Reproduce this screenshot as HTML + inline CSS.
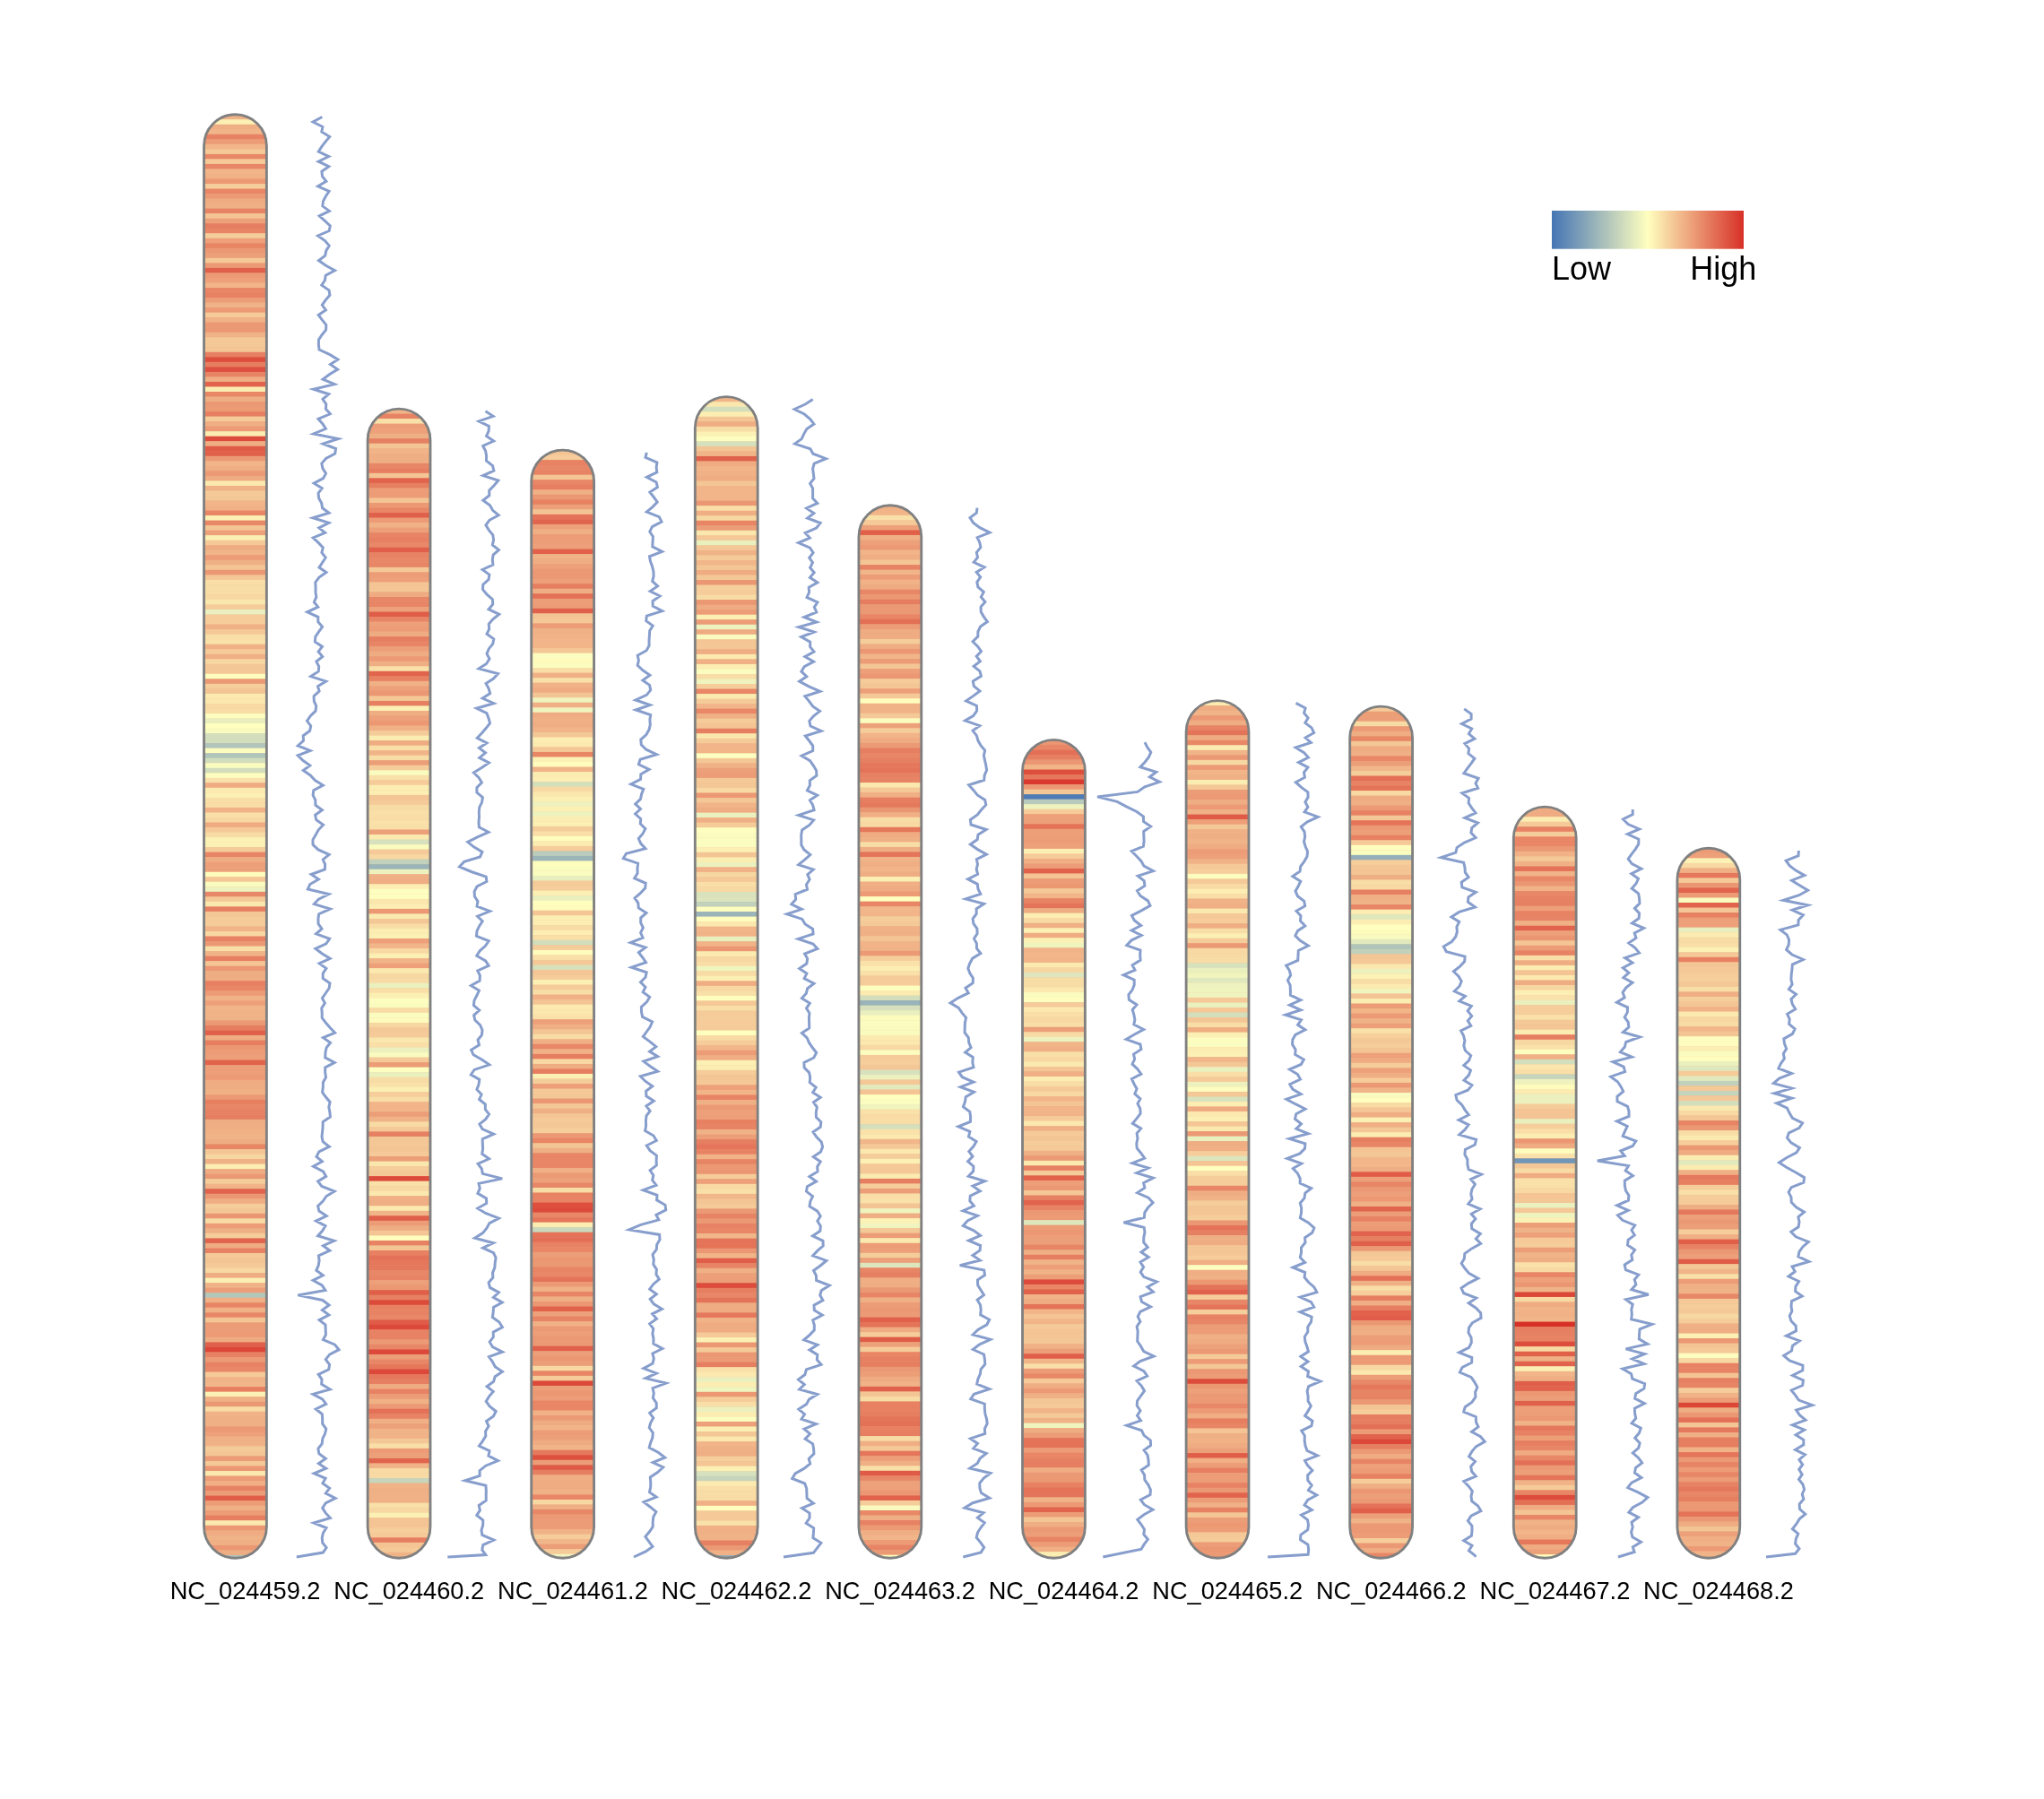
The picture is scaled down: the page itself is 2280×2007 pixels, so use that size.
<!DOCTYPE html><html><head><meta charset="utf-8"><style>html,body{margin:0;padding:0;background:#fff}svg{display:block;will-change:transform}text{font-family:"Liberation Sans",sans-serif;fill:#000}</style></head><body>
<svg width="2280" height="2007" viewBox="0 0 2280 2007">
<rect width="2280" height="2007" fill="#fff"/>
<defs><linearGradient id="lg" x1="0" x2="1" y1="0" y2="0"><stop offset="0" stop-color="#4575b4"/><stop offset="0.5" stop-color="#ffffbf"/><stop offset="1" stop-color="#d73027"/></linearGradient>
<clipPath id="c0"><rect x="227.53" y="127.70" width="69.85" height="1610.50" rx="34.93" ry="34.93"/></clipPath>
<clipPath id="c1"><rect x="410.12" y="456.05" width="69.85" height="1282.15" rx="34.93" ry="34.93"/></clipPath>
<clipPath id="c2"><rect x="592.72" y="502.05" width="69.85" height="1236.15" rx="34.93" ry="34.93"/></clipPath>
<clipPath id="c3"><rect x="775.32" y="442.68" width="69.85" height="1295.52" rx="34.93" ry="34.93"/></clipPath>
<clipPath id="c4"><rect x="957.92" y="563.79" width="69.85" height="1174.41" rx="34.93" ry="34.93"/></clipPath>
<clipPath id="c5"><rect x="1140.52" y="825.37" width="69.85" height="912.83" rx="34.93" ry="34.93"/></clipPath>
<clipPath id="c6"><rect x="1323.12" y="781.57" width="69.85" height="956.63" rx="34.93" ry="34.93"/></clipPath>
<clipPath id="c7"><rect x="1505.72" y="788.18" width="69.85" height="950.02" rx="34.93" ry="34.93"/></clipPath>
<clipPath id="c8"><rect x="1688.32" y="900.17" width="69.85" height="838.03" rx="34.93" ry="34.93"/></clipPath>
<clipPath id="c9"><rect x="1870.92" y="946.27" width="69.85" height="791.93" rx="34.93" ry="34.93"/></clipPath>
</defs>
<g clip-path="url(#c0)"><rect x="227.53" y="127.70" width="69.85" height="1610.50" fill="#f0b085"/><rect x="226.5" y="127.70" width="71.9" height="5.87" fill="#f0b287"/><rect x="226.5" y="133.22" width="71.9" height="5.87" fill="#fcf0b4"/><rect x="226.5" y="138.75" width="71.9" height="5.87" fill="#efaf84"/><rect x="226.5" y="144.27" width="71.9" height="5.87" fill="#f1b589"/><rect x="226.5" y="149.79" width="71.9" height="5.87" fill="#e78264"/><rect x="226.5" y="155.32" width="71.9" height="5.87" fill="#ec9d77"/><rect x="226.5" y="160.84" width="71.9" height="5.87" fill="#f1b589"/><rect x="226.5" y="166.36" width="71.9" height="5.87" fill="#f5c997"/><rect x="226.5" y="171.88" width="71.9" height="5.87" fill="#e88867"/><rect x="226.5" y="177.41" width="71.9" height="5.87" fill="#f5ca98"/><rect x="226.5" y="182.93" width="71.9" height="5.87" fill="#e88767"/><rect x="226.5" y="188.45" width="71.9" height="5.87" fill="#f1b588"/><rect x="226.5" y="193.98" width="71.9" height="5.87" fill="#f0b186"/><rect x="226.5" y="199.50" width="71.9" height="5.87" fill="#eb9873"/><rect x="226.5" y="205.02" width="71.9" height="5.87" fill="#f5cd9a"/><rect x="226.5" y="210.55" width="71.9" height="5.87" fill="#e88666"/><rect x="226.5" y="216.07" width="71.9" height="5.87" fill="#ec9a75"/><rect x="226.5" y="221.59" width="71.9" height="5.87" fill="#efac82"/><rect x="226.5" y="227.11" width="71.9" height="5.87" fill="#f0b085"/><rect x="226.5" y="232.64" width="71.9" height="5.87" fill="#e78465"/><rect x="226.5" y="238.16" width="71.9" height="5.87" fill="#f4c494"/><rect x="226.5" y="243.68" width="71.9" height="5.87" fill="#eda17a"/><rect x="226.5" y="249.21" width="71.9" height="5.87" fill="#e67f61"/><rect x="226.5" y="254.73" width="71.9" height="5.87" fill="#e78565"/><rect x="226.5" y="260.25" width="71.9" height="5.87" fill="#f5cd9a"/><rect x="226.5" y="265.78" width="71.9" height="5.87" fill="#eda079"/><rect x="226.5" y="271.30" width="71.9" height="5.87" fill="#e78565"/><rect x="226.5" y="276.82" width="71.9" height="5.87" fill="#eb9874"/><rect x="226.5" y="282.34" width="71.9" height="5.87" fill="#ec9f79"/><rect x="226.5" y="287.87" width="71.9" height="5.87" fill="#f4c897"/><rect x="226.5" y="293.39" width="71.9" height="5.87" fill="#ec9a75"/><rect x="226.5" y="298.91" width="71.9" height="5.87" fill="#e0614b"/><rect x="226.5" y="304.44" width="71.9" height="5.87" fill="#ec9b76"/><rect x="226.5" y="309.96" width="71.9" height="5.87" fill="#eda079"/><rect x="226.5" y="315.48" width="71.9" height="5.87" fill="#f1b589"/><rect x="226.5" y="321.00" width="71.9" height="5.87" fill="#e88666"/><rect x="226.5" y="326.53" width="71.9" height="5.87" fill="#e78162"/><rect x="226.5" y="332.05" width="71.9" height="5.87" fill="#ec9c77"/><rect x="226.5" y="337.57" width="71.9" height="5.87" fill="#f0b287"/><rect x="226.5" y="343.10" width="71.9" height="5.87" fill="#ec9b75"/><rect x="226.5" y="348.62" width="71.9" height="5.87" fill="#f5ca98"/><rect x="226.5" y="354.14" width="71.9" height="5.87" fill="#f0b287"/><rect x="226.5" y="359.67" width="71.9" height="5.87" fill="#eb9874"/><rect x="226.5" y="365.19" width="71.9" height="5.87" fill="#eb9974"/><rect x="226.5" y="370.71" width="71.9" height="5.87" fill="#f0b387"/><rect x="226.5" y="376.24" width="71.9" height="5.87" fill="#f4c897"/><rect x="226.5" y="381.76" width="71.9" height="5.87" fill="#f5c997"/><rect x="226.5" y="387.28" width="71.9" height="5.87" fill="#f4c595"/><rect x="226.5" y="392.80" width="71.9" height="5.87" fill="#e78062"/><rect x="226.5" y="398.33" width="71.9" height="5.87" fill="#dd4d3c"/><rect x="226.5" y="403.85" width="71.9" height="5.87" fill="#e67e60"/><rect x="226.5" y="409.37" width="71.9" height="5.87" fill="#dd4f3e"/><rect x="226.5" y="414.90" width="71.9" height="5.87" fill="#e78464"/><rect x="226.5" y="420.42" width="71.9" height="5.87" fill="#efae83"/><rect x="226.5" y="425.94" width="71.9" height="5.87" fill="#e1634d"/><rect x="226.5" y="431.47" width="71.9" height="5.87" fill="#fbecb1"/><rect x="226.5" y="436.99" width="71.9" height="5.87" fill="#e88867"/><rect x="226.5" y="442.51" width="71.9" height="5.87" fill="#efaf84"/><rect x="226.5" y="448.03" width="71.9" height="5.87" fill="#eb9974"/><rect x="226.5" y="453.56" width="71.9" height="5.87" fill="#ec9b75"/><rect x="226.5" y="459.08" width="71.9" height="5.87" fill="#e67f61"/><rect x="226.5" y="464.60" width="71.9" height="5.87" fill="#f5cb99"/><rect x="226.5" y="470.13" width="71.9" height="5.87" fill="#efae84"/><rect x="226.5" y="475.65" width="71.9" height="5.87" fill="#ec9b75"/><rect x="226.5" y="481.17" width="71.9" height="5.87" fill="#fbecb1"/><rect x="226.5" y="486.70" width="71.9" height="5.87" fill="#dc4b3b"/><rect x="226.5" y="492.22" width="71.9" height="5.87" fill="#efad83"/><rect x="226.5" y="497.74" width="71.9" height="5.87" fill="#df5b46"/><rect x="226.5" y="503.26" width="71.9" height="5.87" fill="#e0604a"/><rect x="226.5" y="508.79" width="71.9" height="5.87" fill="#eb9a75"/><rect x="226.5" y="514.31" width="71.9" height="5.87" fill="#f1b589"/><rect x="226.5" y="519.83" width="71.9" height="5.87" fill="#efae84"/><rect x="226.5" y="525.36" width="71.9" height="5.87" fill="#eb9a75"/><rect x="226.5" y="530.88" width="71.9" height="5.87" fill="#efab81"/><rect x="226.5" y="536.40" width="71.9" height="5.87" fill="#fbe9af"/><rect x="226.5" y="541.92" width="71.9" height="5.87" fill="#f0b387"/><rect x="226.5" y="547.45" width="71.9" height="5.87" fill="#f5ca98"/><rect x="226.5" y="552.97" width="71.9" height="5.87" fill="#f4c796"/><rect x="226.5" y="558.49" width="71.9" height="5.87" fill="#f1b589"/><rect x="226.5" y="564.02" width="71.9" height="5.87" fill="#f0b186"/><rect x="226.5" y="569.54" width="71.9" height="5.87" fill="#e88666"/><rect x="226.5" y="575.06" width="71.9" height="5.87" fill="#fcf0b4"/><rect x="226.5" y="580.59" width="71.9" height="5.87" fill="#e88867"/><rect x="226.5" y="586.11" width="71.9" height="5.87" fill="#f4c695"/><rect x="226.5" y="591.63" width="71.9" height="5.87" fill="#eda079"/><rect x="226.5" y="597.15" width="71.9" height="5.87" fill="#fcefb3"/><rect x="226.5" y="602.68" width="71.9" height="5.87" fill="#f5ca98"/><rect x="226.5" y="608.20" width="71.9" height="5.87" fill="#efac82"/><rect x="226.5" y="613.72" width="71.9" height="5.87" fill="#f1b589"/><rect x="226.5" y="619.25" width="71.9" height="5.87" fill="#ec9c76"/><rect x="226.5" y="624.77" width="71.9" height="5.87" fill="#f0b085"/><rect x="226.5" y="630.29" width="71.9" height="5.87" fill="#f4c594"/><rect x="226.5" y="635.82" width="71.9" height="5.87" fill="#eb9874"/><rect x="226.5" y="641.34" width="71.9" height="5.87" fill="#f4c595"/><rect x="226.5" y="646.86" width="71.9" height="5.87" fill="#f9dea7"/><rect x="226.5" y="652.38" width="71.9" height="5.87" fill="#f8dda6"/><rect x="226.5" y="657.91" width="71.9" height="5.87" fill="#f8dda6"/><rect x="226.5" y="663.43" width="71.9" height="5.87" fill="#f7d8a2"/><rect x="226.5" y="668.95" width="71.9" height="5.87" fill="#fae7ae"/><rect x="226.5" y="674.48" width="71.9" height="5.87" fill="#f5cd9a"/><rect x="226.5" y="680.00" width="71.9" height="5.87" fill="#e9efbe"/><rect x="226.5" y="685.52" width="71.9" height="5.87" fill="#f5cc9a"/><rect x="226.5" y="691.05" width="71.9" height="5.87" fill="#f5cc9a"/><rect x="226.5" y="696.57" width="71.9" height="5.87" fill="#f0b185"/><rect x="226.5" y="702.09" width="71.9" height="5.87" fill="#f4c897"/><rect x="226.5" y="707.62" width="71.9" height="5.87" fill="#f9dea7"/><rect x="226.5" y="713.14" width="71.9" height="5.87" fill="#f9e1a9"/><rect x="226.5" y="718.66" width="71.9" height="5.87" fill="#f0b186"/><rect x="226.5" y="724.18" width="71.9" height="5.87" fill="#f5cb99"/><rect x="226.5" y="729.71" width="71.9" height="5.87" fill="#f0b085"/><rect x="226.5" y="735.23" width="71.9" height="5.87" fill="#f7d7a2"/><rect x="226.5" y="740.75" width="71.9" height="5.87" fill="#f4c796"/><rect x="226.5" y="746.28" width="71.9" height="5.87" fill="#f5c997"/><rect x="226.5" y="751.80" width="71.9" height="5.87" fill="#fefebf"/><rect x="226.5" y="757.32" width="71.9" height="5.87" fill="#eb9a75"/><rect x="226.5" y="762.85" width="71.9" height="5.87" fill="#f6ce9b"/><rect x="226.5" y="768.37" width="71.9" height="5.87" fill="#f4c594"/><rect x="226.5" y="773.89" width="71.9" height="5.87" fill="#fbe9af"/><rect x="226.5" y="779.41" width="71.9" height="5.87" fill="#fbe8ae"/><rect x="226.5" y="784.94" width="71.9" height="5.87" fill="#f8d9a3"/><rect x="226.5" y="790.46" width="71.9" height="5.87" fill="#f8dda6"/><rect x="226.5" y="795.98" width="71.9" height="5.87" fill="#fcfdbf"/><rect x="226.5" y="801.51" width="71.9" height="5.87" fill="#e9eebe"/><rect x="226.5" y="807.03" width="71.9" height="5.87" fill="#feffbf"/><rect x="226.5" y="812.55" width="71.9" height="5.87" fill="#f9fabf"/><rect x="226.5" y="818.08" width="71.9" height="5.87" fill="#d2debc"/><rect x="226.5" y="823.60" width="71.9" height="5.87" fill="#d3dfbc"/><rect x="226.5" y="829.12" width="71.9" height="5.87" fill="#b1c5ba"/><rect x="226.5" y="834.64" width="71.9" height="5.87" fill="#fcfcbf"/><rect x="226.5" y="840.17" width="71.9" height="5.87" fill="#b0c5ba"/><rect x="226.5" y="845.69" width="71.9" height="5.87" fill="#d1ddbc"/><rect x="226.5" y="851.21" width="71.9" height="5.87" fill="#fafbbf"/><rect x="226.5" y="856.74" width="71.9" height="5.87" fill="#d2debc"/><rect x="226.5" y="862.26" width="71.9" height="5.87" fill="#fcfdbf"/><rect x="226.5" y="867.78" width="71.9" height="5.87" fill="#f9e1a9"/><rect x="226.5" y="873.30" width="71.9" height="5.87" fill="#efac82"/><rect x="226.5" y="878.83" width="71.9" height="5.87" fill="#fbebb0"/><rect x="226.5" y="884.35" width="71.9" height="5.87" fill="#fcf0b4"/><rect x="226.5" y="889.87" width="71.9" height="5.87" fill="#f9dea7"/><rect x="226.5" y="895.40" width="71.9" height="5.87" fill="#f9dda6"/><rect x="226.5" y="900.92" width="71.9" height="5.87" fill="#f0b286"/><rect x="226.5" y="906.44" width="71.9" height="5.87" fill="#f9e0a8"/><rect x="226.5" y="911.97" width="71.9" height="5.87" fill="#f7d8a2"/><rect x="226.5" y="917.49" width="71.9" height="5.87" fill="#efab81"/><rect x="226.5" y="923.01" width="71.9" height="5.87" fill="#f5ca98"/><rect x="226.5" y="928.53" width="71.9" height="5.87" fill="#f8dca5"/><rect x="226.5" y="934.06" width="71.9" height="5.87" fill="#fcf1b5"/><rect x="226.5" y="939.58" width="71.9" height="5.87" fill="#fcf1b4"/><rect x="226.5" y="945.10" width="71.9" height="5.87" fill="#f5cb99"/><rect x="226.5" y="950.63" width="71.9" height="5.87" fill="#e78566"/><rect x="226.5" y="956.15" width="71.9" height="5.87" fill="#efad83"/><rect x="226.5" y="961.67" width="71.9" height="5.87" fill="#ed9f79"/><rect x="226.5" y="967.20" width="71.9" height="5.87" fill="#eda17a"/><rect x="226.5" y="972.72" width="71.9" height="5.87" fill="#fefcbd"/><rect x="226.5" y="978.24" width="71.9" height="5.87" fill="#f5c997"/><rect x="226.5" y="983.76" width="71.9" height="5.87" fill="#fafbbf"/><rect x="226.5" y="989.29" width="71.9" height="5.87" fill="#edf2be"/><rect x="226.5" y="994.81" width="71.9" height="5.87" fill="#e88868"/><rect x="226.5" y="1000.33" width="71.9" height="5.87" fill="#f5c997"/><rect x="226.5" y="1005.86" width="71.9" height="5.87" fill="#fae7ae"/><rect x="226.5" y="1011.38" width="71.9" height="5.87" fill="#e67f61"/><rect x="226.5" y="1016.90" width="71.9" height="5.87" fill="#f4c796"/><rect x="226.5" y="1022.43" width="71.9" height="5.87" fill="#f5cc99"/><rect x="226.5" y="1027.95" width="71.9" height="5.87" fill="#f5cb99"/><rect x="226.5" y="1033.47" width="71.9" height="5.87" fill="#f0b488"/><rect x="226.5" y="1038.99" width="71.9" height="5.87" fill="#f8d9a3"/><rect x="226.5" y="1044.52" width="71.9" height="5.87" fill="#e78264"/><rect x="226.5" y="1050.04" width="71.9" height="5.87" fill="#eb9974"/><rect x="226.5" y="1055.56" width="71.9" height="5.87" fill="#f9dea7"/><rect x="226.5" y="1061.09" width="71.9" height="5.87" fill="#f0b387"/><rect x="226.5" y="1066.61" width="71.9" height="5.87" fill="#e67f61"/><rect x="226.5" y="1072.13" width="71.9" height="5.87" fill="#f4c494"/><rect x="226.5" y="1077.66" width="71.9" height="5.87" fill="#eb9873"/><rect x="226.5" y="1083.18" width="71.9" height="5.87" fill="#efad83"/><rect x="226.5" y="1088.70" width="71.9" height="5.87" fill="#efad83"/><rect x="226.5" y="1094.22" width="71.9" height="5.87" fill="#e78062"/><rect x="226.5" y="1099.75" width="71.9" height="5.87" fill="#e88666"/><rect x="226.5" y="1105.27" width="71.9" height="5.87" fill="#ec9b76"/><rect x="226.5" y="1110.79" width="71.9" height="5.87" fill="#f0b286"/><rect x="226.5" y="1116.32" width="71.9" height="5.87" fill="#eda17a"/><rect x="226.5" y="1121.84" width="71.9" height="5.87" fill="#f1b589"/><rect x="226.5" y="1127.36" width="71.9" height="5.87" fill="#f0b387"/><rect x="226.5" y="1132.89" width="71.9" height="5.87" fill="#f0b387"/><rect x="226.5" y="1138.41" width="71.9" height="5.87" fill="#eb9a75"/><rect x="226.5" y="1143.93" width="71.9" height="5.87" fill="#e67e60"/><rect x="226.5" y="1149.45" width="71.9" height="5.87" fill="#e0604a"/><rect x="226.5" y="1154.98" width="71.9" height="5.87" fill="#efac82"/><rect x="226.5" y="1160.50" width="71.9" height="5.87" fill="#e67e60"/><rect x="226.5" y="1166.02" width="71.9" height="5.87" fill="#eb9772"/><rect x="226.5" y="1171.55" width="71.9" height="5.87" fill="#ec9d77"/><rect x="226.5" y="1177.07" width="71.9" height="5.87" fill="#ec9f78"/><rect x="226.5" y="1182.59" width="71.9" height="5.87" fill="#e1634c"/><rect x="226.5" y="1188.12" width="71.9" height="5.87" fill="#ec9f78"/><rect x="226.5" y="1193.64" width="71.9" height="5.87" fill="#ec9f78"/><rect x="226.5" y="1199.16" width="71.9" height="5.87" fill="#ec9a75"/><rect x="226.5" y="1204.68" width="71.9" height="5.87" fill="#efac82"/><rect x="226.5" y="1210.21" width="71.9" height="5.87" fill="#efad83"/><rect x="226.5" y="1215.73" width="71.9" height="5.87" fill="#f0b185"/><rect x="226.5" y="1221.25" width="71.9" height="5.87" fill="#eb9a75"/><rect x="226.5" y="1226.78" width="71.9" height="5.87" fill="#e68061"/><rect x="226.5" y="1232.30" width="71.9" height="5.87" fill="#e88767"/><rect x="226.5" y="1237.82" width="71.9" height="5.87" fill="#e78163"/><rect x="226.5" y="1243.35" width="71.9" height="5.87" fill="#e67e61"/><rect x="226.5" y="1248.87" width="71.9" height="5.87" fill="#efad83"/><rect x="226.5" y="1254.39" width="71.9" height="5.87" fill="#efae83"/><rect x="226.5" y="1259.91" width="71.9" height="5.87" fill="#f0b185"/><rect x="226.5" y="1265.44" width="71.9" height="5.87" fill="#f0b488"/><rect x="226.5" y="1270.96" width="71.9" height="5.87" fill="#efad83"/><rect x="226.5" y="1276.48" width="71.9" height="5.87" fill="#e78565"/><rect x="226.5" y="1282.01" width="71.9" height="5.87" fill="#f4c695"/><rect x="226.5" y="1287.53" width="71.9" height="5.87" fill="#f7d7a1"/><rect x="226.5" y="1293.05" width="71.9" height="5.87" fill="#f0b186"/><rect x="226.5" y="1298.58" width="71.9" height="5.87" fill="#fcedb2"/><rect x="226.5" y="1304.10" width="71.9" height="5.87" fill="#efac82"/><rect x="226.5" y="1309.62" width="71.9" height="5.87" fill="#eb9974"/><rect x="226.5" y="1315.14" width="71.9" height="5.87" fill="#f5cd9a"/><rect x="226.5" y="1320.67" width="71.9" height="5.87" fill="#f1b488"/><rect x="226.5" y="1326.19" width="71.9" height="5.87" fill="#e1634d"/><rect x="226.5" y="1331.71" width="71.9" height="5.87" fill="#eb9773"/><rect x="226.5" y="1337.24" width="71.9" height="5.87" fill="#efad83"/><rect x="226.5" y="1342.76" width="71.9" height="5.87" fill="#f5cd9a"/><rect x="226.5" y="1348.28" width="71.9" height="5.87" fill="#f4c695"/><rect x="226.5" y="1353.81" width="71.9" height="5.87" fill="#eb9672"/><rect x="226.5" y="1359.33" width="71.9" height="5.87" fill="#f8daa4"/><rect x="226.5" y="1364.85" width="71.9" height="5.87" fill="#ec9d77"/><rect x="226.5" y="1370.38" width="71.9" height="5.87" fill="#f0b085"/><rect x="226.5" y="1375.90" width="71.9" height="5.87" fill="#f5cd9a"/><rect x="226.5" y="1381.42" width="71.9" height="5.87" fill="#e1654e"/><rect x="226.5" y="1386.94" width="71.9" height="5.87" fill="#efab82"/><rect x="226.5" y="1392.47" width="71.9" height="5.87" fill="#e78163"/><rect x="226.5" y="1397.99" width="71.9" height="5.87" fill="#f5c997"/><rect x="226.5" y="1403.51" width="71.9" height="5.87" fill="#f4c594"/><rect x="226.5" y="1409.04" width="71.9" height="5.87" fill="#f5ca98"/><rect x="226.5" y="1414.56" width="71.9" height="5.87" fill="#f7d8a2"/><rect x="226.5" y="1420.08" width="71.9" height="5.87" fill="#efad83"/><rect x="226.5" y="1425.61" width="71.9" height="5.87" fill="#fcefb4"/><rect x="226.5" y="1431.13" width="71.9" height="5.87" fill="#f0b387"/><rect x="226.5" y="1436.65" width="71.9" height="5.87" fill="#ec9e78"/><rect x="226.5" y="1442.17" width="71.9" height="5.87" fill="#b2c6ba"/><rect x="226.5" y="1447.70" width="71.9" height="5.87" fill="#f0af85"/><rect x="226.5" y="1453.22" width="71.9" height="5.87" fill="#e88566"/><rect x="226.5" y="1458.74" width="71.9" height="5.87" fill="#f0b186"/><rect x="226.5" y="1464.27" width="71.9" height="5.87" fill="#e88767"/><rect x="226.5" y="1469.79" width="71.9" height="5.87" fill="#f4c594"/><rect x="226.5" y="1475.31" width="71.9" height="5.87" fill="#ec9d77"/><rect x="226.5" y="1480.84" width="71.9" height="5.87" fill="#ec9c76"/><rect x="226.5" y="1486.36" width="71.9" height="5.87" fill="#ec9b75"/><rect x="226.5" y="1491.88" width="71.9" height="5.87" fill="#efac82"/><rect x="226.5" y="1497.40" width="71.9" height="5.87" fill="#e0604b"/><rect x="226.5" y="1502.93" width="71.9" height="5.87" fill="#db4637"/><rect x="226.5" y="1508.45" width="71.9" height="5.87" fill="#e78364"/><rect x="226.5" y="1513.97" width="71.9" height="5.87" fill="#ec9b76"/><rect x="226.5" y="1519.50" width="71.9" height="5.87" fill="#e78364"/><rect x="226.5" y="1525.02" width="71.9" height="5.87" fill="#e88868"/><rect x="226.5" y="1530.54" width="71.9" height="5.87" fill="#f5ca98"/><rect x="226.5" y="1536.07" width="71.9" height="5.87" fill="#f0b488"/><rect x="226.5" y="1541.59" width="71.9" height="5.87" fill="#f1b689"/><rect x="226.5" y="1547.11" width="71.9" height="5.87" fill="#e68061"/><rect x="226.5" y="1552.63" width="71.9" height="5.87" fill="#fcf0b4"/><rect x="226.5" y="1558.16" width="71.9" height="5.87" fill="#f0b185"/><rect x="226.5" y="1563.68" width="71.9" height="5.87" fill="#eb9974"/><rect x="226.5" y="1569.20" width="71.9" height="5.87" fill="#f8dba5"/><rect x="226.5" y="1574.73" width="71.9" height="5.87" fill="#f0b287"/><rect x="226.5" y="1580.25" width="71.9" height="5.87" fill="#f0b085"/><rect x="226.5" y="1585.77" width="71.9" height="5.87" fill="#f0b085"/><rect x="226.5" y="1591.30" width="71.9" height="5.87" fill="#eb9974"/><rect x="226.5" y="1596.82" width="71.9" height="5.87" fill="#eda079"/><rect x="226.5" y="1602.34" width="71.9" height="5.87" fill="#f0b085"/><rect x="226.5" y="1607.86" width="71.9" height="5.87" fill="#f0b387"/><rect x="226.5" y="1613.39" width="71.9" height="5.87" fill="#f5cc99"/><rect x="226.5" y="1618.91" width="71.9" height="5.87" fill="#f4c695"/><rect x="226.5" y="1624.43" width="71.9" height="5.87" fill="#ec9c76"/><rect x="226.5" y="1629.96" width="71.9" height="5.87" fill="#f4c997"/><rect x="226.5" y="1635.48" width="71.9" height="5.87" fill="#eb9974"/><rect x="226.5" y="1641.00" width="71.9" height="5.87" fill="#fbe8ae"/><rect x="226.5" y="1646.52" width="71.9" height="5.87" fill="#ec9c76"/><rect x="226.5" y="1652.05" width="71.9" height="5.87" fill="#f0af84"/><rect x="226.5" y="1657.57" width="71.9" height="5.87" fill="#e78364"/><rect x="226.5" y="1663.09" width="71.9" height="5.87" fill="#ec9c76"/><rect x="226.5" y="1668.62" width="71.9" height="5.87" fill="#e05e48"/><rect x="226.5" y="1674.14" width="71.9" height="5.87" fill="#ec9c76"/><rect x="226.5" y="1679.66" width="71.9" height="5.87" fill="#f0b085"/><rect x="226.5" y="1685.19" width="71.9" height="5.87" fill="#ec9c76"/><rect x="226.5" y="1690.71" width="71.9" height="5.87" fill="#e67e60"/><rect x="226.5" y="1696.23" width="71.9" height="5.87" fill="#fbeab0"/><rect x="226.5" y="1701.75" width="71.9" height="5.87" fill="#eb9873"/><rect x="226.5" y="1707.28" width="71.9" height="5.87" fill="#efac82"/><rect x="226.5" y="1712.80" width="71.9" height="5.87" fill="#f0b387"/><rect x="226.5" y="1718.32" width="71.9" height="5.87" fill="#f0b085"/><rect x="226.5" y="1723.85" width="71.9" height="5.87" fill="#eb9773"/><rect x="226.5" y="1729.37" width="71.9" height="5.87" fill="#efad83"/><rect x="226.5" y="1734.89" width="71.9" height="5.66" fill="#b1c5ba"/></g>
<rect x="227.53" y="127.70" width="69.85" height="1610.50" rx="34.93" ry="34.93" fill="none" stroke="#808080" stroke-width="2.85"/>
<polyline fill="none" stroke="#879ecd" stroke-width="3.0" stroke-linejoin="miter" points="359.3,130.5 349.1,136.0 359.9,141.5 358.8,147.0 367.7,152.6 363.0,158.1 358.8,163.6 355.3,169.1 366.7,174.6 355.2,180.2 366.8,185.7 358.9,191.2 359.5,196.7 363.9,202.3 354.6,207.8 367.1,213.3 363.5,218.8 360.5,224.4 359.8,229.9 367.4,235.4 356.2,240.9 362.4,246.4 368.3,252.0 367.2,257.5 354.6,263.0 362.5,268.5 367.2,274.1 363.8,279.6 362.7,285.1 355.5,290.6 363.5,296.2 373.5,301.7 363.3,307.2 362.4,312.7 358.8,318.2 367.0,323.8 367.9,329.3 363.1,334.8 359.3,340.3 363.4,345.9 355.2,351.4 359.3,356.9 363.8,362.4 363.6,368.0 359.2,373.5 355.5,379.0 355.4,384.5 356.0,390.0 368.0,395.6 376.9,401.1 368.5,406.6 376.6,412.1 367.4,417.7 360.1,423.2 373.1,428.7 349.6,434.2 366.7,439.7 360.0,445.3 363.8,450.8 363.4,456.3 368.3,461.8 355.0,467.4 360.0,472.9 363.4,478.4 349.8,483.9 377.3,489.5 360.3,495.0 374.6,500.5 373.7,506.0 363.6,511.5 358.8,517.1 360.0,522.6 363.5,528.1 360.6,533.6 350.2,539.2 359.2,544.7 355.1,550.2 355.6,555.7 358.7,561.3 359.6,566.8 367.0,572.3 349.0,577.8 366.8,583.3 355.8,588.9 362.6,594.4 349.2,599.9 355.1,605.4 360.3,611.0 358.9,616.5 363.2,622.0 359.7,627.5 356.0,633.1 363.9,638.6 356.0,644.1 351.8,649.6 352.1,655.1 352.0,660.7 352.8,666.2 350.4,671.7 354.7,677.2 342.7,682.8 354.8,688.3 354.8,693.8 359.6,699.3 355.5,704.9 351.8,710.4 351.4,715.9 359.5,721.4 355.1,726.9 359.8,732.5 352.9,738.0 355.7,743.5 355.3,749.0 346.7,754.6 363.6,760.1 354.5,765.6 356.1,771.1 350.1,776.7 350.3,782.2 352.7,787.7 352.0,793.2 346.3,798.7 342.5,804.3 346.7,809.8 345.6,815.3 338.2,820.8 338.5,826.4 332.3,831.9 346.1,837.4 332.2,842.9 338.1,848.5 345.8,854.0 338.3,859.5 346.2,865.0 351.4,870.5 360.3,876.1 349.8,881.6 349.1,887.1 351.8,892.6 351.9,898.2 359.4,903.7 351.6,909.2 352.8,914.7 360.6,920.3 355.2,925.8 352.2,931.3 349.0,936.8 349.0,942.3 355.0,947.9 367.1,953.4 360.3,958.9 362.6,964.4 362.4,970.0 347.2,975.5 355.4,981.0 345.8,986.5 343.3,992.0 366.7,997.6 355.4,1003.1 350.4,1008.6 368.3,1014.1 355.7,1019.7 354.9,1025.2 355.1,1030.7 359.0,1036.2 352.6,1041.8 367.6,1047.3 363.8,1052.8 351.9,1058.3 359.1,1063.8 368.2,1069.4 356.2,1074.9 363.9,1080.4 360.2,1085.9 360.2,1091.5 368.0,1097.0 367.1,1102.5 363.3,1108.0 359.4,1113.6 362.4,1119.1 358.8,1124.6 359.2,1130.1 359.2,1135.6 363.6,1141.2 368.4,1146.7 373.6,1152.2 360.5,1157.7 368.5,1163.3 364.1,1168.8 363.0,1174.3 362.7,1179.8 373.2,1185.4 362.7,1190.9 362.7,1196.4 363.5,1201.9 360.4,1207.4 360.3,1213.0 359.6,1218.5 363.5,1224.0 368.1,1229.5 366.8,1235.1 367.9,1240.6 368.4,1246.1 360.2,1251.6 360.1,1257.2 359.6,1262.7 359.0,1268.2 360.2,1273.7 367.3,1279.2 355.9,1284.8 353.0,1290.3 359.4,1295.8 349.5,1301.3 360.5,1306.9 363.7,1312.4 354.7,1317.9 358.9,1323.4 373.1,1329.0 364.0,1334.5 360.2,1340.0 354.6,1345.5 355.9,1351.0 364.2,1356.6 352.5,1362.1 363.0,1367.6 359.7,1373.1 354.6,1378.7 372.8,1384.2 360.5,1389.7 367.9,1395.2 355.4,1400.8 356.1,1406.3 355.2,1411.8 352.8,1417.3 360.3,1422.8 349.2,1428.4 359.2,1433.9 362.9,1439.4 332.3,1444.9 359.8,1450.5 367.1,1456.0 359.5,1461.5 366.9,1467.0 356.1,1472.6 363.0,1478.1 363.2,1483.6 363.4,1489.1 360.4,1494.6 373.6,1500.2 378.1,1505.7 367.6,1511.2 363.3,1516.7 367.6,1522.3 366.7,1527.8 355.2,1533.3 359.0,1538.8 358.7,1544.3 368.1,1549.9 349.1,1555.4 359.6,1560.9 363.7,1566.4 352.3,1572.0 359.3,1577.5 359.7,1583.0 359.7,1588.5 363.8,1594.1 362.5,1599.6 359.8,1605.1 359.2,1610.6 354.9,1616.1 355.8,1621.7 363.3,1627.2 355.4,1632.7 363.7,1638.2 350.3,1643.8 363.1,1649.3 359.9,1654.8 367.6,1660.3 363.3,1665.9 374.1,1671.4 363.2,1676.9 359.7,1682.4 363.2,1687.9 368.4,1693.5 350.0,1699.0 364.0,1704.5 360.5,1710.0 359.2,1715.6 359.8,1721.1 364.1,1726.6 360.3,1732.1 330.8,1737.0"/>
<text x="273.6" y="1783.6" font-size="26.9" text-anchor="middle" textLength="167.8" lengthAdjust="spacingAndGlyphs">NC_024459.2</text>
<g clip-path="url(#c1)"><rect x="410.12" y="456.05" width="69.85" height="1282.15" fill="#f0b085"/><rect x="409.1" y="456.05" width="71.9" height="5.87" fill="#f1b488"/><rect x="409.1" y="461.58" width="71.9" height="5.87" fill="#e78364"/><rect x="409.1" y="467.10" width="71.9" height="5.87" fill="#f9e0a9"/><rect x="409.1" y="472.62" width="71.9" height="5.87" fill="#ec9e78"/><rect x="409.1" y="478.14" width="71.9" height="5.87" fill="#eda079"/><rect x="409.1" y="483.67" width="71.9" height="5.87" fill="#efaf84"/><rect x="409.1" y="489.19" width="71.9" height="5.87" fill="#e68062"/><rect x="409.1" y="494.71" width="71.9" height="5.87" fill="#f4c594"/><rect x="409.1" y="500.24" width="71.9" height="5.87" fill="#f1b488"/><rect x="409.1" y="505.76" width="71.9" height="5.87" fill="#efae84"/><rect x="409.1" y="511.28" width="71.9" height="5.87" fill="#efaf84"/><rect x="409.1" y="516.81" width="71.9" height="5.87" fill="#e88767"/><rect x="409.1" y="522.33" width="71.9" height="5.87" fill="#e67f61"/><rect x="409.1" y="527.85" width="71.9" height="5.87" fill="#f4c494"/><rect x="409.1" y="533.37" width="71.9" height="5.87" fill="#e1634c"/><rect x="409.1" y="538.90" width="71.9" height="5.87" fill="#e67e60"/><rect x="409.1" y="544.42" width="71.9" height="5.87" fill="#ec9d77"/><rect x="409.1" y="549.94" width="71.9" height="5.87" fill="#ec9c76"/><rect x="409.1" y="555.47" width="71.9" height="5.87" fill="#f4c494"/><rect x="409.1" y="560.99" width="71.9" height="5.87" fill="#eb9873"/><rect x="409.1" y="566.51" width="71.9" height="5.87" fill="#e88666"/><rect x="409.1" y="572.04" width="71.9" height="5.87" fill="#e0604b"/><rect x="409.1" y="577.56" width="71.9" height="5.87" fill="#ec9b76"/><rect x="409.1" y="583.08" width="71.9" height="5.87" fill="#f0b287"/><rect x="409.1" y="588.60" width="71.9" height="5.87" fill="#ec9f78"/><rect x="409.1" y="594.13" width="71.9" height="5.87" fill="#e78565"/><rect x="409.1" y="599.65" width="71.9" height="5.87" fill="#e78062"/><rect x="409.1" y="605.17" width="71.9" height="5.87" fill="#e88868"/><rect x="409.1" y="610.70" width="71.9" height="5.87" fill="#e05f4a"/><rect x="409.1" y="616.22" width="71.9" height="5.87" fill="#e78364"/><rect x="409.1" y="621.74" width="71.9" height="5.87" fill="#e88868"/><rect x="409.1" y="627.27" width="71.9" height="5.87" fill="#e78565"/><rect x="409.1" y="632.79" width="71.9" height="5.87" fill="#f4c897"/><rect x="409.1" y="638.31" width="71.9" height="5.87" fill="#ec9c76"/><rect x="409.1" y="643.83" width="71.9" height="5.87" fill="#eda079"/><rect x="409.1" y="649.36" width="71.9" height="5.87" fill="#f4c494"/><rect x="409.1" y="654.88" width="71.9" height="5.87" fill="#f4c695"/><rect x="409.1" y="660.40" width="71.9" height="5.87" fill="#efab82"/><rect x="409.1" y="665.93" width="71.9" height="5.87" fill="#e88767"/><rect x="409.1" y="671.45" width="71.9" height="5.87" fill="#e78566"/><rect x="409.1" y="676.97" width="71.9" height="5.87" fill="#eda17a"/><rect x="409.1" y="682.50" width="71.9" height="5.87" fill="#e05d48"/><rect x="409.1" y="688.02" width="71.9" height="5.87" fill="#e78566"/><rect x="409.1" y="693.54" width="71.9" height="5.87" fill="#eda079"/><rect x="409.1" y="699.06" width="71.9" height="5.87" fill="#ec9c77"/><rect x="409.1" y="704.59" width="71.9" height="5.87" fill="#efac82"/><rect x="409.1" y="710.11" width="71.9" height="5.87" fill="#e67f61"/><rect x="409.1" y="715.63" width="71.9" height="5.87" fill="#e88566"/><rect x="409.1" y="721.16" width="71.9" height="5.87" fill="#ed9f79"/><rect x="409.1" y="726.68" width="71.9" height="5.87" fill="#efac82"/><rect x="409.1" y="732.20" width="71.9" height="5.87" fill="#ec9b75"/><rect x="409.1" y="737.73" width="71.9" height="5.87" fill="#efae84"/><rect x="409.1" y="743.25" width="71.9" height="5.87" fill="#f9e0a8"/><rect x="409.1" y="748.77" width="71.9" height="5.87" fill="#e1644d"/><rect x="409.1" y="754.29" width="71.9" height="5.87" fill="#e78162"/><rect x="409.1" y="759.82" width="71.9" height="5.87" fill="#f0b186"/><rect x="409.1" y="765.34" width="71.9" height="5.87" fill="#eda079"/><rect x="409.1" y="770.86" width="71.9" height="5.87" fill="#eb9773"/><rect x="409.1" y="776.39" width="71.9" height="5.87" fill="#f4c896"/><rect x="409.1" y="781.91" width="71.9" height="5.87" fill="#e68061"/><rect x="409.1" y="787.43" width="71.9" height="5.87" fill="#fcf1b5"/><rect x="409.1" y="792.96" width="71.9" height="5.87" fill="#efad82"/><rect x="409.1" y="798.48" width="71.9" height="5.87" fill="#eda079"/><rect x="409.1" y="804.00" width="71.9" height="5.87" fill="#eb9873"/><rect x="409.1" y="809.52" width="71.9" height="5.87" fill="#f0b186"/><rect x="409.1" y="815.05" width="71.9" height="5.87" fill="#f5cb99"/><rect x="409.1" y="820.57" width="71.9" height="5.87" fill="#fbecb1"/><rect x="409.1" y="826.09" width="71.9" height="5.87" fill="#efac82"/><rect x="409.1" y="831.62" width="71.9" height="5.87" fill="#f9dea7"/><rect x="409.1" y="837.14" width="71.9" height="5.87" fill="#f1b488"/><rect x="409.1" y="842.66" width="71.9" height="5.87" fill="#f8dca5"/><rect x="409.1" y="848.19" width="71.9" height="5.87" fill="#ec9e78"/><rect x="409.1" y="853.71" width="71.9" height="5.87" fill="#f5cd9b"/><rect x="409.1" y="859.23" width="71.9" height="5.87" fill="#fafbbf"/><rect x="409.1" y="864.75" width="71.9" height="5.87" fill="#f9e1a9"/><rect x="409.1" y="870.28" width="71.9" height="5.87" fill="#f5cc9a"/><rect x="409.1" y="875.80" width="71.9" height="5.87" fill="#fceeb3"/><rect x="409.1" y="881.32" width="71.9" height="5.87" fill="#fceeb3"/><rect x="409.1" y="886.85" width="71.9" height="5.87" fill="#f4c695"/><rect x="409.1" y="892.37" width="71.9" height="5.87" fill="#f5cb99"/><rect x="409.1" y="897.89" width="71.9" height="5.87" fill="#f8dca5"/><rect x="409.1" y="903.42" width="71.9" height="5.87" fill="#f9dfa8"/><rect x="409.1" y="908.94" width="71.9" height="5.87" fill="#f9dda6"/><rect x="409.1" y="914.46" width="71.9" height="5.87" fill="#f9e1a9"/><rect x="409.1" y="919.98" width="71.9" height="5.87" fill="#f9dea7"/><rect x="409.1" y="925.51" width="71.9" height="5.87" fill="#eda17a"/><rect x="409.1" y="931.03" width="71.9" height="5.87" fill="#fbeaaf"/><rect x="409.1" y="936.55" width="71.9" height="5.87" fill="#d7e1bd"/><rect x="409.1" y="942.08" width="71.9" height="5.87" fill="#fafbbf"/><rect x="409.1" y="947.60" width="71.9" height="5.87" fill="#f5c998"/><rect x="409.1" y="953.12" width="71.9" height="5.87" fill="#f7d7a2"/><rect x="409.1" y="958.65" width="71.9" height="5.87" fill="#c2d1bb"/><rect x="409.1" y="964.17" width="71.9" height="5.87" fill="#9ab4b9"/><rect x="409.1" y="969.69" width="71.9" height="5.87" fill="#ecf1be"/><rect x="409.1" y="975.21" width="71.9" height="5.87" fill="#f0b085"/><rect x="409.1" y="980.74" width="71.9" height="5.87" fill="#efad83"/><rect x="409.1" y="986.26" width="71.9" height="5.87" fill="#fceeb2"/><rect x="409.1" y="991.78" width="71.9" height="5.87" fill="#fdfebf"/><rect x="409.1" y="997.31" width="71.9" height="5.87" fill="#ffffbf"/><rect x="409.1" y="1002.83" width="71.9" height="5.87" fill="#fae7ae"/><rect x="409.1" y="1008.35" width="71.9" height="5.87" fill="#fceeb3"/><rect x="409.1" y="1013.88" width="71.9" height="5.87" fill="#eb9873"/><rect x="409.1" y="1019.40" width="71.9" height="5.87" fill="#fbeab0"/><rect x="409.1" y="1024.92" width="71.9" height="5.87" fill="#f4c896"/><rect x="409.1" y="1030.44" width="71.9" height="5.87" fill="#f8dda6"/><rect x="409.1" y="1035.97" width="71.9" height="5.87" fill="#fceeb3"/><rect x="409.1" y="1041.49" width="71.9" height="5.87" fill="#fcf1b5"/><rect x="409.1" y="1047.01" width="71.9" height="5.87" fill="#eda079"/><rect x="409.1" y="1052.54" width="71.9" height="5.87" fill="#f1b589"/><rect x="409.1" y="1058.06" width="71.9" height="5.87" fill="#f8d9a3"/><rect x="409.1" y="1063.58" width="71.9" height="5.87" fill="#fcefb3"/><rect x="409.1" y="1069.11" width="71.9" height="5.87" fill="#f1b488"/><rect x="409.1" y="1074.63" width="71.9" height="5.87" fill="#eda079"/><rect x="409.1" y="1080.15" width="71.9" height="5.87" fill="#fbe9af"/><rect x="409.1" y="1085.67" width="71.9" height="5.87" fill="#f7d8a2"/><rect x="409.1" y="1091.20" width="71.9" height="5.87" fill="#f8daa4"/><rect x="409.1" y="1096.72" width="71.9" height="5.87" fill="#eaf0be"/><rect x="409.1" y="1102.24" width="71.9" height="5.87" fill="#f9dfa7"/><rect x="409.1" y="1107.77" width="71.9" height="5.87" fill="#fcefb3"/><rect x="409.1" y="1113.29" width="71.9" height="5.87" fill="#fdfdbf"/><rect x="409.1" y="1118.81" width="71.9" height="5.87" fill="#fafbbf"/><rect x="409.1" y="1124.34" width="71.9" height="5.87" fill="#f8dca6"/><rect x="409.1" y="1129.86" width="71.9" height="5.87" fill="#fbfcbf"/><rect x="409.1" y="1135.38" width="71.9" height="5.87" fill="#fefcbd"/><rect x="409.1" y="1140.90" width="71.9" height="5.87" fill="#f7d7a1"/><rect x="409.1" y="1146.43" width="71.9" height="5.87" fill="#f5c997"/><rect x="409.1" y="1151.95" width="71.9" height="5.87" fill="#f5cc99"/><rect x="409.1" y="1157.47" width="71.9" height="5.87" fill="#fae7ae"/><rect x="409.1" y="1163.00" width="71.9" height="5.87" fill="#f9dea7"/><rect x="409.1" y="1168.52" width="71.9" height="5.87" fill="#ebf0be"/><rect x="409.1" y="1174.04" width="71.9" height="5.87" fill="#f8fabf"/><rect x="409.1" y="1179.57" width="71.9" height="5.87" fill="#f5ca98"/><rect x="409.1" y="1185.09" width="71.9" height="5.87" fill="#ec9c76"/><rect x="409.1" y="1190.61" width="71.9" height="5.87" fill="#fdfebf"/><rect x="409.1" y="1196.13" width="71.9" height="5.87" fill="#eaefbe"/><rect x="409.1" y="1201.66" width="71.9" height="5.87" fill="#f8dca5"/><rect x="409.1" y="1207.18" width="71.9" height="5.87" fill="#f9e1a9"/><rect x="409.1" y="1212.70" width="71.9" height="5.87" fill="#fcefb3"/><rect x="409.1" y="1218.23" width="71.9" height="5.87" fill="#f5ce9b"/><rect x="409.1" y="1223.75" width="71.9" height="5.87" fill="#f8dda6"/><rect x="409.1" y="1229.27" width="71.9" height="5.87" fill="#f1b589"/><rect x="409.1" y="1234.80" width="71.9" height="5.87" fill="#f1b589"/><rect x="409.1" y="1240.32" width="71.9" height="5.87" fill="#ec9e78"/><rect x="409.1" y="1245.84" width="71.9" height="5.87" fill="#f0b387"/><rect x="409.1" y="1251.36" width="71.9" height="5.87" fill="#f8dba4"/><rect x="409.1" y="1256.89" width="71.9" height="5.87" fill="#f5c997"/><rect x="409.1" y="1262.41" width="71.9" height="5.87" fill="#e68062"/><rect x="409.1" y="1267.93" width="71.9" height="5.87" fill="#f4c796"/><rect x="409.1" y="1273.46" width="71.9" height="5.87" fill="#f4c796"/><rect x="409.1" y="1278.98" width="71.9" height="5.87" fill="#f4c594"/><rect x="409.1" y="1284.50" width="71.9" height="5.87" fill="#f5ca98"/><rect x="409.1" y="1290.03" width="71.9" height="5.87" fill="#ec9e77"/><rect x="409.1" y="1295.55" width="71.9" height="5.87" fill="#fae7ad"/><rect x="409.1" y="1301.07" width="71.9" height="5.87" fill="#f5cd9a"/><rect x="409.1" y="1306.59" width="71.9" height="5.87" fill="#f4c796"/><rect x="409.1" y="1312.12" width="71.9" height="5.87" fill="#dc493a"/><rect x="409.1" y="1317.64" width="71.9" height="5.87" fill="#f9e1a9"/><rect x="409.1" y="1323.16" width="71.9" height="5.87" fill="#f8d8a3"/><rect x="409.1" y="1328.69" width="71.9" height="5.87" fill="#fbe8ae"/><rect x="409.1" y="1334.21" width="71.9" height="5.87" fill="#f0af84"/><rect x="409.1" y="1339.73" width="71.9" height="5.87" fill="#efae83"/><rect x="409.1" y="1345.26" width="71.9" height="5.87" fill="#fbe9af"/><rect x="409.1" y="1350.78" width="71.9" height="5.87" fill="#f1b488"/><rect x="409.1" y="1356.30" width="71.9" height="5.87" fill="#e05f4a"/><rect x="409.1" y="1361.82" width="71.9" height="5.87" fill="#ec9c76"/><rect x="409.1" y="1367.35" width="71.9" height="5.87" fill="#efad83"/><rect x="409.1" y="1372.87" width="71.9" height="5.87" fill="#f4c695"/><rect x="409.1" y="1378.39" width="71.9" height="5.87" fill="#fffebe"/><rect x="409.1" y="1383.92" width="71.9" height="5.87" fill="#e78263"/><rect x="409.1" y="1389.44" width="71.9" height="5.87" fill="#f4c594"/><rect x="409.1" y="1394.96" width="71.9" height="5.87" fill="#e78162"/><rect x="409.1" y="1400.49" width="71.9" height="5.87" fill="#e47258"/><rect x="409.1" y="1406.01" width="71.9" height="5.87" fill="#e5775b"/><rect x="409.1" y="1411.53" width="71.9" height="5.87" fill="#e5795d"/><rect x="409.1" y="1417.05" width="71.9" height="5.87" fill="#e88767"/><rect x="409.1" y="1422.58" width="71.9" height="5.87" fill="#e78465"/><rect x="409.1" y="1428.10" width="71.9" height="5.87" fill="#eda079"/><rect x="409.1" y="1433.62" width="71.9" height="5.87" fill="#eb9873"/><rect x="409.1" y="1439.15" width="71.9" height="5.87" fill="#e05f49"/><rect x="409.1" y="1444.67" width="71.9" height="5.87" fill="#e78163"/><rect x="409.1" y="1450.19" width="71.9" height="5.87" fill="#dc4a3a"/><rect x="409.1" y="1455.72" width="71.9" height="5.87" fill="#e78162"/><rect x="409.1" y="1461.24" width="71.9" height="5.87" fill="#e78364"/><rect x="409.1" y="1466.76" width="71.9" height="5.87" fill="#e88868"/><rect x="409.1" y="1472.28" width="71.9" height="5.87" fill="#e05c48"/><rect x="409.1" y="1477.81" width="71.9" height="5.87" fill="#dc4839"/><rect x="409.1" y="1483.33" width="71.9" height="5.87" fill="#e78364"/><rect x="409.1" y="1488.85" width="71.9" height="5.87" fill="#e78264"/><rect x="409.1" y="1494.38" width="71.9" height="5.87" fill="#eb9a75"/><rect x="409.1" y="1499.90" width="71.9" height="5.87" fill="#e88767"/><rect x="409.1" y="1505.42" width="71.9" height="5.87" fill="#dc4839"/><rect x="409.1" y="1510.95" width="71.9" height="5.87" fill="#ec9e78"/><rect x="409.1" y="1516.47" width="71.9" height="5.87" fill="#e88767"/><rect x="409.1" y="1521.99" width="71.9" height="5.87" fill="#e5775b"/><rect x="409.1" y="1527.51" width="71.9" height="5.87" fill="#dc4839"/><rect x="409.1" y="1533.04" width="71.9" height="5.87" fill="#e5775b"/><rect x="409.1" y="1538.56" width="71.9" height="5.87" fill="#e78062"/><rect x="409.1" y="1544.08" width="71.9" height="5.87" fill="#efab81"/><rect x="409.1" y="1549.61" width="71.9" height="5.87" fill="#e78364"/><rect x="409.1" y="1555.13" width="71.9" height="5.87" fill="#ec9d77"/><rect x="409.1" y="1560.65" width="71.9" height="5.87" fill="#f0b185"/><rect x="409.1" y="1566.18" width="71.9" height="5.87" fill="#eb9a75"/><rect x="409.1" y="1571.70" width="71.9" height="5.87" fill="#e47157"/><rect x="409.1" y="1577.22" width="71.9" height="5.87" fill="#e78263"/><rect x="409.1" y="1582.74" width="71.9" height="5.87" fill="#f0af84"/><rect x="409.1" y="1588.27" width="71.9" height="5.87" fill="#eda079"/><rect x="409.1" y="1593.79" width="71.9" height="5.87" fill="#f1b488"/><rect x="409.1" y="1599.31" width="71.9" height="5.87" fill="#f0b387"/><rect x="409.1" y="1604.84" width="71.9" height="5.87" fill="#f4c796"/><rect x="409.1" y="1610.36" width="71.9" height="5.87" fill="#f9dea7"/><rect x="409.1" y="1615.88" width="71.9" height="5.87" fill="#ec9b76"/><rect x="409.1" y="1621.41" width="71.9" height="5.87" fill="#eda17a"/><rect x="409.1" y="1626.93" width="71.9" height="5.87" fill="#e1644d"/><rect x="409.1" y="1632.45" width="71.9" height="5.87" fill="#f0b387"/><rect x="409.1" y="1637.97" width="71.9" height="5.87" fill="#f8daa4"/><rect x="409.1" y="1643.50" width="71.9" height="5.87" fill="#f8daa4"/><rect x="409.1" y="1649.02" width="71.9" height="5.87" fill="#c7d5bc"/><rect x="409.1" y="1654.54" width="71.9" height="5.87" fill="#f0b387"/><rect x="409.1" y="1660.07" width="71.9" height="5.87" fill="#f0b085"/><rect x="409.1" y="1665.59" width="71.9" height="5.87" fill="#f0b186"/><rect x="409.1" y="1671.11" width="71.9" height="5.87" fill="#f0b186"/><rect x="409.1" y="1676.64" width="71.9" height="5.87" fill="#f9e0a8"/><rect x="409.1" y="1682.16" width="71.9" height="5.87" fill="#f7d8a2"/><rect x="409.1" y="1687.68" width="71.9" height="5.87" fill="#fcf0b4"/><rect x="409.1" y="1693.20" width="71.9" height="5.87" fill="#f4c494"/><rect x="409.1" y="1698.73" width="71.9" height="5.87" fill="#f4c494"/><rect x="409.1" y="1704.25" width="71.9" height="5.87" fill="#f6ce9b"/><rect x="409.1" y="1709.77" width="71.9" height="5.87" fill="#f5ca98"/><rect x="409.1" y="1715.30" width="71.9" height="5.87" fill="#e67f61"/><rect x="409.1" y="1720.82" width="71.9" height="5.87" fill="#f4c494"/><rect x="409.1" y="1726.34" width="71.9" height="5.87" fill="#f5ca98"/><rect x="409.1" y="1731.87" width="71.9" height="5.87" fill="#f0b387"/><rect x="409.1" y="1737.39" width="71.9" height="3.16" fill="#f0b388"/></g>
<rect x="410.12" y="456.05" width="69.85" height="1282.15" rx="34.93" ry="34.93" fill="none" stroke="#808080" stroke-width="2.85"/>
<polyline fill="none" stroke="#879ecd" stroke-width="3.0" stroke-linejoin="miter" points="541.5,458.8 550.1,464.3 534.1,469.9 545.4,475.4 545.1,480.9 542.6,486.4 550.7,492.0 538.7,497.5 541.6,503.0 542.6,508.5 542.5,514.0 549.5,519.6 550.9,525.1 538.8,530.6 555.8,536.1 551.0,541.7 545.7,547.2 545.8,552.7 538.8,558.2 546.5,563.8 549.6,569.3 556.2,574.8 545.9,580.3 541.9,585.8 545.3,591.4 549.8,596.9 550.6,602.4 549.3,607.9 556.4,613.5 550.1,619.0 549.3,624.5 549.9,630.0 538.1,635.5 545.9,641.1 545.0,646.6 538.8,652.1 538.5,657.6 543.1,663.2 549.4,668.7 549.7,674.2 545.0,679.7 556.8,685.3 549.8,690.8 545.2,696.3 545.7,701.8 543.0,707.3 550.8,712.9 549.7,718.4 545.2,723.9 543.0,729.4 546.0,735.0 542.6,740.5 534.1,746.0 555.5,751.5 550.5,757.1 542.1,762.6 545.1,768.1 546.7,773.6 538.2,779.1 550.8,784.7 531.6,790.2 542.9,795.7 545.0,801.2 546.5,806.8 542.2,812.3 537.6,817.8 532.3,823.3 543.0,828.9 534.4,834.4 541.5,839.9 534.8,845.4 545.4,850.9 537.2,856.5 528.4,862.0 534.0,867.5 537.4,873.0 531.9,878.6 531.9,884.1 538.4,889.6 537.5,895.1 534.8,900.7 534.3,906.2 534.5,911.7 534.0,917.2 534.4,922.7 544.9,928.3 532.6,933.8 521.7,939.3 528.5,944.8 537.9,950.4 535.5,955.9 517.7,961.4 512.5,966.9 525.7,972.5 542.2,978.0 542.9,983.5 532.1,989.0 529.1,994.5 529.4,1000.1 533.0,1005.6 532.0,1011.1 546.5,1016.6 532.6,1022.2 538.2,1027.7 534.6,1033.2 532.0,1038.7 531.5,1044.3 545.2,1049.8 541.4,1055.3 535.2,1060.8 531.8,1066.3 541.6,1071.9 545.1,1077.4 532.8,1082.9 535.4,1088.4 535.1,1094.0 525.4,1099.5 534.4,1105.0 531.9,1110.5 529.0,1116.1 528.4,1121.6 534.7,1127.1 528.6,1132.6 529.8,1138.1 535.6,1143.7 538.0,1149.2 537.4,1154.7 533.0,1160.2 534.5,1165.8 525.6,1171.3 528.1,1176.8 537.7,1182.3 545.8,1187.8 529.1,1193.4 525.3,1198.9 534.8,1204.4 534.0,1209.9 531.9,1215.5 537.1,1221.0 534.6,1226.5 541.4,1232.0 541.3,1237.6 545.5,1243.1 541.7,1248.6 534.9,1254.1 538.0,1259.6 550.7,1265.2 538.2,1270.7 538.3,1276.2 538.6,1281.7 537.7,1287.3 545.5,1292.8 533.1,1298.3 537.3,1303.8 538.3,1309.4 560.2,1314.9 534.0,1320.4 535.3,1325.9 532.9,1331.4 542.5,1337.0 542.7,1342.5 532.8,1348.0 541.6,1353.5 556.4,1359.1 545.9,1364.6 542.9,1370.1 538.5,1375.6 529.6,1381.2 550.3,1386.7 538.6,1392.2 550.5,1397.7 553.1,1403.2 552.2,1408.8 551.8,1414.3 549.5,1419.8 549.9,1425.3 545.1,1430.9 546.5,1436.4 556.4,1441.9 550.4,1447.4 560.2,1453.0 550.5,1458.5 550.2,1464.0 549.3,1469.5 556.9,1475.0 560.4,1480.6 550.2,1486.1 550.3,1491.6 546.2,1497.1 549.4,1502.7 560.4,1508.2 545.4,1513.7 549.4,1519.2 552.3,1524.8 560.4,1530.3 552.2,1535.8 550.6,1541.3 543.1,1546.8 550.2,1552.4 545.6,1557.9 542.2,1563.4 546.2,1568.9 553.2,1574.5 550.4,1580.0 542.5,1585.5 545.1,1591.0 541.6,1596.6 541.8,1602.1 538.4,1607.6 534.5,1613.1 546.0,1618.6 544.9,1624.2 555.5,1629.7 541.8,1635.2 535.1,1640.7 535.1,1646.3 518.7,1651.8 541.9,1657.3 542.3,1662.8 542.2,1668.4 542.2,1673.9 534.2,1679.4 535.4,1684.9 531.8,1690.4 538.8,1696.0 538.7,1701.5 537.0,1707.0 537.8,1712.5 550.8,1718.1 538.8,1723.6 537.8,1729.1 541.8,1734.6 499.3,1737.0"/>
<text x="456.2" y="1783.6" font-size="26.9" text-anchor="middle" textLength="167.8" lengthAdjust="spacingAndGlyphs">NC_024460.2</text>
<g clip-path="url(#c2)"><rect x="592.72" y="502.05" width="69.85" height="1236.15" fill="#f0b085"/><rect x="591.7" y="502.05" width="71.9" height="5.87" fill="#f4c494"/><rect x="591.7" y="507.58" width="71.9" height="5.87" fill="#f5cc9a"/><rect x="591.7" y="513.10" width="71.9" height="5.87" fill="#e78263"/><rect x="591.7" y="518.62" width="71.9" height="5.87" fill="#e88767"/><rect x="591.7" y="524.15" width="71.9" height="5.87" fill="#e78364"/><rect x="591.7" y="529.67" width="71.9" height="5.87" fill="#f4c494"/><rect x="591.7" y="535.19" width="71.9" height="5.87" fill="#e88767"/><rect x="591.7" y="540.71" width="71.9" height="5.87" fill="#e67f61"/><rect x="591.7" y="546.24" width="71.9" height="5.87" fill="#f0b085"/><rect x="591.7" y="551.76" width="71.9" height="5.87" fill="#eb9773"/><rect x="591.7" y="557.28" width="71.9" height="5.87" fill="#e78162"/><rect x="591.7" y="562.81" width="71.9" height="5.87" fill="#ec9f78"/><rect x="591.7" y="568.33" width="71.9" height="5.87" fill="#f4c594"/><rect x="591.7" y="573.85" width="71.9" height="5.87" fill="#e47459"/><rect x="591.7" y="579.38" width="71.9" height="5.87" fill="#e1654e"/><rect x="591.7" y="584.90" width="71.9" height="5.87" fill="#eda17a"/><rect x="591.7" y="590.42" width="71.9" height="5.87" fill="#f0b085"/><rect x="591.7" y="595.94" width="71.9" height="5.87" fill="#ec9c76"/><rect x="591.7" y="601.47" width="71.9" height="5.87" fill="#ec9e78"/><rect x="591.7" y="606.99" width="71.9" height="5.87" fill="#eda079"/><rect x="591.7" y="612.51" width="71.9" height="5.87" fill="#e1614b"/><rect x="591.7" y="618.04" width="71.9" height="5.87" fill="#f0b287"/><rect x="591.7" y="623.56" width="71.9" height="5.87" fill="#efad83"/><rect x="591.7" y="629.08" width="71.9" height="5.87" fill="#eda17a"/><rect x="591.7" y="634.61" width="71.9" height="5.87" fill="#eb9974"/><rect x="591.7" y="640.13" width="71.9" height="5.87" fill="#eb9873"/><rect x="591.7" y="645.65" width="71.9" height="5.87" fill="#eda079"/><rect x="591.7" y="651.17" width="71.9" height="5.87" fill="#e67e60"/><rect x="591.7" y="656.70" width="71.9" height="5.87" fill="#efae84"/><rect x="591.7" y="662.22" width="71.9" height="5.87" fill="#e37056"/><rect x="591.7" y="667.74" width="71.9" height="5.87" fill="#ec9e78"/><rect x="591.7" y="673.27" width="71.9" height="5.87" fill="#ec9d77"/><rect x="591.7" y="678.79" width="71.9" height="5.87" fill="#e0614b"/><rect x="591.7" y="684.31" width="71.9" height="5.87" fill="#f4c494"/><rect x="591.7" y="689.84" width="71.9" height="5.87" fill="#f4c897"/><rect x="591.7" y="695.36" width="71.9" height="5.87" fill="#ec9d77"/><rect x="591.7" y="700.88" width="71.9" height="5.87" fill="#f0b186"/><rect x="591.7" y="706.40" width="71.9" height="5.87" fill="#f0b387"/><rect x="591.7" y="711.93" width="71.9" height="5.87" fill="#f1b589"/><rect x="591.7" y="717.45" width="71.9" height="5.87" fill="#f1b588"/><rect x="591.7" y="722.97" width="71.9" height="5.87" fill="#f4c695"/><rect x="591.7" y="728.50" width="71.9" height="5.87" fill="#fbfcbf"/><rect x="591.7" y="734.02" width="71.9" height="5.87" fill="#fefcbd"/><rect x="591.7" y="739.54" width="71.9" height="5.87" fill="#fbfcbf"/><rect x="591.7" y="745.07" width="71.9" height="5.87" fill="#f9dea7"/><rect x="591.7" y="750.59" width="71.9" height="5.87" fill="#f0b085"/><rect x="591.7" y="756.11" width="71.9" height="5.87" fill="#f9dfa8"/><rect x="591.7" y="761.63" width="71.9" height="5.87" fill="#f0b286"/><rect x="591.7" y="767.16" width="71.9" height="5.87" fill="#efab82"/><rect x="591.7" y="772.68" width="71.9" height="5.87" fill="#f4c594"/><rect x="591.7" y="778.20" width="71.9" height="5.87" fill="#eff3be"/><rect x="591.7" y="783.73" width="71.9" height="5.87" fill="#f0af84"/><rect x="591.7" y="789.25" width="71.9" height="5.87" fill="#f0f4be"/><rect x="591.7" y="794.77" width="71.9" height="5.87" fill="#efac82"/><rect x="591.7" y="800.30" width="71.9" height="5.87" fill="#f0b085"/><rect x="591.7" y="805.82" width="71.9" height="5.87" fill="#efae84"/><rect x="591.7" y="811.34" width="71.9" height="5.87" fill="#f1b589"/><rect x="591.7" y="816.86" width="71.9" height="5.87" fill="#f4c796"/><rect x="591.7" y="822.39" width="71.9" height="5.87" fill="#fcedb2"/><rect x="591.7" y="827.91" width="71.9" height="5.87" fill="#fbeaaf"/><rect x="591.7" y="833.43" width="71.9" height="5.87" fill="#f4c896"/><rect x="591.7" y="838.96" width="71.9" height="5.87" fill="#e78565"/><rect x="591.7" y="844.48" width="71.9" height="5.87" fill="#fcf1b5"/><rect x="591.7" y="850.00" width="71.9" height="5.87" fill="#fffcbd"/><rect x="591.7" y="855.53" width="71.9" height="5.87" fill="#f1b488"/><rect x="591.7" y="861.05" width="71.9" height="5.87" fill="#fbedb2"/><rect x="591.7" y="866.57" width="71.9" height="5.87" fill="#fceeb3"/><rect x="591.7" y="872.09" width="71.9" height="5.87" fill="#d4dfbc"/><rect x="591.7" y="877.62" width="71.9" height="5.87" fill="#f8d9a3"/><rect x="591.7" y="883.14" width="71.9" height="5.87" fill="#fae7ae"/><rect x="591.7" y="888.66" width="71.9" height="5.87" fill="#fcefb3"/><rect x="591.7" y="894.19" width="71.9" height="5.87" fill="#eef2be"/><rect x="591.7" y="899.71" width="71.9" height="5.87" fill="#fcefb3"/><rect x="591.7" y="905.23" width="71.9" height="5.87" fill="#edf2be"/><rect x="591.7" y="910.76" width="71.9" height="5.87" fill="#fceeb2"/><rect x="591.7" y="916.28" width="71.9" height="5.87" fill="#fcf0b4"/><rect x="591.7" y="921.80" width="71.9" height="5.87" fill="#f5cd9a"/><rect x="591.7" y="927.32" width="71.9" height="5.87" fill="#f9dfa7"/><rect x="591.7" y="932.85" width="71.9" height="5.87" fill="#fffdbd"/><rect x="591.7" y="938.37" width="71.9" height="5.87" fill="#fbecb1"/><rect x="591.7" y="943.89" width="71.9" height="5.87" fill="#f5cc9a"/><rect x="591.7" y="949.42" width="71.9" height="5.87" fill="#b9cbbb"/><rect x="591.7" y="954.94" width="71.9" height="5.87" fill="#9cb5b9"/><rect x="591.7" y="960.46" width="71.9" height="5.87" fill="#fdfdbf"/><rect x="591.7" y="965.99" width="71.9" height="5.87" fill="#fafbbf"/><rect x="591.7" y="971.51" width="71.9" height="5.87" fill="#fafbbf"/><rect x="591.7" y="977.03" width="71.9" height="5.87" fill="#e8eebe"/><rect x="591.7" y="982.55" width="71.9" height="5.87" fill="#f5cb99"/><rect x="591.7" y="988.08" width="71.9" height="5.87" fill="#f5ce9b"/><rect x="591.7" y="993.60" width="71.9" height="5.87" fill="#fcefb3"/><rect x="591.7" y="999.12" width="71.9" height="5.87" fill="#eaefbe"/><rect x="591.7" y="1004.65" width="71.9" height="5.87" fill="#fefebf"/><rect x="591.7" y="1010.17" width="71.9" height="5.87" fill="#fffdbd"/><rect x="591.7" y="1015.69" width="71.9" height="5.87" fill="#f4c696"/><rect x="591.7" y="1021.22" width="71.9" height="5.87" fill="#fcedb2"/><rect x="591.7" y="1026.74" width="71.9" height="5.87" fill="#fcedb2"/><rect x="591.7" y="1032.26" width="71.9" height="5.87" fill="#f8dca5"/><rect x="591.7" y="1037.78" width="71.9" height="5.87" fill="#fceeb2"/><rect x="591.7" y="1043.31" width="71.9" height="5.87" fill="#f9dea6"/><rect x="591.7" y="1048.83" width="71.9" height="5.87" fill="#d2ddbc"/><rect x="591.7" y="1054.35" width="71.9" height="5.87" fill="#f5cc99"/><rect x="591.7" y="1059.88" width="71.9" height="5.87" fill="#fefcbd"/><rect x="591.7" y="1065.40" width="71.9" height="5.87" fill="#f9e0a8"/><rect x="591.7" y="1070.92" width="71.9" height="5.87" fill="#f5c997"/><rect x="591.7" y="1076.45" width="71.9" height="5.87" fill="#d7e2bd"/><rect x="591.7" y="1081.97" width="71.9" height="5.87" fill="#f4c595"/><rect x="591.7" y="1087.49" width="71.9" height="5.87" fill="#f5cc9a"/><rect x="591.7" y="1093.01" width="71.9" height="5.87" fill="#fcefb3"/><rect x="591.7" y="1098.54" width="71.9" height="5.87" fill="#f5cc99"/><rect x="591.7" y="1104.06" width="71.9" height="5.87" fill="#f8dda6"/><rect x="591.7" y="1109.58" width="71.9" height="5.87" fill="#f0b186"/><rect x="591.7" y="1115.11" width="71.9" height="5.87" fill="#f4c494"/><rect x="591.7" y="1120.63" width="71.9" height="5.87" fill="#fbe9af"/><rect x="591.7" y="1126.15" width="71.9" height="5.87" fill="#fbe8ae"/><rect x="591.7" y="1131.68" width="71.9" height="5.87" fill="#f9e1a9"/><rect x="591.7" y="1137.20" width="71.9" height="5.87" fill="#eda17a"/><rect x="591.7" y="1142.72" width="71.9" height="5.87" fill="#efae84"/><rect x="591.7" y="1148.24" width="71.9" height="5.87" fill="#f4c594"/><rect x="591.7" y="1153.77" width="71.9" height="5.87" fill="#f8dca5"/><rect x="591.7" y="1159.29" width="71.9" height="5.87" fill="#f0af85"/><rect x="591.7" y="1164.81" width="71.9" height="5.87" fill="#e88868"/><rect x="591.7" y="1170.34" width="71.9" height="5.87" fill="#f0b286"/><rect x="591.7" y="1175.86" width="71.9" height="5.87" fill="#e67e60"/><rect x="591.7" y="1181.38" width="71.9" height="5.87" fill="#f8d8a3"/><rect x="591.7" y="1186.91" width="71.9" height="5.87" fill="#efad82"/><rect x="591.7" y="1192.43" width="71.9" height="5.87" fill="#e67e60"/><rect x="591.7" y="1197.95" width="71.9" height="5.87" fill="#fcefb3"/><rect x="591.7" y="1203.47" width="71.9" height="5.87" fill="#f5cd9b"/><rect x="591.7" y="1209.00" width="71.9" height="5.87" fill="#ed9f79"/><rect x="591.7" y="1214.52" width="71.9" height="5.87" fill="#f5c997"/><rect x="591.7" y="1220.04" width="71.9" height="5.87" fill="#f4c796"/><rect x="591.7" y="1225.57" width="71.9" height="5.87" fill="#eb9773"/><rect x="591.7" y="1231.09" width="71.9" height="5.87" fill="#f4c796"/><rect x="591.7" y="1236.61" width="71.9" height="5.87" fill="#efaf84"/><rect x="591.7" y="1242.14" width="71.9" height="5.87" fill="#f4c695"/><rect x="591.7" y="1247.66" width="71.9" height="5.87" fill="#f5ca98"/><rect x="591.7" y="1253.18" width="71.9" height="5.87" fill="#f4c997"/><rect x="591.7" y="1258.70" width="71.9" height="5.87" fill="#f6ce9b"/><rect x="591.7" y="1264.23" width="71.9" height="5.87" fill="#eb9974"/><rect x="591.7" y="1269.75" width="71.9" height="5.87" fill="#e88666"/><rect x="591.7" y="1275.27" width="71.9" height="5.87" fill="#f4c594"/><rect x="591.7" y="1280.80" width="71.9" height="5.87" fill="#efaf84"/><rect x="591.7" y="1286.32" width="71.9" height="5.87" fill="#e78565"/><rect x="591.7" y="1291.84" width="71.9" height="5.87" fill="#e88767"/><rect x="591.7" y="1297.37" width="71.9" height="5.87" fill="#e88566"/><rect x="591.7" y="1302.89" width="71.9" height="5.87" fill="#f0af84"/><rect x="591.7" y="1308.41" width="71.9" height="5.87" fill="#eb9a74"/><rect x="591.7" y="1313.93" width="71.9" height="5.87" fill="#eda079"/><rect x="591.7" y="1319.46" width="71.9" height="5.87" fill="#e88767"/><rect x="591.7" y="1324.98" width="71.9" height="5.87" fill="#f8dca5"/><rect x="591.7" y="1330.50" width="71.9" height="5.87" fill="#e78263"/><rect x="591.7" y="1336.03" width="71.9" height="5.87" fill="#e78465"/><rect x="591.7" y="1341.55" width="71.9" height="5.87" fill="#dd4e3d"/><rect x="591.7" y="1347.07" width="71.9" height="5.87" fill="#dc4a3a"/><rect x="591.7" y="1352.60" width="71.9" height="5.87" fill="#e88868"/><rect x="591.7" y="1358.12" width="71.9" height="5.87" fill="#e5765b"/><rect x="591.7" y="1363.64" width="71.9" height="5.87" fill="#fbedb2"/><rect x="591.7" y="1369.16" width="71.9" height="5.87" fill="#cad8bc"/><rect x="591.7" y="1374.69" width="71.9" height="5.87" fill="#e47358"/><rect x="591.7" y="1380.21" width="71.9" height="5.87" fill="#e37056"/><rect x="591.7" y="1385.73" width="71.9" height="5.87" fill="#e78364"/><rect x="591.7" y="1391.26" width="71.9" height="5.87" fill="#e88666"/><rect x="591.7" y="1396.78" width="71.9" height="5.87" fill="#ec9e78"/><rect x="591.7" y="1402.30" width="71.9" height="5.87" fill="#eb9772"/><rect x="591.7" y="1407.83" width="71.9" height="5.87" fill="#eb9974"/><rect x="591.7" y="1413.35" width="71.9" height="5.87" fill="#e78565"/><rect x="591.7" y="1418.87" width="71.9" height="5.87" fill="#e88868"/><rect x="591.7" y="1424.39" width="71.9" height="5.87" fill="#e47459"/><rect x="591.7" y="1429.92" width="71.9" height="5.87" fill="#eb9a75"/><rect x="591.7" y="1435.44" width="71.9" height="5.87" fill="#f0b186"/><rect x="591.7" y="1440.96" width="71.9" height="5.87" fill="#e88566"/><rect x="591.7" y="1446.49" width="71.9" height="5.87" fill="#efaf84"/><rect x="591.7" y="1452.01" width="71.9" height="5.87" fill="#eb9773"/><rect x="591.7" y="1457.53" width="71.9" height="5.87" fill="#e1634c"/><rect x="591.7" y="1463.06" width="71.9" height="5.87" fill="#eda17a"/><rect x="591.7" y="1468.58" width="71.9" height="5.87" fill="#e78565"/><rect x="591.7" y="1474.10" width="71.9" height="5.87" fill="#f0b186"/><rect x="591.7" y="1479.62" width="71.9" height="5.87" fill="#eb9a75"/><rect x="591.7" y="1485.15" width="71.9" height="5.87" fill="#ec9f78"/><rect x="591.7" y="1490.67" width="71.9" height="5.87" fill="#eb9874"/><rect x="591.7" y="1496.19" width="71.9" height="5.87" fill="#eb9974"/><rect x="591.7" y="1501.72" width="71.9" height="5.87" fill="#e0604a"/><rect x="591.7" y="1507.24" width="71.9" height="5.87" fill="#ec9f78"/><rect x="591.7" y="1512.76" width="71.9" height="5.87" fill="#eb9772"/><rect x="591.7" y="1518.29" width="71.9" height="5.87" fill="#ec9e78"/><rect x="591.7" y="1523.81" width="71.9" height="5.87" fill="#f8d8a3"/><rect x="591.7" y="1529.33" width="71.9" height="5.87" fill="#e88666"/><rect x="591.7" y="1534.85" width="71.9" height="5.87" fill="#f5cc9a"/><rect x="591.7" y="1540.38" width="71.9" height="5.87" fill="#dc4839"/><rect x="591.7" y="1545.90" width="71.9" height="5.87" fill="#ec9e78"/><rect x="591.7" y="1551.42" width="71.9" height="5.87" fill="#eb9772"/><rect x="591.7" y="1556.95" width="71.9" height="5.87" fill="#ec9c76"/><rect x="591.7" y="1562.47" width="71.9" height="5.87" fill="#e88666"/><rect x="591.7" y="1567.99" width="71.9" height="5.87" fill="#e88666"/><rect x="591.7" y="1573.52" width="71.9" height="5.87" fill="#f0b186"/><rect x="591.7" y="1579.04" width="71.9" height="5.87" fill="#eb9a75"/><rect x="591.7" y="1584.56" width="71.9" height="5.87" fill="#efac82"/><rect x="591.7" y="1590.08" width="71.9" height="5.87" fill="#f1b488"/><rect x="591.7" y="1595.61" width="71.9" height="5.87" fill="#ec9d77"/><rect x="591.7" y="1601.13" width="71.9" height="5.87" fill="#ec9f78"/><rect x="591.7" y="1606.65" width="71.9" height="5.87" fill="#efab81"/><rect x="591.7" y="1612.18" width="71.9" height="5.87" fill="#f1b488"/><rect x="591.7" y="1617.70" width="71.9" height="5.87" fill="#e5795d"/><rect x="591.7" y="1623.22" width="71.9" height="5.87" fill="#dd503e"/><rect x="591.7" y="1628.75" width="71.9" height="5.87" fill="#ec9d77"/><rect x="591.7" y="1634.27" width="71.9" height="5.87" fill="#df5b47"/><rect x="591.7" y="1639.79" width="71.9" height="5.87" fill="#e67f61"/><rect x="591.7" y="1645.31" width="71.9" height="5.87" fill="#efae83"/><rect x="591.7" y="1650.84" width="71.9" height="5.87" fill="#efab81"/><rect x="591.7" y="1656.36" width="71.9" height="5.87" fill="#efac82"/><rect x="591.7" y="1661.88" width="71.9" height="5.87" fill="#f0b287"/><rect x="591.7" y="1667.41" width="71.9" height="5.87" fill="#e88666"/><rect x="591.7" y="1672.93" width="71.9" height="5.87" fill="#f7d7a2"/><rect x="591.7" y="1678.45" width="71.9" height="5.87" fill="#efae83"/><rect x="591.7" y="1683.98" width="71.9" height="5.87" fill="#e88867"/><rect x="591.7" y="1689.50" width="71.9" height="5.87" fill="#eb9a75"/><rect x="591.7" y="1695.02" width="71.9" height="5.87" fill="#ec9d77"/><rect x="591.7" y="1700.54" width="71.9" height="5.87" fill="#ec9d77"/><rect x="591.7" y="1706.07" width="71.9" height="5.87" fill="#f0b287"/><rect x="591.7" y="1711.59" width="71.9" height="5.87" fill="#f5cd9a"/><rect x="591.7" y="1717.11" width="71.9" height="5.87" fill="#f1b689"/><rect x="591.7" y="1722.64" width="71.9" height="5.87" fill="#ec9e78"/><rect x="591.7" y="1728.16" width="71.9" height="5.87" fill="#f5cb99"/><rect x="591.7" y="1733.68" width="71.9" height="5.87" fill="#f1f4be"/></g>
<rect x="592.72" y="502.05" width="69.85" height="1236.15" rx="34.93" ry="34.93" fill="none" stroke="#808080" stroke-width="2.85"/>
<polyline fill="none" stroke="#879ecd" stroke-width="3.0" stroke-linejoin="miter" points="721.3,504.8 720.0,510.3 732.9,515.9 732.1,521.4 732.8,526.9 721.4,532.4 732.1,538.0 733.4,543.5 724.9,549.0 729.2,554.5 733.2,560.0 727.9,565.6 721.3,571.1 735.3,576.6 738.0,582.1 727.5,587.7 724.8,593.2 728.4,598.7 728.1,604.2 727.8,609.8 738.6,615.3 724.5,620.8 725.5,626.3 727.5,631.8 728.9,637.4 729.1,642.9 727.7,648.4 733.6,653.9 725.2,659.5 736.1,665.0 728.1,670.5 728.2,676.0 738.7,681.6 721.4,687.1 720.7,692.6 728.2,698.1 724.7,703.6 724.4,709.2 724.0,714.7 724.1,720.2 721.1,725.7 711.2,731.3 712.4,736.8 711.2,742.3 717.0,747.8 724.9,753.3 716.9,758.9 724.6,764.4 725.7,769.9 721.2,775.4 709.0,781.0 725.1,786.5 709.2,792.0 725.7,797.5 724.9,803.1 725.3,808.6 724.0,814.1 720.9,819.6 714.8,825.1 715.3,830.7 720.8,836.2 732.4,841.7 714.1,847.2 712.4,852.8 724.1,858.3 714.8,863.8 714.6,869.3 703.8,874.9 717.8,880.4 715.6,885.9 714.5,891.4 708.7,896.9 714.5,902.5 708.6,908.0 714.7,913.5 714.3,919.0 719.9,924.6 716.9,930.1 712.3,935.6 714.8,941.1 720.0,946.7 698.5,952.2 695.3,957.7 711.6,963.2 711.0,968.7 711.1,974.3 707.7,979.8 720.2,985.3 719.7,990.8 714.4,996.4 708.0,1001.9 711.8,1007.4 712.3,1012.9 721.0,1018.5 714.7,1024.0 714.7,1029.5 717.4,1035.0 714.6,1040.5 717.1,1046.1 703.4,1051.6 720.1,1057.1 712.4,1062.6 716.8,1068.2 720.5,1073.7 704.4,1079.2 721.2,1084.7 720.0,1090.3 714.5,1095.8 720.0,1101.3 717.2,1106.8 724.7,1112.3 721.4,1117.9 715.4,1123.4 715.5,1128.9 716.6,1134.4 727.6,1140.0 725.2,1145.5 721.3,1151.0 717.3,1156.5 725.0,1162.1 731.8,1167.6 724.6,1173.1 733.6,1178.6 717.9,1184.1 725.5,1189.7 733.7,1195.2 714.4,1200.7 719.8,1206.2 727.8,1211.8 720.6,1217.3 720.9,1222.8 729.3,1228.3 720.9,1233.9 725.1,1239.4 721.0,1244.9 720.4,1250.4 720.6,1255.9 719.6,1261.5 729.0,1267.0 732.3,1272.5 721.3,1278.0 725.1,1283.6 732.4,1289.1 732.1,1294.6 732.3,1300.1 725.1,1305.6 728.8,1311.2 727.7,1316.7 732.0,1322.2 717.4,1327.7 732.9,1333.3 732.6,1338.8 742.0,1344.3 742.7,1349.8 731.9,1355.4 734.9,1360.9 714.8,1366.4 701.8,1371.9 735.6,1377.4 736.0,1383.0 732.7,1388.5 732.3,1394.0 728.0,1399.5 729.3,1405.1 728.8,1410.6 732.4,1416.1 731.9,1421.6 735.3,1427.2 728.8,1432.7 724.7,1438.2 732.3,1443.7 725.2,1449.2 729.3,1454.8 738.4,1460.3 727.6,1465.8 732.5,1471.3 724.7,1476.9 728.8,1482.4 727.9,1487.9 729.0,1493.4 728.9,1499.0 738.9,1504.5 727.9,1510.0 729.3,1515.5 728.1,1521.0 717.9,1526.6 732.3,1532.1 720.0,1537.6 743.0,1543.1 728.1,1548.7 729.3,1554.2 728.4,1559.7 732.2,1565.2 732.3,1570.8 724.7,1576.3 728.8,1581.8 725.7,1587.3 724.2,1592.8 728.3,1598.4 727.9,1603.9 725.7,1609.4 724.2,1614.9 734.5,1620.5 741.7,1626.0 728.3,1631.5 739.7,1637.0 733.5,1642.6 725.3,1648.1 725.8,1653.6 725.7,1659.1 724.5,1664.6 732.2,1670.2 718.1,1675.7 725.3,1681.2 731.9,1686.7 728.8,1692.3 728.2,1697.8 728.2,1703.3 724.5,1708.8 719.9,1714.4 723.9,1719.9 728.0,1725.4 720.2,1730.9 707.0,1737.0"/>
<text x="638.9" y="1783.6" font-size="26.9" text-anchor="middle" textLength="167.8" lengthAdjust="spacingAndGlyphs">NC_024461.2</text>
<g clip-path="url(#c3)"><rect x="775.32" y="442.68" width="69.85" height="1295.52" fill="#f0b085"/><rect x="774.3" y="442.68" width="71.9" height="5.87" fill="#f1b488"/><rect x="774.3" y="448.20" width="71.9" height="5.87" fill="#fae7ae"/><rect x="774.3" y="453.72" width="71.9" height="5.87" fill="#d3dfbc"/><rect x="774.3" y="459.25" width="71.9" height="5.87" fill="#fceeb2"/><rect x="774.3" y="464.77" width="71.9" height="5.87" fill="#f4c695"/><rect x="774.3" y="470.29" width="71.9" height="5.87" fill="#efad83"/><rect x="774.3" y="475.81" width="71.9" height="5.87" fill="#f8dda6"/><rect x="774.3" y="481.34" width="71.9" height="5.87" fill="#fcf1b5"/><rect x="774.3" y="486.86" width="71.9" height="5.87" fill="#fdfdbf"/><rect x="774.3" y="492.38" width="71.9" height="5.87" fill="#d5e0bd"/><rect x="774.3" y="497.91" width="71.9" height="5.87" fill="#f4c594"/><rect x="774.3" y="503.43" width="71.9" height="5.87" fill="#f0b488"/><rect x="774.3" y="508.95" width="71.9" height="5.87" fill="#e0614b"/><rect x="774.3" y="514.48" width="71.9" height="5.87" fill="#efac82"/><rect x="774.3" y="520.00" width="71.9" height="5.87" fill="#f1b589"/><rect x="774.3" y="525.52" width="71.9" height="5.87" fill="#f0b186"/><rect x="774.3" y="531.04" width="71.9" height="5.87" fill="#efad83"/><rect x="774.3" y="536.57" width="71.9" height="5.87" fill="#f4c695"/><rect x="774.3" y="542.09" width="71.9" height="5.87" fill="#f1b589"/><rect x="774.3" y="547.61" width="71.9" height="5.87" fill="#f1b589"/><rect x="774.3" y="553.14" width="71.9" height="5.87" fill="#f1b589"/><rect x="774.3" y="558.66" width="71.9" height="5.87" fill="#eb9773"/><rect x="774.3" y="564.18" width="71.9" height="5.87" fill="#f9dea7"/><rect x="774.3" y="569.71" width="71.9" height="5.87" fill="#efae83"/><rect x="774.3" y="575.23" width="71.9" height="5.87" fill="#f7d8a2"/><rect x="774.3" y="580.75" width="71.9" height="5.87" fill="#e78565"/><rect x="774.3" y="586.27" width="71.9" height="5.87" fill="#ec9e78"/><rect x="774.3" y="591.80" width="71.9" height="5.87" fill="#fae7ae"/><rect x="774.3" y="597.32" width="71.9" height="5.87" fill="#f4c897"/><rect x="774.3" y="602.84" width="71.9" height="5.87" fill="#eaefbe"/><rect x="774.3" y="608.37" width="71.9" height="5.87" fill="#f4c796"/><rect x="774.3" y="613.89" width="71.9" height="5.87" fill="#f0b287"/><rect x="774.3" y="619.41" width="71.9" height="5.87" fill="#f5cc99"/><rect x="774.3" y="624.94" width="71.9" height="5.87" fill="#f1b689"/><rect x="774.3" y="630.46" width="71.9" height="5.87" fill="#f4c695"/><rect x="774.3" y="635.98" width="71.9" height="5.87" fill="#efac82"/><rect x="774.3" y="641.50" width="71.9" height="5.87" fill="#f4c896"/><rect x="774.3" y="647.03" width="71.9" height="5.87" fill="#eb9773"/><rect x="774.3" y="652.55" width="71.9" height="5.87" fill="#f6ce9b"/><rect x="774.3" y="658.07" width="71.9" height="5.87" fill="#f5cc9a"/><rect x="774.3" y="663.60" width="71.9" height="5.87" fill="#f8dca5"/><rect x="774.3" y="669.12" width="71.9" height="5.87" fill="#eb9772"/><rect x="774.3" y="674.64" width="71.9" height="5.87" fill="#efab82"/><rect x="774.3" y="680.17" width="71.9" height="5.87" fill="#ec9d77"/><rect x="774.3" y="685.69" width="71.9" height="5.87" fill="#fcefb3"/><rect x="774.3" y="691.21" width="71.9" height="5.87" fill="#ec9c77"/><rect x="774.3" y="696.73" width="71.9" height="5.87" fill="#ecf1be"/><rect x="774.3" y="702.26" width="71.9" height="5.87" fill="#efac82"/><rect x="774.3" y="707.78" width="71.9" height="5.87" fill="#fafbbf"/><rect x="774.3" y="713.30" width="71.9" height="5.87" fill="#f4c695"/><rect x="774.3" y="718.83" width="71.9" height="5.87" fill="#f4c796"/><rect x="774.3" y="724.35" width="71.9" height="5.87" fill="#efad83"/><rect x="774.3" y="729.87" width="71.9" height="5.87" fill="#fbe9af"/><rect x="774.3" y="735.40" width="71.9" height="5.87" fill="#f0af84"/><rect x="774.3" y="740.92" width="71.9" height="5.87" fill="#fceeb3"/><rect x="774.3" y="746.44" width="71.9" height="5.87" fill="#fbfcbf"/><rect x="774.3" y="751.96" width="71.9" height="5.87" fill="#f8dda6"/><rect x="774.3" y="757.49" width="71.9" height="5.87" fill="#eff3be"/><rect x="774.3" y="763.01" width="71.9" height="5.87" fill="#f5ce9b"/><rect x="774.3" y="768.53" width="71.9" height="5.87" fill="#e88666"/><rect x="774.3" y="774.06" width="71.9" height="5.87" fill="#fbeaaf"/><rect x="774.3" y="779.58" width="71.9" height="5.87" fill="#f5cc99"/><rect x="774.3" y="785.10" width="71.9" height="5.87" fill="#f1b589"/><rect x="774.3" y="790.63" width="71.9" height="5.87" fill="#e88867"/><rect x="774.3" y="796.15" width="71.9" height="5.87" fill="#f0b085"/><rect x="774.3" y="801.67" width="71.9" height="5.87" fill="#f5cb99"/><rect x="774.3" y="807.19" width="71.9" height="5.87" fill="#f4c494"/><rect x="774.3" y="812.72" width="71.9" height="5.87" fill="#e67f61"/><rect x="774.3" y="818.24" width="71.9" height="5.87" fill="#fae7ad"/><rect x="774.3" y="823.76" width="71.9" height="5.87" fill="#f5cc99"/><rect x="774.3" y="829.29" width="71.9" height="5.87" fill="#f1b589"/><rect x="774.3" y="834.81" width="71.9" height="5.87" fill="#f1b588"/><rect x="774.3" y="840.33" width="71.9" height="5.87" fill="#fdfebf"/><rect x="774.3" y="845.86" width="71.9" height="5.87" fill="#f4c796"/><rect x="774.3" y="851.38" width="71.9" height="5.87" fill="#f0b186"/><rect x="774.3" y="856.90" width="71.9" height="5.87" fill="#ec9f78"/><rect x="774.3" y="862.42" width="71.9" height="5.87" fill="#ec9d77"/><rect x="774.3" y="867.95" width="71.9" height="5.87" fill="#f4c897"/><rect x="774.3" y="873.47" width="71.9" height="5.87" fill="#f4c796"/><rect x="774.3" y="878.99" width="71.9" height="5.87" fill="#f8d9a3"/><rect x="774.3" y="884.52" width="71.9" height="5.87" fill="#eb9873"/><rect x="774.3" y="890.04" width="71.9" height="5.87" fill="#f4c796"/><rect x="774.3" y="895.56" width="71.9" height="5.87" fill="#f1b488"/><rect x="774.3" y="901.09" width="71.9" height="5.87" fill="#efad83"/><rect x="774.3" y="906.61" width="71.9" height="5.87" fill="#eaf0be"/><rect x="774.3" y="912.13" width="71.9" height="5.87" fill="#f0b085"/><rect x="774.3" y="917.65" width="71.9" height="5.87" fill="#f5cb98"/><rect x="774.3" y="923.18" width="71.9" height="5.87" fill="#ffffbf"/><rect x="774.3" y="928.70" width="71.9" height="5.87" fill="#fafbbf"/><rect x="774.3" y="934.22" width="71.9" height="5.87" fill="#fbfcbf"/><rect x="774.3" y="939.75" width="71.9" height="5.87" fill="#fbfcbf"/><rect x="774.3" y="945.27" width="71.9" height="5.87" fill="#fcf0b4"/><rect x="774.3" y="950.79" width="71.9" height="5.87" fill="#f4c594"/><rect x="774.3" y="956.32" width="71.9" height="5.87" fill="#fbecb1"/><rect x="774.3" y="961.84" width="71.9" height="5.87" fill="#ebf0be"/><rect x="774.3" y="967.36" width="71.9" height="5.87" fill="#f0b186"/><rect x="774.3" y="972.88" width="71.9" height="5.87" fill="#f7d7a1"/><rect x="774.3" y="978.41" width="71.9" height="5.87" fill="#f5c997"/><rect x="774.3" y="983.93" width="71.9" height="5.87" fill="#f9dfa7"/><rect x="774.3" y="989.45" width="71.9" height="5.87" fill="#f8d8a3"/><rect x="774.3" y="994.98" width="71.9" height="5.87" fill="#d8e2bd"/><rect x="774.3" y="1000.50" width="71.9" height="5.87" fill="#dbe4bd"/><rect x="774.3" y="1006.02" width="71.9" height="5.87" fill="#c1d1bb"/><rect x="774.3" y="1011.55" width="71.9" height="5.87" fill="#fdfdbf"/><rect x="774.3" y="1017.07" width="71.9" height="5.87" fill="#9ab4b9"/><rect x="774.3" y="1022.59" width="71.9" height="5.87" fill="#fffdbe"/><rect x="774.3" y="1028.11" width="71.9" height="5.87" fill="#fbe8ae"/><rect x="774.3" y="1033.64" width="71.9" height="5.87" fill="#f1b589"/><rect x="774.3" y="1039.16" width="71.9" height="5.87" fill="#f0b387"/><rect x="774.3" y="1044.68" width="71.9" height="5.87" fill="#e9eebe"/><rect x="774.3" y="1050.21" width="71.9" height="5.87" fill="#f0b488"/><rect x="774.3" y="1055.73" width="71.9" height="5.87" fill="#eb9772"/><rect x="774.3" y="1061.25" width="71.9" height="5.87" fill="#fbebb1"/><rect x="774.3" y="1066.78" width="71.9" height="5.87" fill="#f7d7a2"/><rect x="774.3" y="1072.30" width="71.9" height="5.87" fill="#f8dda6"/><rect x="774.3" y="1077.82" width="71.9" height="5.87" fill="#f0f4be"/><rect x="774.3" y="1083.34" width="71.9" height="5.87" fill="#f8dca6"/><rect x="774.3" y="1088.87" width="71.9" height="5.87" fill="#fcefb3"/><rect x="774.3" y="1094.39" width="71.9" height="5.87" fill="#efad83"/><rect x="774.3" y="1099.91" width="71.9" height="5.87" fill="#f7d7a2"/><rect x="774.3" y="1105.44" width="71.9" height="5.87" fill="#f9e0a8"/><rect x="774.3" y="1110.96" width="71.9" height="5.87" fill="#fefebf"/><rect x="774.3" y="1116.48" width="71.9" height="5.87" fill="#f4c897"/><rect x="774.3" y="1122.01" width="71.9" height="5.87" fill="#f9dfa7"/><rect x="774.3" y="1127.53" width="71.9" height="5.87" fill="#f5cb99"/><rect x="774.3" y="1133.05" width="71.9" height="5.87" fill="#f5cd9a"/><rect x="774.3" y="1138.57" width="71.9" height="5.87" fill="#f5cc9a"/><rect x="774.3" y="1144.10" width="71.9" height="5.87" fill="#f5cc99"/><rect x="774.3" y="1149.62" width="71.9" height="5.87" fill="#fefebf"/><rect x="774.3" y="1155.14" width="71.9" height="5.87" fill="#f8daa4"/><rect x="774.3" y="1160.67" width="71.9" height="5.87" fill="#f5cc9a"/><rect x="774.3" y="1166.19" width="71.9" height="5.87" fill="#f1b689"/><rect x="774.3" y="1171.71" width="71.9" height="5.87" fill="#ec9d77"/><rect x="774.3" y="1177.24" width="71.9" height="5.87" fill="#efae84"/><rect x="774.3" y="1182.76" width="71.9" height="5.87" fill="#fcf0b4"/><rect x="774.3" y="1188.28" width="71.9" height="5.87" fill="#fceeb3"/><rect x="774.3" y="1193.80" width="71.9" height="5.87" fill="#f5cc9a"/><rect x="774.3" y="1199.33" width="71.9" height="5.87" fill="#f4c695"/><rect x="774.3" y="1204.85" width="71.9" height="5.87" fill="#f5c997"/><rect x="774.3" y="1210.37" width="71.9" height="5.87" fill="#eda079"/><rect x="774.3" y="1215.90" width="71.9" height="5.87" fill="#f1b588"/><rect x="774.3" y="1221.42" width="71.9" height="5.87" fill="#e78465"/><rect x="774.3" y="1226.94" width="71.9" height="5.87" fill="#f0b085"/><rect x="774.3" y="1232.47" width="71.9" height="5.87" fill="#ec9a75"/><rect x="774.3" y="1237.99" width="71.9" height="5.87" fill="#eda079"/><rect x="774.3" y="1243.51" width="71.9" height="5.87" fill="#ec9f79"/><rect x="774.3" y="1249.03" width="71.9" height="5.87" fill="#e78162"/><rect x="774.3" y="1254.56" width="71.9" height="5.87" fill="#e78465"/><rect x="774.3" y="1260.08" width="71.9" height="5.87" fill="#f0b387"/><rect x="774.3" y="1265.60" width="71.9" height="5.87" fill="#ec9e78"/><rect x="774.3" y="1271.13" width="71.9" height="5.87" fill="#e67e60"/><rect x="774.3" y="1276.65" width="71.9" height="5.87" fill="#e5765b"/><rect x="774.3" y="1282.17" width="71.9" height="5.87" fill="#e78263"/><rect x="774.3" y="1287.70" width="71.9" height="5.87" fill="#f0b286"/><rect x="774.3" y="1293.22" width="71.9" height="5.87" fill="#e78464"/><rect x="774.3" y="1298.74" width="71.9" height="5.87" fill="#eb9873"/><rect x="774.3" y="1304.26" width="71.9" height="5.87" fill="#eb9672"/><rect x="774.3" y="1309.79" width="71.9" height="5.87" fill="#f5cb99"/><rect x="774.3" y="1315.31" width="71.9" height="5.87" fill="#ec9f78"/><rect x="774.3" y="1320.83" width="71.9" height="5.87" fill="#f8d9a3"/><rect x="774.3" y="1326.36" width="71.9" height="5.87" fill="#f9dfa8"/><rect x="774.3" y="1331.88" width="71.9" height="5.87" fill="#f1b689"/><rect x="774.3" y="1337.40" width="71.9" height="5.87" fill="#f4c594"/><rect x="774.3" y="1342.93" width="71.9" height="5.87" fill="#f5ca98"/><rect x="774.3" y="1348.45" width="71.9" height="5.87" fill="#eb9874"/><rect x="774.3" y="1353.97" width="71.9" height="5.87" fill="#e78465"/><rect x="774.3" y="1359.49" width="71.9" height="5.87" fill="#eb9873"/><rect x="774.3" y="1365.02" width="71.9" height="5.87" fill="#e78364"/><rect x="774.3" y="1370.54" width="71.9" height="5.87" fill="#e88666"/><rect x="774.3" y="1376.06" width="71.9" height="5.87" fill="#f1b689"/><rect x="774.3" y="1381.59" width="71.9" height="5.87" fill="#e47459"/><rect x="774.3" y="1387.11" width="71.9" height="5.87" fill="#e47358"/><rect x="774.3" y="1392.63" width="71.9" height="5.87" fill="#eb9773"/><rect x="774.3" y="1398.16" width="71.9" height="5.87" fill="#f1b588"/><rect x="774.3" y="1403.68" width="71.9" height="5.87" fill="#e05e49"/><rect x="774.3" y="1409.20" width="71.9" height="5.87" fill="#e78465"/><rect x="774.3" y="1414.72" width="71.9" height="5.87" fill="#f0b085"/><rect x="774.3" y="1420.25" width="71.9" height="5.87" fill="#ed9f79"/><rect x="774.3" y="1425.77" width="71.9" height="5.87" fill="#ec9e78"/><rect x="774.3" y="1431.29" width="71.9" height="5.87" fill="#dc4b3b"/><rect x="774.3" y="1436.82" width="71.9" height="5.87" fill="#e67e60"/><rect x="774.3" y="1442.34" width="71.9" height="5.87" fill="#e88767"/><rect x="774.3" y="1447.86" width="71.9" height="5.87" fill="#e47459"/><rect x="774.3" y="1453.39" width="71.9" height="5.87" fill="#efad83"/><rect x="774.3" y="1458.91" width="71.9" height="5.87" fill="#efab82"/><rect x="774.3" y="1464.43" width="71.9" height="5.87" fill="#e5785c"/><rect x="774.3" y="1469.95" width="71.9" height="5.87" fill="#f1b488"/><rect x="774.3" y="1475.48" width="71.9" height="5.87" fill="#efac82"/><rect x="774.3" y="1481.00" width="71.9" height="5.87" fill="#efab81"/><rect x="774.3" y="1486.52" width="71.9" height="5.87" fill="#f5c998"/><rect x="774.3" y="1492.05" width="71.9" height="5.87" fill="#fcf1b5"/><rect x="774.3" y="1497.57" width="71.9" height="5.87" fill="#eb9773"/><rect x="774.3" y="1503.09" width="71.9" height="5.87" fill="#f5ca98"/><rect x="774.3" y="1508.62" width="71.9" height="5.87" fill="#eb9773"/><rect x="774.3" y="1514.14" width="71.9" height="5.87" fill="#ec9a75"/><rect x="774.3" y="1519.66" width="71.9" height="5.87" fill="#e67f61"/><rect x="774.3" y="1525.18" width="71.9" height="5.87" fill="#f9dfa8"/><rect x="774.3" y="1530.71" width="71.9" height="5.87" fill="#fbe9af"/><rect x="774.3" y="1536.23" width="71.9" height="5.87" fill="#eaefbe"/><rect x="774.3" y="1541.75" width="71.9" height="5.87" fill="#fcedb2"/><rect x="774.3" y="1547.28" width="71.9" height="5.87" fill="#f0f4be"/><rect x="774.3" y="1552.80" width="71.9" height="5.87" fill="#eb9873"/><rect x="774.3" y="1558.32" width="71.9" height="5.87" fill="#f5cd9a"/><rect x="774.3" y="1563.85" width="71.9" height="5.87" fill="#f9dfa7"/><rect x="774.3" y="1569.37" width="71.9" height="5.87" fill="#ebf0be"/><rect x="774.3" y="1574.89" width="71.9" height="5.87" fill="#fbecb1"/><rect x="774.3" y="1580.41" width="71.9" height="5.87" fill="#fcfdbf"/><rect x="774.3" y="1585.94" width="71.9" height="5.87" fill="#eda079"/><rect x="774.3" y="1591.46" width="71.9" height="5.87" fill="#fcefb3"/><rect x="774.3" y="1596.98" width="71.9" height="5.87" fill="#f4c796"/><rect x="774.3" y="1602.51" width="71.9" height="5.87" fill="#fbe8ae"/><rect x="774.3" y="1608.03" width="71.9" height="5.87" fill="#f1b589"/><rect x="774.3" y="1613.55" width="71.9" height="5.87" fill="#f0b085"/><rect x="774.3" y="1619.08" width="71.9" height="5.87" fill="#efae83"/><rect x="774.3" y="1624.60" width="71.9" height="5.87" fill="#f6ce9b"/><rect x="774.3" y="1630.12" width="71.9" height="5.87" fill="#f4c695"/><rect x="774.3" y="1635.64" width="71.9" height="5.87" fill="#fcf0b4"/><rect x="774.3" y="1641.17" width="71.9" height="5.87" fill="#d7e1bd"/><rect x="774.3" y="1646.69" width="71.9" height="5.87" fill="#c6d5bc"/><rect x="774.3" y="1652.21" width="71.9" height="5.87" fill="#fbebb0"/><rect x="774.3" y="1657.74" width="71.9" height="5.87" fill="#f9dea7"/><rect x="774.3" y="1663.26" width="71.9" height="5.87" fill="#f8dda6"/><rect x="774.3" y="1668.78" width="71.9" height="5.87" fill="#f8dba5"/><rect x="774.3" y="1674.31" width="71.9" height="5.87" fill="#f0b186"/><rect x="774.3" y="1679.83" width="71.9" height="5.87" fill="#ffffbf"/><rect x="774.3" y="1685.35" width="71.9" height="5.87" fill="#f5ca98"/><rect x="774.3" y="1690.87" width="71.9" height="5.87" fill="#f5ca98"/><rect x="774.3" y="1696.40" width="71.9" height="5.87" fill="#f9e1a9"/><rect x="774.3" y="1701.92" width="71.9" height="5.87" fill="#f0af84"/><rect x="774.3" y="1707.44" width="71.9" height="5.87" fill="#f0b085"/><rect x="774.3" y="1712.97" width="71.9" height="5.87" fill="#f0b387"/><rect x="774.3" y="1718.49" width="71.9" height="5.87" fill="#e68062"/><rect x="774.3" y="1724.01" width="71.9" height="5.87" fill="#eb9974"/><rect x="774.3" y="1729.54" width="71.9" height="5.87" fill="#f0b186"/><rect x="774.3" y="1735.06" width="71.9" height="5.49" fill="#94afb9"/></g>
<rect x="775.32" y="442.68" width="69.85" height="1295.52" rx="34.93" ry="34.93" fill="none" stroke="#808080" stroke-width="2.85"/>
<polyline fill="none" stroke="#879ecd" stroke-width="3.0" stroke-linejoin="miter" points="906.7,445.4 898.2,451.0 886.2,456.5 897.2,462.0 903.7,467.5 908.0,473.1 899.9,478.6 896.7,484.1 894.2,489.6 886.6,495.1 903.9,500.7 906.9,506.2 921.3,511.7 908.2,517.2 906.6,522.8 907.3,528.3 908.0,533.8 903.6,539.3 906.6,544.9 906.6,550.4 906.6,555.9 911.8,561.4 899.6,566.9 907.9,572.5 900.6,578.0 915.1,583.5 910.6,589.0 898.2,594.6 903.3,600.1 890.6,605.6 903.5,611.1 907.1,616.7 902.7,622.2 906.5,627.7 903.6,633.2 908.2,638.7 903.4,644.3 911.9,649.8 902.2,655.3 902.6,660.8 900.0,666.4 911.9,671.9 908.3,677.4 910.8,682.9 897.0,688.5 910.9,694.0 891.0,699.5 908.2,705.0 893.7,710.5 903.7,716.1 903.6,721.6 908.0,727.1 897.9,732.6 907.6,738.2 897.2,743.7 893.9,749.2 899.8,754.7 891.6,760.2 902.3,765.8 914.8,771.3 897.9,776.8 902.6,782.3 906.6,787.9 914.5,793.4 907.5,798.9 902.8,804.4 904.0,810.0 916.1,815.5 898.3,821.0 902.7,826.5 906.7,832.0 906.7,837.6 894.2,843.1 903.5,848.6 907.3,854.1 910.6,859.7 910.9,865.2 903.3,870.7 903.4,876.2 900.4,881.8 911.7,887.3 903.4,892.8 906.7,898.3 908.1,903.8 890.7,909.4 907.6,914.9 902.9,920.4 894.7,925.9 893.7,931.5 893.8,937.0 893.8,942.5 896.9,948.0 903.8,953.6 897.6,959.1 890.7,964.6 907.2,970.1 900.8,975.6 903.1,981.2 899.5,986.7 900.5,992.2 887.1,997.7 887.7,1003.3 882.9,1008.8 894.2,1014.3 877.7,1019.8 894.8,1025.4 898.1,1030.9 906.6,1036.4 907.1,1041.9 890.3,1047.4 906.9,1053.0 911.9,1058.5 897.6,1064.0 900.7,1069.5 899.8,1075.1 891.7,1080.6 899.9,1086.1 897.1,1091.6 908.0,1097.2 900.7,1102.7 899.3,1108.2 894.4,1113.7 903.3,1119.2 899.5,1124.8 902.9,1130.3 902.4,1135.8 902.6,1141.3 902.7,1146.9 894.4,1152.4 900.2,1157.9 902.6,1163.4 906.5,1169.0 910.7,1174.5 907.8,1180.0 896.9,1185.5 897.1,1191.0 902.6,1196.6 903.7,1202.1 903.2,1207.6 910.2,1213.1 906.7,1218.7 915.2,1224.2 907.5,1229.7 911.3,1235.2 910.3,1240.8 910.4,1246.3 915.8,1251.8 915.2,1257.3 907.0,1262.8 910.7,1268.4 916.2,1273.9 917.6,1279.4 915.5,1284.9 907.2,1290.5 915.2,1296.0 911.7,1301.5 912.0,1307.0 902.9,1312.5 910.5,1318.1 900.4,1323.6 899.5,1329.1 906.5,1334.6 903.9,1340.2 903.0,1345.7 911.7,1351.2 915.2,1356.7 911.8,1362.3 915.3,1367.8 914.8,1373.3 906.5,1378.8 918.0,1384.3 918.2,1389.9 911.8,1395.4 906.7,1400.9 921.8,1406.4 915.1,1412.0 907.5,1417.5 910.4,1423.0 910.6,1428.5 925.2,1434.1 916.2,1439.6 914.7,1445.1 917.9,1450.6 908.0,1456.1 908.3,1461.7 917.3,1467.2 906.7,1472.7 908.3,1478.2 908.3,1483.8 903.1,1489.3 896.7,1494.8 911.9,1500.3 902.9,1505.9 911.8,1511.4 911.3,1516.9 916.0,1522.4 899.4,1527.9 897.9,1533.5 890.5,1539.0 897.3,1544.5 891.7,1550.0 911.7,1555.6 902.5,1561.1 899.5,1566.6 890.9,1572.1 897.5,1577.7 894.0,1583.2 910.3,1588.7 897.0,1594.2 903.5,1599.7 898.1,1605.3 906.6,1610.8 907.6,1616.3 907.9,1621.8 902.2,1627.4 903.7,1632.9 896.8,1638.4 887.0,1643.9 883.7,1649.5 897.7,1655.0 899.7,1660.5 899.9,1666.0 900.1,1671.5 907.3,1677.1 894.5,1682.6 903.0,1688.1 903.0,1693.6 899.2,1699.2 907.7,1704.7 907.4,1710.2 906.9,1715.7 915.9,1721.3 911.6,1726.8 907.4,1732.3 874.0,1737.0"/>
<text x="821.5" y="1783.6" font-size="26.9" text-anchor="middle" textLength="167.8" lengthAdjust="spacingAndGlyphs">NC_024462.2</text>
<g clip-path="url(#c4)"><rect x="957.92" y="563.79" width="69.85" height="1174.41" fill="#f0b085"/><rect x="956.9" y="563.79" width="71.9" height="5.87" fill="#f0b185"/><rect x="956.9" y="569.31" width="71.9" height="5.87" fill="#f1b588"/><rect x="956.9" y="574.84" width="71.9" height="5.87" fill="#f9e0a8"/><rect x="956.9" y="580.36" width="71.9" height="5.87" fill="#f5ca98"/><rect x="956.9" y="585.88" width="71.9" height="5.87" fill="#eda079"/><rect x="956.9" y="591.40" width="71.9" height="5.87" fill="#e0604a"/><rect x="956.9" y="596.93" width="71.9" height="5.87" fill="#f0b085"/><rect x="956.9" y="602.45" width="71.9" height="5.87" fill="#eda17a"/><rect x="956.9" y="607.97" width="71.9" height="5.87" fill="#ec9a75"/><rect x="956.9" y="613.50" width="71.9" height="5.87" fill="#f1b589"/><rect x="956.9" y="619.02" width="71.9" height="5.87" fill="#efae83"/><rect x="956.9" y="624.54" width="71.9" height="5.87" fill="#f4c695"/><rect x="956.9" y="630.07" width="71.9" height="5.87" fill="#e78364"/><rect x="956.9" y="635.59" width="71.9" height="5.87" fill="#f1b589"/><rect x="956.9" y="641.11" width="71.9" height="5.87" fill="#ec9c76"/><rect x="956.9" y="646.63" width="71.9" height="5.87" fill="#f0b286"/><rect x="956.9" y="652.16" width="71.9" height="5.87" fill="#efab82"/><rect x="956.9" y="657.68" width="71.9" height="5.87" fill="#e88767"/><rect x="956.9" y="663.20" width="71.9" height="5.87" fill="#eb9873"/><rect x="956.9" y="668.73" width="71.9" height="5.87" fill="#e67d60"/><rect x="956.9" y="674.25" width="71.9" height="5.87" fill="#eb9974"/><rect x="956.9" y="679.77" width="71.9" height="5.87" fill="#eb9874"/><rect x="956.9" y="685.30" width="71.9" height="5.87" fill="#e88666"/><rect x="956.9" y="690.82" width="71.9" height="5.87" fill="#e36f55"/><rect x="956.9" y="696.34" width="71.9" height="5.87" fill="#ec9c76"/><rect x="956.9" y="701.86" width="71.9" height="5.87" fill="#efab82"/><rect x="956.9" y="707.39" width="71.9" height="5.87" fill="#efac82"/><rect x="956.9" y="712.91" width="71.9" height="5.87" fill="#f5cd9a"/><rect x="956.9" y="718.43" width="71.9" height="5.87" fill="#efad83"/><rect x="956.9" y="723.96" width="71.9" height="5.87" fill="#eb9773"/><rect x="956.9" y="729.48" width="71.9" height="5.87" fill="#f1b589"/><rect x="956.9" y="735.00" width="71.9" height="5.87" fill="#ec9d77"/><rect x="956.9" y="740.53" width="71.9" height="5.87" fill="#f4c695"/><rect x="956.9" y="746.05" width="71.9" height="5.87" fill="#ed9f79"/><rect x="956.9" y="751.57" width="71.9" height="5.87" fill="#eb9773"/><rect x="956.9" y="757.09" width="71.9" height="5.87" fill="#f5cc99"/><rect x="956.9" y="762.62" width="71.9" height="5.87" fill="#f4c695"/><rect x="956.9" y="768.14" width="71.9" height="5.87" fill="#ed9f79"/><rect x="956.9" y="773.66" width="71.9" height="5.87" fill="#f5c997"/><rect x="956.9" y="779.19" width="71.9" height="5.87" fill="#fffdbd"/><rect x="956.9" y="784.71" width="71.9" height="5.87" fill="#f0b388"/><rect x="956.9" y="790.23" width="71.9" height="5.87" fill="#f0b387"/><rect x="956.9" y="795.76" width="71.9" height="5.87" fill="#f5c997"/><rect x="956.9" y="801.28" width="71.9" height="5.87" fill="#fbfcbf"/><rect x="956.9" y="806.80" width="71.9" height="5.87" fill="#eda17a"/><rect x="956.9" y="812.32" width="71.9" height="5.87" fill="#f5cd9a"/><rect x="956.9" y="817.85" width="71.9" height="5.87" fill="#f1b488"/><rect x="956.9" y="823.37" width="71.9" height="5.87" fill="#efac82"/><rect x="956.9" y="828.89" width="71.9" height="5.87" fill="#eb9a75"/><rect x="956.9" y="834.42" width="71.9" height="5.87" fill="#e67f61"/><rect x="956.9" y="839.94" width="71.9" height="5.87" fill="#e88666"/><rect x="956.9" y="845.46" width="71.9" height="5.87" fill="#e68062"/><rect x="956.9" y="850.99" width="71.9" height="5.87" fill="#e5785c"/><rect x="956.9" y="856.51" width="71.9" height="5.87" fill="#e47459"/><rect x="956.9" y="862.03" width="71.9" height="5.87" fill="#e78163"/><rect x="956.9" y="867.55" width="71.9" height="5.87" fill="#e78465"/><rect x="956.9" y="873.08" width="71.9" height="5.87" fill="#fbe8ae"/><rect x="956.9" y="878.60" width="71.9" height="5.87" fill="#f4c997"/><rect x="956.9" y="884.12" width="71.9" height="5.87" fill="#f0af85"/><rect x="956.9" y="889.65" width="71.9" height="5.87" fill="#e67f61"/><rect x="956.9" y="895.17" width="71.9" height="5.87" fill="#e5795c"/><rect x="956.9" y="900.69" width="71.9" height="5.87" fill="#eb9672"/><rect x="956.9" y="906.22" width="71.9" height="5.87" fill="#f0af84"/><rect x="956.9" y="911.74" width="71.9" height="5.87" fill="#f8dda6"/><rect x="956.9" y="917.26" width="71.9" height="5.87" fill="#f8d9a3"/><rect x="956.9" y="922.78" width="71.9" height="5.87" fill="#e5775b"/><rect x="956.9" y="928.31" width="71.9" height="5.87" fill="#efab81"/><rect x="956.9" y="933.83" width="71.9" height="5.87" fill="#f0b085"/><rect x="956.9" y="939.35" width="71.9" height="5.87" fill="#f8dda6"/><rect x="956.9" y="944.88" width="71.9" height="5.87" fill="#efad83"/><rect x="956.9" y="950.40" width="71.9" height="5.87" fill="#e4755a"/><rect x="956.9" y="955.92" width="71.9" height="5.87" fill="#f0b488"/><rect x="956.9" y="961.45" width="71.9" height="5.87" fill="#efae83"/><rect x="956.9" y="966.97" width="71.9" height="5.87" fill="#f1b589"/><rect x="956.9" y="972.49" width="71.9" height="5.87" fill="#efad83"/><rect x="956.9" y="978.01" width="71.9" height="5.87" fill="#fcefb3"/><rect x="956.9" y="983.54" width="71.9" height="5.87" fill="#f0af84"/><rect x="956.9" y="989.06" width="71.9" height="5.87" fill="#efab81"/><rect x="956.9" y="994.58" width="71.9" height="5.87" fill="#ec9b75"/><rect x="956.9" y="1000.11" width="71.9" height="5.87" fill="#ffffbf"/><rect x="956.9" y="1005.63" width="71.9" height="5.87" fill="#e78565"/><rect x="956.9" y="1011.15" width="71.9" height="5.87" fill="#f1b689"/><rect x="956.9" y="1016.68" width="71.9" height="5.87" fill="#f1b589"/><rect x="956.9" y="1022.20" width="71.9" height="5.87" fill="#f5cd9a"/><rect x="956.9" y="1027.72" width="71.9" height="5.87" fill="#f4c897"/><rect x="956.9" y="1033.24" width="71.9" height="5.87" fill="#f0b186"/><rect x="956.9" y="1038.77" width="71.9" height="5.87" fill="#f0b085"/><rect x="956.9" y="1044.29" width="71.9" height="5.87" fill="#f4c594"/><rect x="956.9" y="1049.81" width="71.9" height="5.87" fill="#f1b488"/><rect x="956.9" y="1055.34" width="71.9" height="5.87" fill="#f0b387"/><rect x="956.9" y="1060.86" width="71.9" height="5.87" fill="#eb9a75"/><rect x="956.9" y="1066.38" width="71.9" height="5.87" fill="#f6ce9b"/><rect x="956.9" y="1071.91" width="71.9" height="5.87" fill="#f9e1a9"/><rect x="956.9" y="1077.43" width="71.9" height="5.87" fill="#fceeb2"/><rect x="956.9" y="1082.95" width="71.9" height="5.87" fill="#f9e0a8"/><rect x="956.9" y="1088.47" width="71.9" height="5.87" fill="#f5cb99"/><rect x="956.9" y="1094.00" width="71.9" height="5.87" fill="#f5cc9a"/><rect x="956.9" y="1099.52" width="71.9" height="5.87" fill="#fefebf"/><rect x="956.9" y="1105.04" width="71.9" height="5.87" fill="#fbebb1"/><rect x="956.9" y="1110.57" width="71.9" height="5.87" fill="#d3dfbc"/><rect x="956.9" y="1116.09" width="71.9" height="5.87" fill="#98b3b9"/><rect x="956.9" y="1121.61" width="71.9" height="5.87" fill="#d6e0bd"/><rect x="956.9" y="1127.14" width="71.9" height="5.87" fill="#e9efbe"/><rect x="956.9" y="1132.66" width="71.9" height="5.87" fill="#fefcbd"/><rect x="956.9" y="1138.18" width="71.9" height="5.87" fill="#fbfcbf"/><rect x="956.9" y="1143.70" width="71.9" height="5.87" fill="#fafbbf"/><rect x="956.9" y="1149.23" width="71.9" height="5.87" fill="#f9fbbf"/><rect x="956.9" y="1154.75" width="71.9" height="5.87" fill="#fbebb0"/><rect x="956.9" y="1160.27" width="71.9" height="5.87" fill="#fbe8ae"/><rect x="956.9" y="1165.80" width="71.9" height="5.87" fill="#f8d9a3"/><rect x="956.9" y="1171.32" width="71.9" height="5.87" fill="#fcfdbf"/><rect x="956.9" y="1176.84" width="71.9" height="5.87" fill="#f5cc99"/><rect x="956.9" y="1182.37" width="71.9" height="5.87" fill="#f6ce9b"/><rect x="956.9" y="1187.89" width="71.9" height="5.87" fill="#f4c896"/><rect x="956.9" y="1193.41" width="71.9" height="5.87" fill="#d7e1bd"/><rect x="956.9" y="1198.93" width="71.9" height="5.87" fill="#ebf0be"/><rect x="956.9" y="1204.46" width="71.9" height="5.87" fill="#f4c896"/><rect x="956.9" y="1209.98" width="71.9" height="5.87" fill="#e1e9bd"/><rect x="956.9" y="1215.50" width="71.9" height="5.87" fill="#f4c494"/><rect x="956.9" y="1221.03" width="71.9" height="5.87" fill="#ffffbf"/><rect x="956.9" y="1226.55" width="71.9" height="5.87" fill="#fbfcbf"/><rect x="956.9" y="1232.07" width="71.9" height="5.87" fill="#f0f4be"/><rect x="956.9" y="1237.60" width="71.9" height="5.87" fill="#f9e1a9"/><rect x="956.9" y="1243.12" width="71.9" height="5.87" fill="#f8dba5"/><rect x="956.9" y="1248.64" width="71.9" height="5.87" fill="#f8dda6"/><rect x="956.9" y="1254.16" width="71.9" height="5.87" fill="#d4dfbc"/><rect x="956.9" y="1259.69" width="71.9" height="5.87" fill="#f9e1a9"/><rect x="956.9" y="1265.21" width="71.9" height="5.87" fill="#fbe9af"/><rect x="956.9" y="1270.73" width="71.9" height="5.87" fill="#f1b689"/><rect x="956.9" y="1276.26" width="71.9" height="5.87" fill="#f4c997"/><rect x="956.9" y="1281.78" width="71.9" height="5.87" fill="#fae8ae"/><rect x="956.9" y="1287.30" width="71.9" height="5.87" fill="#f5cd9a"/><rect x="956.9" y="1292.83" width="71.9" height="5.87" fill="#fcf0b4"/><rect x="956.9" y="1298.35" width="71.9" height="5.87" fill="#f4c897"/><rect x="956.9" y="1303.87" width="71.9" height="5.87" fill="#f5c997"/><rect x="956.9" y="1309.39" width="71.9" height="5.87" fill="#fbebb0"/><rect x="956.9" y="1314.92" width="71.9" height="5.87" fill="#e67f61"/><rect x="956.9" y="1320.44" width="71.9" height="5.87" fill="#f5cd9a"/><rect x="956.9" y="1325.96" width="71.9" height="5.87" fill="#ec9e78"/><rect x="956.9" y="1331.49" width="71.9" height="5.87" fill="#f9dea7"/><rect x="956.9" y="1337.01" width="71.9" height="5.87" fill="#f9e1a9"/><rect x="956.9" y="1342.53" width="71.9" height="5.87" fill="#f4c594"/><rect x="956.9" y="1348.06" width="71.9" height="5.87" fill="#eff3be"/><rect x="956.9" y="1353.58" width="71.9" height="5.87" fill="#efae84"/><rect x="956.9" y="1359.10" width="71.9" height="5.87" fill="#fcf2b5"/><rect x="956.9" y="1364.62" width="71.9" height="5.87" fill="#f0f4be"/><rect x="956.9" y="1370.15" width="71.9" height="5.87" fill="#f4c796"/><rect x="956.9" y="1375.67" width="71.9" height="5.87" fill="#ec9c76"/><rect x="956.9" y="1381.19" width="71.9" height="5.87" fill="#fbeaaf"/><rect x="956.9" y="1386.72" width="71.9" height="5.87" fill="#ec9c76"/><rect x="956.9" y="1392.24" width="71.9" height="5.87" fill="#ec9f78"/><rect x="956.9" y="1397.76" width="71.9" height="5.87" fill="#f5cd9b"/><rect x="956.9" y="1403.29" width="71.9" height="5.87" fill="#ec9f78"/><rect x="956.9" y="1408.81" width="71.9" height="5.87" fill="#dde6bd"/><rect x="956.9" y="1414.33" width="71.9" height="5.87" fill="#e78565"/><rect x="956.9" y="1419.85" width="71.9" height="5.87" fill="#e68062"/><rect x="956.9" y="1425.38" width="71.9" height="5.87" fill="#efae84"/><rect x="956.9" y="1430.90" width="71.9" height="5.87" fill="#efad83"/><rect x="956.9" y="1436.42" width="71.9" height="5.87" fill="#eb9974"/><rect x="956.9" y="1441.95" width="71.9" height="5.87" fill="#e78566"/><rect x="956.9" y="1447.47" width="71.9" height="5.87" fill="#f0b085"/><rect x="956.9" y="1452.99" width="71.9" height="5.87" fill="#ec9c77"/><rect x="956.9" y="1458.52" width="71.9" height="5.87" fill="#eb9974"/><rect x="956.9" y="1464.04" width="71.9" height="5.87" fill="#ec9b76"/><rect x="956.9" y="1469.56" width="71.9" height="5.87" fill="#e1624c"/><rect x="956.9" y="1475.08" width="71.9" height="5.87" fill="#e47358"/><rect x="956.9" y="1480.61" width="71.9" height="5.87" fill="#efab82"/><rect x="956.9" y="1486.13" width="71.9" height="5.87" fill="#f5cc9a"/><rect x="956.9" y="1491.65" width="71.9" height="5.87" fill="#df5c47"/><rect x="956.9" y="1497.18" width="71.9" height="5.87" fill="#eda17a"/><rect x="956.9" y="1502.70" width="71.9" height="5.87" fill="#f5cc99"/><rect x="956.9" y="1508.22" width="71.9" height="5.87" fill="#e88666"/><rect x="956.9" y="1513.75" width="71.9" height="5.87" fill="#e68062"/><rect x="956.9" y="1519.27" width="71.9" height="5.87" fill="#e67e60"/><rect x="956.9" y="1524.79" width="71.9" height="5.87" fill="#eb9974"/><rect x="956.9" y="1530.31" width="71.9" height="5.87" fill="#ec9e77"/><rect x="956.9" y="1535.84" width="71.9" height="5.87" fill="#efac82"/><rect x="956.9" y="1541.36" width="71.9" height="5.87" fill="#f0b287"/><rect x="956.9" y="1546.88" width="71.9" height="5.87" fill="#e1624c"/><rect x="956.9" y="1552.41" width="71.9" height="5.87" fill="#f4c594"/><rect x="956.9" y="1557.93" width="71.9" height="5.87" fill="#f8daa4"/><rect x="956.9" y="1563.45" width="71.9" height="5.87" fill="#e78162"/><rect x="956.9" y="1568.98" width="71.9" height="5.87" fill="#e78162"/><rect x="956.9" y="1574.50" width="71.9" height="5.87" fill="#e67e60"/><rect x="956.9" y="1580.02" width="71.9" height="5.87" fill="#e47559"/><rect x="956.9" y="1585.54" width="71.9" height="5.87" fill="#e37156"/><rect x="956.9" y="1591.07" width="71.9" height="5.87" fill="#e78162"/><rect x="956.9" y="1596.59" width="71.9" height="5.87" fill="#e67f61"/><rect x="956.9" y="1602.11" width="71.9" height="5.87" fill="#f8dca6"/><rect x="956.9" y="1607.64" width="71.9" height="5.87" fill="#efae83"/><rect x="956.9" y="1613.16" width="71.9" height="5.87" fill="#f4c897"/><rect x="956.9" y="1618.68" width="71.9" height="5.87" fill="#e5765b"/><rect x="956.9" y="1624.21" width="71.9" height="5.87" fill="#ec9f78"/><rect x="956.9" y="1629.73" width="71.9" height="5.87" fill="#f0af84"/><rect x="956.9" y="1635.25" width="71.9" height="5.87" fill="#f9e0a8"/><rect x="956.9" y="1640.77" width="71.9" height="5.87" fill="#df5b47"/><rect x="956.9" y="1646.30" width="71.9" height="5.87" fill="#e88767"/><rect x="956.9" y="1651.82" width="71.9" height="5.87" fill="#eda17a"/><rect x="956.9" y="1657.34" width="71.9" height="5.87" fill="#eda079"/><rect x="956.9" y="1662.87" width="71.9" height="5.87" fill="#eb9773"/><rect x="956.9" y="1668.39" width="71.9" height="5.87" fill="#e1614b"/><rect x="956.9" y="1673.91" width="71.9" height="5.87" fill="#f5cd9a"/><rect x="956.9" y="1679.44" width="71.9" height="5.87" fill="#f9fabf"/><rect x="956.9" y="1684.96" width="71.9" height="5.87" fill="#e88867"/><rect x="956.9" y="1690.48" width="71.9" height="5.87" fill="#efae84"/><rect x="956.9" y="1696.00" width="71.9" height="5.87" fill="#e78163"/><rect x="956.9" y="1701.53" width="71.9" height="5.87" fill="#eb9a74"/><rect x="956.9" y="1707.05" width="71.9" height="5.87" fill="#efae83"/><rect x="956.9" y="1712.57" width="71.9" height="5.87" fill="#f1b589"/><rect x="956.9" y="1718.10" width="71.9" height="5.87" fill="#ec9b75"/><rect x="956.9" y="1723.62" width="71.9" height="5.87" fill="#e78465"/><rect x="956.9" y="1729.14" width="71.9" height="5.87" fill="#eb9874"/><rect x="956.9" y="1734.67" width="71.9" height="5.87" fill="#fffebe"/></g>
<rect x="957.92" y="563.79" width="69.85" height="1174.41" rx="34.93" ry="34.93" fill="none" stroke="#808080" stroke-width="2.85"/>
<polyline fill="none" stroke="#879ecd" stroke-width="3.0" stroke-linejoin="miter" points="1090.0,566.6 1089.3,572.1 1082.0,577.6 1085.6,583.1 1092.9,588.6 1104.0,594.2 1090.1,599.7 1092.8,605.2 1093.9,610.7 1089.3,616.3 1090.5,621.8 1086.2,627.3 1098.0,632.8 1089.2,638.4 1093.7,643.9 1089.8,649.4 1090.9,654.9 1097.3,660.4 1094.3,666.0 1098.9,671.5 1094.1,677.0 1094.2,682.5 1097.4,688.1 1101.4,693.6 1093.6,699.1 1090.9,704.6 1090.8,710.1 1085.1,715.7 1090.6,721.2 1094.5,726.7 1089.2,732.2 1093.4,737.8 1086.2,743.3 1093.0,748.8 1094.4,754.3 1085.3,759.9 1086.3,765.4 1093.0,770.9 1085.7,776.4 1077.6,781.9 1089.5,787.5 1089.6,793.0 1085.7,798.5 1076.5,804.0 1092.8,809.6 1085.1,815.1 1089.4,820.6 1090.9,826.1 1094.0,831.7 1098.7,837.2 1097.4,842.7 1098.5,848.2 1099.8,853.7 1100.6,859.3 1098.2,864.8 1097.7,870.3 1080.7,875.8 1085.8,881.4 1090.2,886.9 1098.7,892.4 1099.8,897.9 1094.6,903.5 1090.3,909.0 1082.4,914.5 1083.1,920.0 1100.1,925.5 1091.0,931.1 1090.2,936.6 1082.4,942.1 1090.5,947.6 1100.4,953.2 1089.4,958.7 1090.5,964.2 1089.2,969.7 1090.6,975.3 1079.6,980.8 1090.3,986.3 1091.0,991.8 1093.8,997.3 1077.1,1002.9 1097.6,1008.4 1089.1,1013.9 1089.2,1019.4 1085.1,1025.0 1085.9,1030.5 1089.9,1036.0 1090.1,1041.5 1086.5,1047.1 1089.4,1052.6 1089.5,1058.1 1093.9,1063.6 1084.8,1069.1 1081.8,1074.7 1079.8,1080.2 1081.9,1085.7 1085.4,1091.2 1085.2,1096.8 1077.0,1102.3 1080.2,1107.8 1068.8,1113.3 1060.1,1118.9 1069.3,1124.4 1073.0,1129.9 1077.6,1135.4 1076.4,1140.9 1076.2,1146.5 1076.1,1152.0 1080.3,1157.5 1080.7,1163.0 1083.1,1168.6 1076.7,1174.1 1085.3,1179.6 1084.8,1185.1 1086.0,1190.7 1069.5,1196.2 1073.4,1201.7 1086.0,1207.2 1071.4,1212.7 1086.5,1218.3 1077.3,1223.8 1076.4,1229.3 1074.4,1234.8 1081.8,1240.4 1082.6,1245.9 1082.4,1251.4 1068.9,1256.9 1081.9,1262.4 1080.5,1268.0 1089.1,1273.5 1085.8,1279.0 1080.8,1284.5 1085.0,1290.1 1079.6,1295.6 1085.9,1301.1 1085.7,1306.6 1080.3,1312.2 1098.6,1317.7 1085.1,1323.2 1093.3,1328.7 1082.3,1334.2 1081.8,1339.8 1086.4,1345.3 1074.2,1350.8 1090.4,1356.3 1079.2,1361.9 1074.3,1367.4 1086.2,1372.9 1093.6,1378.4 1080.5,1384.0 1093.6,1389.5 1093.1,1395.0 1085.0,1400.5 1093.2,1406.0 1070.7,1411.6 1097.7,1417.1 1098.5,1422.6 1090.4,1428.1 1090.7,1433.7 1094.1,1439.2 1097.5,1444.7 1090.1,1450.2 1093.5,1455.8 1094.2,1461.3 1093.7,1466.8 1103.7,1472.3 1100.8,1477.8 1090.9,1483.4 1085.2,1488.9 1104.8,1494.4 1092.7,1499.9 1085.3,1505.5 1097.5,1511.0 1098.4,1516.5 1098.8,1522.0 1094.1,1527.6 1093.3,1533.1 1090.8,1538.6 1089.7,1544.1 1103.6,1549.6 1086.5,1555.2 1082.8,1560.7 1098.3,1566.2 1098.3,1571.7 1098.9,1577.3 1100.5,1582.8 1101.2,1588.3 1098.4,1593.8 1098.7,1599.4 1082.5,1604.9 1090.5,1610.4 1085.8,1615.9 1100.2,1621.4 1093.1,1627.0 1090.3,1632.5 1081.9,1638.0 1104.9,1643.5 1097.3,1649.1 1092.8,1654.6 1092.9,1660.1 1094.5,1665.6 1103.8,1671.2 1085.0,1676.7 1076.0,1682.2 1097.1,1687.7 1090.4,1693.2 1098.2,1698.8 1094.0,1704.3 1090.5,1709.8 1089.2,1715.3 1093.8,1720.9 1097.7,1726.4 1094.2,1731.9 1074.3,1737.0"/>
<text x="1004.1" y="1783.6" font-size="26.9" text-anchor="middle" textLength="167.8" lengthAdjust="spacingAndGlyphs">NC_024463.2</text>
<g clip-path="url(#c5)"><rect x="1140.52" y="825.37" width="69.85" height="912.83" fill="#f0b085"/><rect x="1139.5" y="825.37" width="71.9" height="5.87" fill="#eb9773"/><rect x="1139.5" y="830.89" width="71.9" height="5.87" fill="#e88767"/><rect x="1139.5" y="836.42" width="71.9" height="5.87" fill="#e37056"/><rect x="1139.5" y="841.94" width="71.9" height="5.87" fill="#e67e61"/><rect x="1139.5" y="847.46" width="71.9" height="5.87" fill="#eb9773"/><rect x="1139.5" y="852.99" width="71.9" height="5.87" fill="#f1b588"/><rect x="1139.5" y="858.51" width="71.9" height="5.87" fill="#dd4e3d"/><rect x="1139.5" y="864.03" width="71.9" height="5.87" fill="#e5785c"/><rect x="1139.5" y="869.55" width="71.9" height="5.87" fill="#d9392e"/><rect x="1139.5" y="875.08" width="71.9" height="5.87" fill="#eb9873"/><rect x="1139.5" y="880.60" width="71.9" height="5.87" fill="#f4c695"/><rect x="1139.5" y="886.12" width="71.9" height="5.87" fill="#4e7bb5"/><rect x="1139.5" y="891.65" width="71.9" height="5.87" fill="#b8cabb"/><rect x="1139.5" y="897.17" width="71.9" height="5.87" fill="#eef2be"/><rect x="1139.5" y="902.69" width="71.9" height="5.87" fill="#f5cb99"/><rect x="1139.5" y="908.22" width="71.9" height="5.87" fill="#eda079"/><rect x="1139.5" y="913.74" width="71.9" height="5.87" fill="#eda079"/><rect x="1139.5" y="919.26" width="71.9" height="5.87" fill="#e47257"/><rect x="1139.5" y="924.78" width="71.9" height="5.87" fill="#ec9f78"/><rect x="1139.5" y="930.31" width="71.9" height="5.87" fill="#ec9e77"/><rect x="1139.5" y="935.83" width="71.9" height="5.87" fill="#ec9c77"/><rect x="1139.5" y="941.35" width="71.9" height="5.87" fill="#eda17a"/><rect x="1139.5" y="946.88" width="71.9" height="5.87" fill="#fcefb3"/><rect x="1139.5" y="952.40" width="71.9" height="5.87" fill="#f5cc99"/><rect x="1139.5" y="957.92" width="71.9" height="5.87" fill="#efae84"/><rect x="1139.5" y="963.45" width="71.9" height="5.87" fill="#ec9d77"/><rect x="1139.5" y="968.97" width="71.9" height="5.87" fill="#e1624b"/><rect x="1139.5" y="974.49" width="71.9" height="5.87" fill="#f4c494"/><rect x="1139.5" y="980.01" width="71.9" height="5.87" fill="#ec9c76"/><rect x="1139.5" y="985.54" width="71.9" height="5.87" fill="#eb9873"/><rect x="1139.5" y="991.06" width="71.9" height="5.87" fill="#f4c897"/><rect x="1139.5" y="996.58" width="71.9" height="5.87" fill="#f1b589"/><rect x="1139.5" y="1002.11" width="71.9" height="5.87" fill="#e78464"/><rect x="1139.5" y="1007.63" width="71.9" height="5.87" fill="#e4755a"/><rect x="1139.5" y="1013.15" width="71.9" height="5.87" fill="#efad83"/><rect x="1139.5" y="1018.68" width="71.9" height="5.87" fill="#fceeb3"/><rect x="1139.5" y="1024.20" width="71.9" height="5.87" fill="#f8daa4"/><rect x="1139.5" y="1029.72" width="71.9" height="5.87" fill="#f0b085"/><rect x="1139.5" y="1035.24" width="71.9" height="5.87" fill="#fcefb4"/><rect x="1139.5" y="1040.77" width="71.9" height="5.87" fill="#efac82"/><rect x="1139.5" y="1046.29" width="71.9" height="5.87" fill="#fcf1b5"/><rect x="1139.5" y="1051.81" width="71.9" height="5.87" fill="#eff3be"/><rect x="1139.5" y="1057.34" width="71.9" height="5.87" fill="#f0b488"/><rect x="1139.5" y="1062.86" width="71.9" height="5.87" fill="#f1b689"/><rect x="1139.5" y="1068.38" width="71.9" height="5.87" fill="#f0b488"/><rect x="1139.5" y="1073.91" width="71.9" height="5.87" fill="#fbeaaf"/><rect x="1139.5" y="1079.43" width="71.9" height="5.87" fill="#f7d7a1"/><rect x="1139.5" y="1084.95" width="71.9" height="5.87" fill="#dce5bd"/><rect x="1139.5" y="1090.47" width="71.9" height="5.87" fill="#f8dca5"/><rect x="1139.5" y="1096.00" width="71.9" height="5.87" fill="#f8dca5"/><rect x="1139.5" y="1101.52" width="71.9" height="5.87" fill="#fbe9af"/><rect x="1139.5" y="1107.04" width="71.9" height="5.87" fill="#fafbbf"/><rect x="1139.5" y="1112.57" width="71.9" height="5.87" fill="#fdfebf"/><rect x="1139.5" y="1118.09" width="71.9" height="5.87" fill="#f5cb99"/><rect x="1139.5" y="1123.61" width="71.9" height="5.87" fill="#fbe9af"/><rect x="1139.5" y="1129.14" width="71.9" height="5.87" fill="#f9dea7"/><rect x="1139.5" y="1134.66" width="71.9" height="5.87" fill="#f7d7a2"/><rect x="1139.5" y="1140.18" width="71.9" height="5.87" fill="#f9dea7"/><rect x="1139.5" y="1145.70" width="71.9" height="5.87" fill="#ec9f78"/><rect x="1139.5" y="1151.23" width="71.9" height="5.87" fill="#f8daa4"/><rect x="1139.5" y="1156.75" width="71.9" height="5.87" fill="#ecf1be"/><rect x="1139.5" y="1162.27" width="71.9" height="5.87" fill="#f1b588"/><rect x="1139.5" y="1167.80" width="71.9" height="5.87" fill="#f0af84"/><rect x="1139.5" y="1173.32" width="71.9" height="5.87" fill="#f9e0a8"/><rect x="1139.5" y="1178.84" width="71.9" height="5.87" fill="#f8d9a3"/><rect x="1139.5" y="1184.37" width="71.9" height="5.87" fill="#fbeab0"/><rect x="1139.5" y="1189.89" width="71.9" height="5.87" fill="#f4c695"/><rect x="1139.5" y="1195.41" width="71.9" height="5.87" fill="#f0af84"/><rect x="1139.5" y="1200.93" width="71.9" height="5.87" fill="#fceeb2"/><rect x="1139.5" y="1206.46" width="71.9" height="5.87" fill="#f8dda6"/><rect x="1139.5" y="1211.98" width="71.9" height="5.87" fill="#f5ca98"/><rect x="1139.5" y="1217.50" width="71.9" height="5.87" fill="#f7d8a2"/><rect x="1139.5" y="1223.03" width="71.9" height="5.87" fill="#f1b589"/><rect x="1139.5" y="1228.55" width="71.9" height="5.87" fill="#f4c594"/><rect x="1139.5" y="1234.07" width="71.9" height="5.87" fill="#f1b589"/><rect x="1139.5" y="1239.60" width="71.9" height="5.87" fill="#f0b488"/><rect x="1139.5" y="1245.12" width="71.9" height="5.87" fill="#f5cc99"/><rect x="1139.5" y="1250.64" width="71.9" height="5.87" fill="#fbe8ae"/><rect x="1139.5" y="1256.16" width="71.9" height="5.87" fill="#f0b085"/><rect x="1139.5" y="1261.69" width="71.9" height="5.87" fill="#f5ca98"/><rect x="1139.5" y="1267.21" width="71.9" height="5.87" fill="#f4c594"/><rect x="1139.5" y="1272.73" width="71.9" height="5.87" fill="#f5cc9a"/><rect x="1139.5" y="1278.26" width="71.9" height="5.87" fill="#f5ca98"/><rect x="1139.5" y="1283.78" width="71.9" height="5.87" fill="#f0b085"/><rect x="1139.5" y="1289.30" width="71.9" height="5.87" fill="#eb9974"/><rect x="1139.5" y="1294.83" width="71.9" height="5.87" fill="#fbeaaf"/><rect x="1139.5" y="1300.35" width="71.9" height="5.87" fill="#e78163"/><rect x="1139.5" y="1305.87" width="71.9" height="5.87" fill="#f5cb99"/><rect x="1139.5" y="1311.39" width="71.9" height="5.87" fill="#e1614b"/><rect x="1139.5" y="1316.92" width="71.9" height="5.87" fill="#ed9f79"/><rect x="1139.5" y="1322.44" width="71.9" height="5.87" fill="#eb9873"/><rect x="1139.5" y="1327.96" width="71.9" height="5.87" fill="#f4c796"/><rect x="1139.5" y="1333.49" width="71.9" height="5.87" fill="#e68062"/><rect x="1139.5" y="1339.01" width="71.9" height="5.87" fill="#e1634d"/><rect x="1139.5" y="1344.53" width="71.9" height="5.87" fill="#e78364"/><rect x="1139.5" y="1350.06" width="71.9" height="5.87" fill="#eb9974"/><rect x="1139.5" y="1355.58" width="71.9" height="5.87" fill="#ec9b75"/><rect x="1139.5" y="1361.10" width="71.9" height="5.87" fill="#dee6bd"/><rect x="1139.5" y="1366.62" width="71.9" height="5.87" fill="#ec9c76"/><rect x="1139.5" y="1372.15" width="71.9" height="5.87" fill="#eb9773"/><rect x="1139.5" y="1377.67" width="71.9" height="5.87" fill="#ec9e78"/><rect x="1139.5" y="1383.19" width="71.9" height="5.87" fill="#ec9f78"/><rect x="1139.5" y="1388.72" width="71.9" height="5.87" fill="#e78565"/><rect x="1139.5" y="1394.24" width="71.9" height="5.87" fill="#efae84"/><rect x="1139.5" y="1399.76" width="71.9" height="5.87" fill="#e67f61"/><rect x="1139.5" y="1405.29" width="71.9" height="5.87" fill="#f1b488"/><rect x="1139.5" y="1410.81" width="71.9" height="5.87" fill="#ed9f79"/><rect x="1139.5" y="1416.33" width="71.9" height="5.87" fill="#f0b387"/><rect x="1139.5" y="1421.85" width="71.9" height="5.87" fill="#ec9e77"/><rect x="1139.5" y="1427.38" width="71.9" height="5.87" fill="#dc4b3b"/><rect x="1139.5" y="1432.90" width="71.9" height="5.87" fill="#e88666"/><rect x="1139.5" y="1438.42" width="71.9" height="5.87" fill="#e1614b"/><rect x="1139.5" y="1443.95" width="71.9" height="5.87" fill="#f0b488"/><rect x="1139.5" y="1449.47" width="71.9" height="5.87" fill="#efab81"/><rect x="1139.5" y="1454.99" width="71.9" height="5.87" fill="#e47257"/><rect x="1139.5" y="1460.52" width="71.9" height="5.87" fill="#f1b588"/><rect x="1139.5" y="1466.04" width="71.9" height="5.87" fill="#f4c494"/><rect x="1139.5" y="1471.56" width="71.9" height="5.87" fill="#f1b588"/><rect x="1139.5" y="1477.08" width="71.9" height="5.87" fill="#f5ca98"/><rect x="1139.5" y="1482.61" width="71.9" height="5.87" fill="#f4c494"/><rect x="1139.5" y="1488.13" width="71.9" height="5.87" fill="#f4c695"/><rect x="1139.5" y="1493.65" width="71.9" height="5.87" fill="#f4c796"/><rect x="1139.5" y="1499.18" width="71.9" height="5.87" fill="#f0b186"/><rect x="1139.5" y="1504.70" width="71.9" height="5.87" fill="#ec9f78"/><rect x="1139.5" y="1510.22" width="71.9" height="5.87" fill="#e05e49"/><rect x="1139.5" y="1515.75" width="71.9" height="5.87" fill="#f1b588"/><rect x="1139.5" y="1521.27" width="71.9" height="5.87" fill="#f9dfa7"/><rect x="1139.5" y="1526.79" width="71.9" height="5.87" fill="#ec9d77"/><rect x="1139.5" y="1532.31" width="71.9" height="5.87" fill="#e88867"/><rect x="1139.5" y="1537.84" width="71.9" height="5.87" fill="#f5ca98"/><rect x="1139.5" y="1543.36" width="71.9" height="5.87" fill="#efad83"/><rect x="1139.5" y="1548.88" width="71.9" height="5.87" fill="#eb9a75"/><rect x="1139.5" y="1554.41" width="71.9" height="5.87" fill="#f0b085"/><rect x="1139.5" y="1559.93" width="71.9" height="5.87" fill="#f4c896"/><rect x="1139.5" y="1565.45" width="71.9" height="5.87" fill="#f5ca98"/><rect x="1139.5" y="1570.98" width="71.9" height="5.87" fill="#f1b488"/><rect x="1139.5" y="1576.50" width="71.9" height="5.87" fill="#f4c897"/><rect x="1139.5" y="1582.02" width="71.9" height="5.87" fill="#f0b186"/><rect x="1139.5" y="1587.54" width="71.9" height="5.87" fill="#eff3be"/><rect x="1139.5" y="1593.07" width="71.9" height="5.87" fill="#efac82"/><rect x="1139.5" y="1598.59" width="71.9" height="5.87" fill="#ec9c77"/><rect x="1139.5" y="1604.11" width="71.9" height="5.87" fill="#e47459"/><rect x="1139.5" y="1609.64" width="71.9" height="5.87" fill="#e47257"/><rect x="1139.5" y="1615.16" width="71.9" height="5.87" fill="#ec9c77"/><rect x="1139.5" y="1620.68" width="71.9" height="5.87" fill="#e88666"/><rect x="1139.5" y="1626.21" width="71.9" height="5.87" fill="#e78062"/><rect x="1139.5" y="1631.73" width="71.9" height="5.87" fill="#e67f61"/><rect x="1139.5" y="1637.25" width="71.9" height="5.87" fill="#efad83"/><rect x="1139.5" y="1642.77" width="71.9" height="5.87" fill="#eb9974"/><rect x="1139.5" y="1648.30" width="71.9" height="5.87" fill="#eb9873"/><rect x="1139.5" y="1653.82" width="71.9" height="5.87" fill="#e78162"/><rect x="1139.5" y="1659.34" width="71.9" height="5.87" fill="#e47358"/><rect x="1139.5" y="1664.87" width="71.9" height="5.87" fill="#e4755a"/><rect x="1139.5" y="1670.39" width="71.9" height="5.87" fill="#f0b287"/><rect x="1139.5" y="1675.91" width="71.9" height="5.87" fill="#ec9a75"/><rect x="1139.5" y="1681.44" width="71.9" height="5.87" fill="#e1644d"/><rect x="1139.5" y="1686.96" width="71.9" height="5.87" fill="#ec9d77"/><rect x="1139.5" y="1692.48" width="71.9" height="5.87" fill="#f4c695"/><rect x="1139.5" y="1698.00" width="71.9" height="5.87" fill="#efae84"/><rect x="1139.5" y="1703.53" width="71.9" height="5.87" fill="#ec9a75"/><rect x="1139.5" y="1709.05" width="71.9" height="5.87" fill="#ec9e78"/><rect x="1139.5" y="1714.57" width="71.9" height="5.87" fill="#e78464"/><rect x="1139.5" y="1720.10" width="71.9" height="5.87" fill="#ec9c76"/><rect x="1139.5" y="1725.62" width="71.9" height="5.87" fill="#f0af84"/><rect x="1139.5" y="1731.14" width="71.9" height="5.87" fill="#fcedb2"/></g>
<rect x="1140.52" y="825.37" width="69.85" height="912.83" rx="34.93" ry="34.93" fill="none" stroke="#808080" stroke-width="2.85"/>
<polyline fill="none" stroke="#879ecd" stroke-width="3.0" stroke-linejoin="miter" points="1277.0,828.1 1279.8,833.7 1283.8,839.2 1281.4,844.7 1277.1,850.2 1271.9,855.7 1289.8,861.3 1282.4,866.8 1293.4,872.3 1276.9,877.8 1268.9,883.4 1224.1,888.9 1246.2,894.4 1256.5,899.9 1267.9,905.5 1275.5,911.0 1275.5,916.5 1283.6,922.0 1275.7,927.5 1275.9,933.1 1276.1,938.6 1275.4,944.1 1262.2,949.6 1267.9,955.2 1273.0,960.7 1276.0,966.2 1286.4,971.7 1269.2,977.3 1276.3,982.8 1276.9,988.3 1268.5,993.8 1271.8,999.3 1280.4,1004.9 1283.0,1010.4 1273.2,1015.9 1262.4,1021.4 1265.5,1027.0 1272.7,1032.5 1262.2,1038.0 1273.3,1043.5 1262.0,1049.1 1256.8,1054.6 1272.0,1060.1 1271.7,1065.6 1272.1,1071.1 1263.1,1076.7 1266.0,1082.2 1253.2,1087.7 1265.2,1093.2 1265.2,1098.8 1263.1,1104.3 1258.9,1109.8 1259.4,1115.3 1268.0,1120.9 1263.2,1126.4 1264.8,1131.9 1265.9,1137.4 1264.8,1142.9 1275.7,1148.5 1265.5,1154.0 1256.2,1159.5 1271.9,1165.0 1272.9,1170.6 1264.5,1176.1 1265.7,1181.6 1263.0,1187.1 1268.8,1192.6 1272.9,1198.2 1262.4,1203.7 1265.0,1209.2 1268.1,1214.7 1265.8,1220.3 1271.9,1225.8 1269.0,1231.3 1271.8,1236.8 1272.1,1242.4 1267.9,1247.9 1263.3,1253.4 1272.6,1258.9 1268.1,1264.4 1269.0,1270.0 1267.8,1275.5 1268.2,1281.0 1272.7,1286.5 1276.7,1292.1 1263.1,1297.6 1280.9,1303.1 1268.0,1308.6 1286.4,1314.2 1275.6,1319.7 1276.9,1325.2 1268.6,1330.7 1281.0,1336.2 1286.1,1341.8 1280.5,1347.3 1276.8,1352.8 1276.4,1358.3 1253.4,1363.9 1276.2,1369.4 1277.0,1374.9 1275.8,1380.4 1275.7,1386.0 1280.2,1391.5 1273.0,1397.0 1281.2,1402.5 1272.0,1408.0 1275.6,1413.6 1272.2,1419.1 1275.9,1424.6 1290.4,1430.1 1279.9,1435.7 1286.4,1441.2 1272.1,1446.7 1273.5,1452.2 1283.5,1457.8 1271.9,1463.3 1269.2,1468.8 1271.9,1474.3 1268.1,1479.8 1269.2,1485.4 1268.9,1490.9 1268.7,1496.4 1272.5,1501.9 1275.7,1507.5 1287.0,1513.0 1271.9,1518.5 1264.7,1524.0 1276.0,1529.6 1279.7,1535.1 1268.1,1540.6 1273.2,1546.1 1276.6,1551.6 1272.6,1557.2 1268.6,1562.7 1268.2,1568.2 1272.0,1573.7 1268.5,1579.3 1272.5,1584.8 1256.7,1590.3 1273.4,1595.8 1276.1,1601.4 1283.3,1606.9 1283.6,1612.4 1276.1,1617.9 1280.1,1623.4 1281.0,1629.0 1281.3,1634.5 1273.2,1640.0 1276.6,1645.5 1276.9,1651.1 1280.9,1656.6 1283.4,1662.1 1283.0,1667.6 1272.3,1673.2 1276.5,1678.7 1286.0,1684.2 1276.1,1689.7 1268.8,1695.2 1273.0,1700.8 1276.5,1706.3 1275.8,1711.8 1280.4,1717.3 1276.2,1722.9 1272.9,1728.4 1230.3,1737.0"/>
<text x="1186.6" y="1783.6" font-size="26.9" text-anchor="middle" textLength="167.8" lengthAdjust="spacingAndGlyphs">NC_024464.2</text>
<g clip-path="url(#c6)"><rect x="1323.12" y="781.57" width="69.85" height="956.63" fill="#f0b085"/><rect x="1322.1" y="781.57" width="71.9" height="5.87" fill="#fbeab0"/><rect x="1322.1" y="787.10" width="71.9" height="5.87" fill="#efac82"/><rect x="1322.1" y="792.62" width="71.9" height="5.87" fill="#f0b488"/><rect x="1322.1" y="798.14" width="71.9" height="5.87" fill="#eb9a75"/><rect x="1322.1" y="803.66" width="71.9" height="5.87" fill="#efad83"/><rect x="1322.1" y="809.19" width="71.9" height="5.87" fill="#e78465"/><rect x="1322.1" y="814.71" width="71.9" height="5.87" fill="#e47459"/><rect x="1322.1" y="820.23" width="71.9" height="5.87" fill="#efab81"/><rect x="1322.1" y="825.76" width="71.9" height="5.87" fill="#e88867"/><rect x="1322.1" y="831.28" width="71.9" height="5.87" fill="#fbecb1"/><rect x="1322.1" y="836.80" width="71.9" height="5.87" fill="#f1b488"/><rect x="1322.1" y="842.33" width="71.9" height="5.87" fill="#eb9974"/><rect x="1322.1" y="847.85" width="71.9" height="5.87" fill="#f7d7a2"/><rect x="1322.1" y="853.37" width="71.9" height="5.87" fill="#ec9b76"/><rect x="1322.1" y="858.89" width="71.9" height="5.87" fill="#f1b588"/><rect x="1322.1" y="864.42" width="71.9" height="5.87" fill="#f0b085"/><rect x="1322.1" y="869.94" width="71.9" height="5.87" fill="#fbecb1"/><rect x="1322.1" y="875.46" width="71.9" height="5.87" fill="#f4c796"/><rect x="1322.1" y="880.99" width="71.9" height="5.87" fill="#ec9c76"/><rect x="1322.1" y="886.51" width="71.9" height="5.87" fill="#ec9a75"/><rect x="1322.1" y="892.03" width="71.9" height="5.87" fill="#efad83"/><rect x="1322.1" y="897.56" width="71.9" height="5.87" fill="#ec9b76"/><rect x="1322.1" y="903.08" width="71.9" height="5.87" fill="#f0b186"/><rect x="1322.1" y="908.60" width="71.9" height="5.87" fill="#df5b46"/><rect x="1322.1" y="914.12" width="71.9" height="5.87" fill="#ec9f78"/><rect x="1322.1" y="919.65" width="71.9" height="5.87" fill="#f4c796"/><rect x="1322.1" y="925.17" width="71.9" height="5.87" fill="#f0b186"/><rect x="1322.1" y="930.69" width="71.9" height="5.87" fill="#efae83"/><rect x="1322.1" y="936.22" width="71.9" height="5.87" fill="#f1b488"/><rect x="1322.1" y="941.74" width="71.9" height="5.87" fill="#efab81"/><rect x="1322.1" y="947.26" width="71.9" height="5.87" fill="#ec9d77"/><rect x="1322.1" y="952.79" width="71.9" height="5.87" fill="#eda07a"/><rect x="1322.1" y="958.31" width="71.9" height="5.87" fill="#f0b387"/><rect x="1322.1" y="963.83" width="71.9" height="5.87" fill="#f5ca98"/><rect x="1322.1" y="969.35" width="71.9" height="5.87" fill="#f6ce9b"/><rect x="1322.1" y="974.88" width="71.9" height="5.87" fill="#fcfdbf"/><rect x="1322.1" y="980.40" width="71.9" height="5.87" fill="#f5ca98"/><rect x="1322.1" y="985.92" width="71.9" height="5.87" fill="#f8daa4"/><rect x="1322.1" y="991.45" width="71.9" height="5.87" fill="#fceeb2"/><rect x="1322.1" y="996.97" width="71.9" height="5.87" fill="#f9dea7"/><rect x="1322.1" y="1002.49" width="71.9" height="5.87" fill="#f0b387"/><rect x="1322.1" y="1008.02" width="71.9" height="5.87" fill="#efae83"/><rect x="1322.1" y="1013.54" width="71.9" height="5.87" fill="#fae8ae"/><rect x="1322.1" y="1019.06" width="71.9" height="5.87" fill="#f5c997"/><rect x="1322.1" y="1024.58" width="71.9" height="5.87" fill="#f5cc9a"/><rect x="1322.1" y="1030.11" width="71.9" height="5.87" fill="#efad83"/><rect x="1322.1" y="1035.63" width="71.9" height="5.87" fill="#f8dda6"/><rect x="1322.1" y="1041.15" width="71.9" height="5.87" fill="#fcefb4"/><rect x="1322.1" y="1046.68" width="71.9" height="5.87" fill="#f5cd9a"/><rect x="1322.1" y="1052.20" width="71.9" height="5.87" fill="#eb9974"/><rect x="1322.1" y="1057.72" width="71.9" height="5.87" fill="#f8d8a3"/><rect x="1322.1" y="1063.25" width="71.9" height="5.87" fill="#f8daa4"/><rect x="1322.1" y="1068.77" width="71.9" height="5.87" fill="#f8dca5"/><rect x="1322.1" y="1074.29" width="71.9" height="5.87" fill="#d7e1bd"/><rect x="1322.1" y="1079.81" width="71.9" height="5.87" fill="#eaefbe"/><rect x="1322.1" y="1085.34" width="71.9" height="5.87" fill="#f1f5be"/><rect x="1322.1" y="1090.86" width="71.9" height="5.87" fill="#e0e8bd"/><rect x="1322.1" y="1096.38" width="71.9" height="5.87" fill="#eef2be"/><rect x="1322.1" y="1101.91" width="71.9" height="5.87" fill="#eff3be"/><rect x="1322.1" y="1107.43" width="71.9" height="5.87" fill="#eff3be"/><rect x="1322.1" y="1112.95" width="71.9" height="5.87" fill="#f5ca98"/><rect x="1322.1" y="1118.48" width="71.9" height="5.87" fill="#eaf0be"/><rect x="1322.1" y="1124.00" width="71.9" height="5.87" fill="#f4c997"/><rect x="1322.1" y="1129.52" width="71.9" height="5.87" fill="#d2debc"/><rect x="1322.1" y="1135.04" width="71.9" height="5.87" fill="#f4c695"/><rect x="1322.1" y="1140.57" width="71.9" height="5.87" fill="#f9dda6"/><rect x="1322.1" y="1146.09" width="71.9" height="5.87" fill="#efad82"/><rect x="1322.1" y="1151.61" width="71.9" height="5.87" fill="#fcefb3"/><rect x="1322.1" y="1157.14" width="71.9" height="5.87" fill="#fcfdbf"/><rect x="1322.1" y="1162.66" width="71.9" height="5.87" fill="#fbfcbf"/><rect x="1322.1" y="1168.18" width="71.9" height="5.87" fill="#fcedb2"/><rect x="1322.1" y="1173.71" width="71.9" height="5.87" fill="#fcf0b4"/><rect x="1322.1" y="1179.23" width="71.9" height="5.87" fill="#f1b689"/><rect x="1322.1" y="1184.75" width="71.9" height="5.87" fill="#f4c796"/><rect x="1322.1" y="1190.27" width="71.9" height="5.87" fill="#eaf0be"/><rect x="1322.1" y="1195.80" width="71.9" height="5.87" fill="#f9dfa7"/><rect x="1322.1" y="1201.32" width="71.9" height="5.87" fill="#f5cb99"/><rect x="1322.1" y="1206.84" width="71.9" height="5.87" fill="#ecf1be"/><rect x="1322.1" y="1212.37" width="71.9" height="5.87" fill="#fcfdbf"/><rect x="1322.1" y="1217.89" width="71.9" height="5.87" fill="#f4c896"/><rect x="1322.1" y="1223.41" width="71.9" height="5.87" fill="#d8e2bd"/><rect x="1322.1" y="1228.94" width="71.9" height="5.87" fill="#fceeb2"/><rect x="1322.1" y="1234.46" width="71.9" height="5.87" fill="#efac82"/><rect x="1322.1" y="1239.98" width="71.9" height="5.87" fill="#fbe9af"/><rect x="1322.1" y="1245.50" width="71.9" height="5.87" fill="#fcf1b5"/><rect x="1322.1" y="1251.03" width="71.9" height="5.87" fill="#f4c695"/><rect x="1322.1" y="1256.55" width="71.9" height="5.87" fill="#fbe8ae"/><rect x="1322.1" y="1262.07" width="71.9" height="5.87" fill="#eb9974"/><rect x="1322.1" y="1267.60" width="71.9" height="5.87" fill="#e9efbe"/><rect x="1322.1" y="1273.12" width="71.9" height="5.87" fill="#efad83"/><rect x="1322.1" y="1278.64" width="71.9" height="5.87" fill="#f0af84"/><rect x="1322.1" y="1284.17" width="71.9" height="5.87" fill="#f6ce9b"/><rect x="1322.1" y="1289.69" width="71.9" height="5.87" fill="#dde5bd"/><rect x="1322.1" y="1295.21" width="71.9" height="5.87" fill="#f4c494"/><rect x="1322.1" y="1300.73" width="71.9" height="5.87" fill="#ffffbf"/><rect x="1322.1" y="1306.26" width="71.9" height="5.87" fill="#f9dfa7"/><rect x="1322.1" y="1311.78" width="71.9" height="5.87" fill="#f5cd9b"/><rect x="1322.1" y="1317.30" width="71.9" height="5.87" fill="#f5cd9a"/><rect x="1322.1" y="1322.83" width="71.9" height="5.87" fill="#e88666"/><rect x="1322.1" y="1328.35" width="71.9" height="5.87" fill="#efad83"/><rect x="1322.1" y="1333.87" width="71.9" height="5.87" fill="#f0b286"/><rect x="1322.1" y="1339.40" width="71.9" height="5.87" fill="#f5cd9a"/><rect x="1322.1" y="1344.92" width="71.9" height="5.87" fill="#f4c594"/><rect x="1322.1" y="1350.44" width="71.9" height="5.87" fill="#f4c695"/><rect x="1322.1" y="1355.96" width="71.9" height="5.87" fill="#f5cd9a"/><rect x="1322.1" y="1361.49" width="71.9" height="5.87" fill="#eb9773"/><rect x="1322.1" y="1367.01" width="71.9" height="5.87" fill="#e47358"/><rect x="1322.1" y="1372.53" width="71.9" height="5.87" fill="#e68062"/><rect x="1322.1" y="1378.06" width="71.9" height="5.87" fill="#efaf84"/><rect x="1322.1" y="1383.58" width="71.9" height="5.87" fill="#efac82"/><rect x="1322.1" y="1389.10" width="71.9" height="5.87" fill="#f4c695"/><rect x="1322.1" y="1394.63" width="71.9" height="5.87" fill="#f4c695"/><rect x="1322.1" y="1400.15" width="71.9" height="5.87" fill="#f5cc9a"/><rect x="1322.1" y="1405.67" width="71.9" height="5.87" fill="#efae84"/><rect x="1322.1" y="1411.19" width="71.9" height="5.87" fill="#fdfebf"/><rect x="1322.1" y="1416.72" width="71.9" height="5.87" fill="#efae83"/><rect x="1322.1" y="1422.24" width="71.9" height="5.87" fill="#f0b186"/><rect x="1322.1" y="1427.76" width="71.9" height="5.87" fill="#eb9873"/><rect x="1322.1" y="1433.29" width="71.9" height="5.87" fill="#e47459"/><rect x="1322.1" y="1438.81" width="71.9" height="5.87" fill="#e1624c"/><rect x="1322.1" y="1444.33" width="71.9" height="5.87" fill="#f5cc9a"/><rect x="1322.1" y="1449.86" width="71.9" height="5.87" fill="#e88767"/><rect x="1322.1" y="1455.38" width="71.9" height="5.87" fill="#e47459"/><rect x="1322.1" y="1460.90" width="71.9" height="5.87" fill="#f6ce9b"/><rect x="1322.1" y="1466.42" width="71.9" height="5.87" fill="#e78364"/><rect x="1322.1" y="1471.95" width="71.9" height="5.87" fill="#e88767"/><rect x="1322.1" y="1477.47" width="71.9" height="5.87" fill="#ec9c76"/><rect x="1322.1" y="1482.99" width="71.9" height="5.87" fill="#ec9c76"/><rect x="1322.1" y="1488.52" width="71.9" height="5.87" fill="#f0b085"/><rect x="1322.1" y="1494.04" width="71.9" height="5.87" fill="#efac82"/><rect x="1322.1" y="1499.56" width="71.9" height="5.87" fill="#eda17a"/><rect x="1322.1" y="1505.09" width="71.9" height="5.87" fill="#eb9873"/><rect x="1322.1" y="1510.61" width="71.9" height="5.87" fill="#f5ca98"/><rect x="1322.1" y="1516.13" width="71.9" height="5.87" fill="#ec9b76"/><rect x="1322.1" y="1521.65" width="71.9" height="5.87" fill="#f4c796"/><rect x="1322.1" y="1527.18" width="71.9" height="5.87" fill="#eb9873"/><rect x="1322.1" y="1532.70" width="71.9" height="5.87" fill="#ec9d77"/><rect x="1322.1" y="1538.22" width="71.9" height="5.87" fill="#dc4c3b"/><rect x="1322.1" y="1543.75" width="71.9" height="5.87" fill="#eb9772"/><rect x="1322.1" y="1549.27" width="71.9" height="5.87" fill="#eda079"/><rect x="1322.1" y="1554.79" width="71.9" height="5.87" fill="#ec9a75"/><rect x="1322.1" y="1560.32" width="71.9" height="5.87" fill="#ec9a75"/><rect x="1322.1" y="1565.84" width="71.9" height="5.87" fill="#e88868"/><rect x="1322.1" y="1571.36" width="71.9" height="5.87" fill="#ec9a75"/><rect x="1322.1" y="1576.88" width="71.9" height="5.87" fill="#efae84"/><rect x="1322.1" y="1582.41" width="71.9" height="5.87" fill="#e67e60"/><rect x="1322.1" y="1587.93" width="71.9" height="5.87" fill="#e78565"/><rect x="1322.1" y="1593.45" width="71.9" height="5.87" fill="#f4c494"/><rect x="1322.1" y="1598.98" width="71.9" height="5.87" fill="#f0b085"/><rect x="1322.1" y="1604.50" width="71.9" height="5.87" fill="#f0b185"/><rect x="1322.1" y="1610.02" width="71.9" height="5.87" fill="#efac82"/><rect x="1322.1" y="1615.55" width="71.9" height="5.87" fill="#eda17a"/><rect x="1322.1" y="1621.07" width="71.9" height="5.87" fill="#e05d48"/><rect x="1322.1" y="1626.59" width="71.9" height="5.87" fill="#f0af84"/><rect x="1322.1" y="1632.11" width="71.9" height="5.87" fill="#ec9d77"/><rect x="1322.1" y="1637.64" width="71.9" height="5.87" fill="#e67f61"/><rect x="1322.1" y="1643.16" width="71.9" height="5.87" fill="#ec9d77"/><rect x="1322.1" y="1648.68" width="71.9" height="5.87" fill="#ec9c76"/><rect x="1322.1" y="1654.21" width="71.9" height="5.87" fill="#e78364"/><rect x="1322.1" y="1659.73" width="71.9" height="5.87" fill="#eb9974"/><rect x="1322.1" y="1665.25" width="71.9" height="5.87" fill="#e1634c"/><rect x="1322.1" y="1670.78" width="71.9" height="5.87" fill="#ec9c77"/><rect x="1322.1" y="1676.30" width="71.9" height="5.87" fill="#f0b186"/><rect x="1322.1" y="1681.82" width="71.9" height="5.87" fill="#e78263"/><rect x="1322.1" y="1687.34" width="71.9" height="5.87" fill="#f4c695"/><rect x="1322.1" y="1692.87" width="71.9" height="5.87" fill="#ec9e78"/><rect x="1322.1" y="1698.39" width="71.9" height="5.87" fill="#eb9873"/><rect x="1322.1" y="1703.91" width="71.9" height="5.87" fill="#ec9d77"/><rect x="1322.1" y="1709.44" width="71.9" height="5.87" fill="#f5c997"/><rect x="1322.1" y="1714.96" width="71.9" height="5.87" fill="#f5cc99"/><rect x="1322.1" y="1720.48" width="71.9" height="5.87" fill="#ec9c76"/><rect x="1322.1" y="1726.01" width="71.9" height="5.87" fill="#eb9772"/><rect x="1322.1" y="1731.53" width="71.9" height="5.87" fill="#eb9a75"/><rect x="1322.1" y="1737.05" width="71.9" height="3.50" fill="#eb9874"/></g>
<rect x="1323.12" y="781.57" width="69.85" height="956.63" rx="34.93" ry="34.93" fill="none" stroke="#808080" stroke-width="2.85"/>
<polyline fill="none" stroke="#879ecd" stroke-width="3.0" stroke-linejoin="miter" points="1445.5,784.3 1456.1,789.9 1454.6,795.4 1459.1,800.9 1455.8,806.4 1463.0,811.9 1465.7,817.5 1456.1,823.0 1462.3,828.5 1445.3,834.0 1454.6,839.6 1459.4,845.1 1448.5,850.6 1458.9,856.1 1454.5,861.7 1455.4,867.2 1445.3,872.7 1451.3,878.2 1458.9,883.7 1459.1,889.3 1455.9,894.8 1458.9,900.3 1455.1,905.8 1470.2,911.4 1458.3,916.9 1451.3,922.4 1455.0,927.9 1455.7,933.5 1454.5,939.0 1456.2,944.5 1458.6,950.0 1458.0,955.5 1454.8,961.1 1450.7,966.6 1450.0,972.1 1441.9,977.6 1450.8,983.2 1448.1,988.7 1445.0,994.2 1447.4,999.7 1454.7,1005.3 1455.7,1010.8 1446.0,1016.3 1451.0,1021.8 1450.4,1027.3 1455.8,1032.9 1447.6,1038.4 1444.8,1043.9 1450.2,1049.4 1459.4,1055.0 1448.3,1060.5 1448.0,1066.0 1447.7,1071.5 1434.7,1077.1 1438.3,1082.6 1439.7,1088.1 1436.4,1093.6 1439.1,1099.1 1439.4,1104.7 1439.4,1110.2 1450.9,1115.7 1438.5,1121.2 1451.0,1126.8 1433.9,1132.3 1451.5,1137.8 1447.6,1143.3 1455.9,1148.9 1444.9,1154.4 1441.8,1159.9 1441.6,1165.4 1445.1,1170.9 1444.7,1176.5 1454.3,1182.0 1451.3,1187.5 1438.4,1193.0 1447.4,1198.6 1450.5,1204.1 1438.8,1209.6 1441.9,1215.1 1451.2,1220.7 1434.9,1226.2 1445.0,1231.7 1456.0,1237.2 1445.8,1242.7 1444.5,1248.3 1451.5,1253.8 1445.9,1259.3 1459.4,1264.8 1438.2,1270.4 1455.9,1275.9 1455.5,1281.4 1450.0,1286.9 1435.8,1292.4 1451.8,1298.0 1442.3,1303.5 1447.4,1309.0 1450.2,1314.5 1450.2,1320.1 1462.7,1325.6 1455.8,1331.1 1455.0,1336.6 1450.3,1342.2 1451.7,1347.7 1451.5,1353.2 1450.3,1358.7 1459.6,1364.2 1465.9,1369.8 1463.7,1375.3 1455.6,1380.8 1456.0,1386.3 1451.5,1391.9 1451.5,1397.4 1450.3,1402.9 1455.6,1408.4 1442.1,1414.0 1455.7,1419.5 1455.1,1425.0 1459.6,1430.5 1465.8,1436.0 1468.9,1441.6 1450.4,1447.1 1462.5,1452.6 1465.7,1458.1 1450.1,1463.7 1463.1,1469.2 1462.5,1474.7 1458.8,1480.2 1458.8,1485.8 1455.3,1491.3 1455.9,1496.8 1457.9,1502.3 1459.5,1507.8 1450.9,1513.4 1459.0,1518.9 1451.2,1524.4 1459.5,1529.9 1458.6,1535.5 1472.8,1541.0 1459.7,1546.5 1458.1,1552.0 1459.1,1557.6 1459.1,1563.1 1462.3,1568.6 1459.1,1574.1 1455.6,1579.6 1464.0,1585.2 1462.9,1590.7 1451.8,1596.2 1455.3,1601.7 1455.2,1607.3 1456.0,1612.8 1458.0,1618.3 1469.7,1623.8 1455.5,1629.4 1458.6,1634.9 1463.9,1640.4 1458.6,1645.9 1458.8,1651.4 1463.2,1657.0 1459.4,1662.5 1468.8,1668.0 1458.7,1673.5 1455.1,1679.1 1463.3,1684.6 1451.5,1690.1 1458.5,1695.6 1459.5,1701.2 1458.7,1706.7 1450.9,1712.2 1450.5,1717.7 1458.9,1723.2 1459.7,1728.8 1459.1,1734.3 1414.1,1737.0"/>
<text x="1369.2" y="1783.6" font-size="26.9" text-anchor="middle" textLength="167.8" lengthAdjust="spacingAndGlyphs">NC_024465.2</text>
<g clip-path="url(#c7)"><rect x="1505.72" y="788.18" width="69.85" height="950.02" fill="#f0b085"/><rect x="1504.7" y="788.18" width="71.9" height="5.87" fill="#f5cb99"/><rect x="1504.7" y="793.70" width="71.9" height="5.87" fill="#ec9e77"/><rect x="1504.7" y="799.23" width="71.9" height="5.87" fill="#ec9e78"/><rect x="1504.7" y="804.75" width="71.9" height="5.87" fill="#f8dba4"/><rect x="1504.7" y="810.27" width="71.9" height="5.87" fill="#ec9a75"/><rect x="1504.7" y="815.80" width="71.9" height="5.87" fill="#efad83"/><rect x="1504.7" y="821.32" width="71.9" height="5.87" fill="#e88867"/><rect x="1504.7" y="826.84" width="71.9" height="5.87" fill="#f4c796"/><rect x="1504.7" y="832.37" width="71.9" height="5.87" fill="#efac82"/><rect x="1504.7" y="837.89" width="71.9" height="5.87" fill="#f0b085"/><rect x="1504.7" y="843.41" width="71.9" height="5.87" fill="#e88867"/><rect x="1504.7" y="848.93" width="71.9" height="5.87" fill="#ec9e78"/><rect x="1504.7" y="854.46" width="71.9" height="5.87" fill="#f1b689"/><rect x="1504.7" y="859.98" width="71.9" height="5.87" fill="#f5cd9a"/><rect x="1504.7" y="865.50" width="71.9" height="5.87" fill="#e37056"/><rect x="1504.7" y="871.03" width="71.9" height="5.87" fill="#e78263"/><rect x="1504.7" y="876.55" width="71.9" height="5.87" fill="#e47358"/><rect x="1504.7" y="882.07" width="71.9" height="5.87" fill="#f8d9a3"/><rect x="1504.7" y="887.60" width="71.9" height="5.87" fill="#efac82"/><rect x="1504.7" y="893.12" width="71.9" height="5.87" fill="#f0af84"/><rect x="1504.7" y="898.64" width="71.9" height="5.87" fill="#ec9a75"/><rect x="1504.7" y="904.16" width="71.9" height="5.87" fill="#e78163"/><rect x="1504.7" y="909.69" width="71.9" height="5.87" fill="#f4c796"/><rect x="1504.7" y="915.21" width="71.9" height="5.87" fill="#e47358"/><rect x="1504.7" y="920.73" width="71.9" height="5.87" fill="#eb9a75"/><rect x="1504.7" y="926.26" width="71.9" height="5.87" fill="#ec9f78"/><rect x="1504.7" y="931.78" width="71.9" height="5.87" fill="#e78162"/><rect x="1504.7" y="937.30" width="71.9" height="5.87" fill="#f5ca98"/><rect x="1504.7" y="942.83" width="71.9" height="5.87" fill="#fffebe"/><rect x="1504.7" y="948.35" width="71.9" height="5.87" fill="#f9fbbf"/><rect x="1504.7" y="953.87" width="71.9" height="5.87" fill="#94afb9"/><rect x="1504.7" y="959.39" width="71.9" height="5.87" fill="#f6ce9b"/><rect x="1504.7" y="964.92" width="71.9" height="5.87" fill="#f4c695"/><rect x="1504.7" y="970.44" width="71.9" height="5.87" fill="#f4c594"/><rect x="1504.7" y="975.96" width="71.9" height="5.87" fill="#efaf84"/><rect x="1504.7" y="981.49" width="71.9" height="5.87" fill="#f8dda6"/><rect x="1504.7" y="987.01" width="71.9" height="5.87" fill="#f8d8a3"/><rect x="1504.7" y="992.53" width="71.9" height="5.87" fill="#e68062"/><rect x="1504.7" y="998.06" width="71.9" height="5.87" fill="#f0b085"/><rect x="1504.7" y="1003.58" width="71.9" height="5.87" fill="#f0b387"/><rect x="1504.7" y="1009.10" width="71.9" height="5.87" fill="#e78565"/><rect x="1504.7" y="1014.62" width="71.9" height="5.87" fill="#fcedb2"/><rect x="1504.7" y="1020.15" width="71.9" height="5.87" fill="#dfe8bd"/><rect x="1504.7" y="1025.67" width="71.9" height="5.87" fill="#fcedb2"/><rect x="1504.7" y="1031.19" width="71.9" height="5.87" fill="#ffffbf"/><rect x="1504.7" y="1036.72" width="71.9" height="5.87" fill="#fefcbd"/><rect x="1504.7" y="1042.24" width="71.9" height="5.87" fill="#f9fabf"/><rect x="1504.7" y="1047.76" width="71.9" height="5.87" fill="#e2e9bd"/><rect x="1504.7" y="1053.29" width="71.9" height="5.87" fill="#b0c4ba"/><rect x="1504.7" y="1058.81" width="71.9" height="5.87" fill="#c2d1bb"/><rect x="1504.7" y="1064.33" width="71.9" height="5.87" fill="#f4c695"/><rect x="1504.7" y="1069.85" width="71.9" height="5.87" fill="#f4c897"/><rect x="1504.7" y="1075.38" width="71.9" height="5.87" fill="#fbe8ae"/><rect x="1504.7" y="1080.90" width="71.9" height="5.87" fill="#ecf1be"/><rect x="1504.7" y="1086.42" width="71.9" height="5.87" fill="#fcf2b5"/><rect x="1504.7" y="1091.95" width="71.9" height="5.87" fill="#f8dda6"/><rect x="1504.7" y="1097.47" width="71.9" height="5.87" fill="#fbebb1"/><rect x="1504.7" y="1102.99" width="71.9" height="5.87" fill="#f1f4be"/><rect x="1504.7" y="1108.52" width="71.9" height="5.87" fill="#f4c494"/><rect x="1504.7" y="1114.04" width="71.9" height="5.87" fill="#fbedb2"/><rect x="1504.7" y="1119.56" width="71.9" height="5.87" fill="#ec9d77"/><rect x="1504.7" y="1125.08" width="71.9" height="5.87" fill="#f1b588"/><rect x="1504.7" y="1130.61" width="71.9" height="5.87" fill="#eb9a75"/><rect x="1504.7" y="1136.13" width="71.9" height="5.87" fill="#f0b388"/><rect x="1504.7" y="1141.65" width="71.9" height="5.87" fill="#ed9f79"/><rect x="1504.7" y="1147.18" width="71.9" height="5.87" fill="#f9e1a9"/><rect x="1504.7" y="1152.70" width="71.9" height="5.87" fill="#f6cf9b"/><rect x="1504.7" y="1158.22" width="71.9" height="5.87" fill="#f4c796"/><rect x="1504.7" y="1163.75" width="71.9" height="5.87" fill="#f5cd9a"/><rect x="1504.7" y="1169.27" width="71.9" height="5.87" fill="#f4c494"/><rect x="1504.7" y="1174.79" width="71.9" height="5.87" fill="#eda079"/><rect x="1504.7" y="1180.31" width="71.9" height="5.87" fill="#efac82"/><rect x="1504.7" y="1185.84" width="71.9" height="5.87" fill="#f5cd9a"/><rect x="1504.7" y="1191.36" width="71.9" height="5.87" fill="#eda17a"/><rect x="1504.7" y="1196.88" width="71.9" height="5.87" fill="#efae84"/><rect x="1504.7" y="1202.41" width="71.9" height="5.87" fill="#f5cc9a"/><rect x="1504.7" y="1207.93" width="71.9" height="5.87" fill="#eb9974"/><rect x="1504.7" y="1213.45" width="71.9" height="5.87" fill="#f0b488"/><rect x="1504.7" y="1218.98" width="71.9" height="5.87" fill="#f9fabf"/><rect x="1504.7" y="1224.50" width="71.9" height="5.87" fill="#fffebe"/><rect x="1504.7" y="1230.02" width="71.9" height="5.87" fill="#f8daa3"/><rect x="1504.7" y="1235.54" width="71.9" height="5.87" fill="#f4c595"/><rect x="1504.7" y="1241.07" width="71.9" height="5.87" fill="#efae83"/><rect x="1504.7" y="1246.59" width="71.9" height="5.87" fill="#fcf1b5"/><rect x="1504.7" y="1252.11" width="71.9" height="5.87" fill="#f0af84"/><rect x="1504.7" y="1257.64" width="71.9" height="5.87" fill="#f4c796"/><rect x="1504.7" y="1263.16" width="71.9" height="5.87" fill="#fbedb2"/><rect x="1504.7" y="1268.68" width="71.9" height="5.87" fill="#e67e60"/><rect x="1504.7" y="1274.21" width="71.9" height="5.87" fill="#e88566"/><rect x="1504.7" y="1279.73" width="71.9" height="5.87" fill="#f4c494"/><rect x="1504.7" y="1285.25" width="71.9" height="5.87" fill="#f4c796"/><rect x="1504.7" y="1290.77" width="71.9" height="5.87" fill="#f1b689"/><rect x="1504.7" y="1296.30" width="71.9" height="5.87" fill="#f1b689"/><rect x="1504.7" y="1301.82" width="71.9" height="5.87" fill="#efaf84"/><rect x="1504.7" y="1307.34" width="71.9" height="5.87" fill="#e05c47"/><rect x="1504.7" y="1312.87" width="71.9" height="5.87" fill="#eda079"/><rect x="1504.7" y="1318.39" width="71.9" height="5.87" fill="#e78565"/><rect x="1504.7" y="1323.91" width="71.9" height="5.87" fill="#eb9974"/><rect x="1504.7" y="1329.44" width="71.9" height="5.87" fill="#ec9f79"/><rect x="1504.7" y="1334.96" width="71.9" height="5.87" fill="#eb9873"/><rect x="1504.7" y="1340.48" width="71.9" height="5.87" fill="#f0b085"/><rect x="1504.7" y="1346.00" width="71.9" height="5.87" fill="#e1644d"/><rect x="1504.7" y="1351.53" width="71.9" height="5.87" fill="#ec9d77"/><rect x="1504.7" y="1357.05" width="71.9" height="5.87" fill="#e78263"/><rect x="1504.7" y="1362.57" width="71.9" height="5.87" fill="#ec9c77"/><rect x="1504.7" y="1368.10" width="71.9" height="5.87" fill="#eb9a75"/><rect x="1504.7" y="1373.62" width="71.9" height="5.87" fill="#e1634d"/><rect x="1504.7" y="1379.14" width="71.9" height="5.87" fill="#e68061"/><rect x="1504.7" y="1384.67" width="71.9" height="5.87" fill="#e0614b"/><rect x="1504.7" y="1390.19" width="71.9" height="5.87" fill="#eb9a75"/><rect x="1504.7" y="1395.71" width="71.9" height="5.87" fill="#f4c896"/><rect x="1504.7" y="1401.23" width="71.9" height="5.87" fill="#f5ca98"/><rect x="1504.7" y="1406.76" width="71.9" height="5.87" fill="#f8dda6"/><rect x="1504.7" y="1412.28" width="71.9" height="5.87" fill="#f4c695"/><rect x="1504.7" y="1417.80" width="71.9" height="5.87" fill="#efac82"/><rect x="1504.7" y="1423.33" width="71.9" height="5.87" fill="#e47157"/><rect x="1504.7" y="1428.85" width="71.9" height="5.87" fill="#f0b085"/><rect x="1504.7" y="1434.37" width="71.9" height="5.87" fill="#f9dea7"/><rect x="1504.7" y="1439.90" width="71.9" height="5.87" fill="#f6ce9b"/><rect x="1504.7" y="1445.42" width="71.9" height="5.87" fill="#e67e60"/><rect x="1504.7" y="1450.94" width="71.9" height="5.87" fill="#efae84"/><rect x="1504.7" y="1456.46" width="71.9" height="5.87" fill="#e67f61"/><rect x="1504.7" y="1461.99" width="71.9" height="5.87" fill="#e1614b"/><rect x="1504.7" y="1467.51" width="71.9" height="5.87" fill="#e05e49"/><rect x="1504.7" y="1473.03" width="71.9" height="5.87" fill="#eb9772"/><rect x="1504.7" y="1478.56" width="71.9" height="5.87" fill="#efad83"/><rect x="1504.7" y="1484.08" width="71.9" height="5.87" fill="#f0af84"/><rect x="1504.7" y="1489.60" width="71.9" height="5.87" fill="#ec9e78"/><rect x="1504.7" y="1495.13" width="71.9" height="5.87" fill="#ec9c77"/><rect x="1504.7" y="1500.65" width="71.9" height="5.87" fill="#efac82"/><rect x="1504.7" y="1506.17" width="71.9" height="5.87" fill="#fceeb2"/><rect x="1504.7" y="1511.69" width="71.9" height="5.87" fill="#eb9a75"/><rect x="1504.7" y="1517.22" width="71.9" height="5.87" fill="#ec9b75"/><rect x="1504.7" y="1522.74" width="71.9" height="5.87" fill="#f7d8a2"/><rect x="1504.7" y="1528.26" width="71.9" height="5.87" fill="#fbe9af"/><rect x="1504.7" y="1533.79" width="71.9" height="5.87" fill="#ec9e78"/><rect x="1504.7" y="1539.31" width="71.9" height="5.87" fill="#e88868"/><rect x="1504.7" y="1544.83" width="71.9" height="5.87" fill="#e5775b"/><rect x="1504.7" y="1550.36" width="71.9" height="5.87" fill="#e78464"/><rect x="1504.7" y="1555.88" width="71.9" height="5.87" fill="#e78263"/><rect x="1504.7" y="1561.40" width="71.9" height="5.87" fill="#eb9874"/><rect x="1504.7" y="1566.92" width="71.9" height="5.87" fill="#f4c594"/><rect x="1504.7" y="1572.45" width="71.9" height="5.87" fill="#f6ce9b"/><rect x="1504.7" y="1577.97" width="71.9" height="5.87" fill="#e67f61"/><rect x="1504.7" y="1583.49" width="71.9" height="5.87" fill="#e67f61"/><rect x="1504.7" y="1589.02" width="71.9" height="5.87" fill="#e37056"/><rect x="1504.7" y="1594.54" width="71.9" height="5.87" fill="#ec9b75"/><rect x="1504.7" y="1600.06" width="71.9" height="5.87" fill="#e1624c"/><rect x="1504.7" y="1605.59" width="71.9" height="5.87" fill="#db4738"/><rect x="1504.7" y="1611.11" width="71.9" height="5.87" fill="#e67f61"/><rect x="1504.7" y="1616.63" width="71.9" height="5.87" fill="#eb9a75"/><rect x="1504.7" y="1622.15" width="71.9" height="5.87" fill="#efac82"/><rect x="1504.7" y="1627.68" width="71.9" height="5.87" fill="#e78465"/><rect x="1504.7" y="1633.20" width="71.9" height="5.87" fill="#eda079"/><rect x="1504.7" y="1638.72" width="71.9" height="5.87" fill="#ec9b76"/><rect x="1504.7" y="1644.25" width="71.9" height="5.87" fill="#e68061"/><rect x="1504.7" y="1649.77" width="71.9" height="5.87" fill="#f5cc9a"/><rect x="1504.7" y="1655.29" width="71.9" height="5.87" fill="#efae83"/><rect x="1504.7" y="1660.82" width="71.9" height="5.87" fill="#eb9773"/><rect x="1504.7" y="1666.34" width="71.9" height="5.87" fill="#ec9f78"/><rect x="1504.7" y="1671.86" width="71.9" height="5.87" fill="#ec9a75"/><rect x="1504.7" y="1677.38" width="71.9" height="5.87" fill="#e47258"/><rect x="1504.7" y="1682.91" width="71.9" height="5.87" fill="#e0604a"/><rect x="1504.7" y="1688.43" width="71.9" height="5.87" fill="#ec9f78"/><rect x="1504.7" y="1693.95" width="71.9" height="5.87" fill="#f0b387"/><rect x="1504.7" y="1699.48" width="71.9" height="5.87" fill="#eb9974"/><rect x="1504.7" y="1705.00" width="71.9" height="5.87" fill="#eb9974"/><rect x="1504.7" y="1710.52" width="71.9" height="5.87" fill="#ec9c76"/><rect x="1504.7" y="1716.05" width="71.9" height="5.87" fill="#f5ce9b"/><rect x="1504.7" y="1721.57" width="71.9" height="5.87" fill="#eb9874"/><rect x="1504.7" y="1727.09" width="71.9" height="5.87" fill="#efad83"/><rect x="1504.7" y="1732.61" width="71.9" height="5.87" fill="#e88666"/><rect x="1504.7" y="1738.14" width="71.9" height="2.41" fill="#e78263"/></g>
<rect x="1505.72" y="788.18" width="69.85" height="950.02" rx="34.93" ry="34.93" fill="none" stroke="#808080" stroke-width="2.85"/>
<polyline fill="none" stroke="#879ecd" stroke-width="3.0" stroke-linejoin="miter" points="1633.2,790.9 1641.1,796.5 1641.1,802.0 1630.5,807.5 1641.7,813.0 1638.4,818.6 1644.9,824.1 1633.9,829.6 1638.6,835.1 1637.9,840.6 1644.9,846.2 1641.1,851.7 1636.9,857.2 1632.9,862.7 1649.1,868.3 1646.0,873.8 1648.6,879.3 1630.9,884.8 1638.6,890.4 1638.1,895.9 1641.7,901.4 1646.0,906.9 1633.9,912.4 1648.5,918.0 1641.8,923.5 1640.9,929.0 1646.1,934.5 1633.4,940.1 1625.1,945.6 1623.9,951.1 1607.4,956.6 1632.6,962.2 1634.0,967.7 1634.3,973.2 1638.1,978.7 1630.2,984.2 1630.9,989.8 1646.3,995.3 1638.0,1000.8 1637.4,1006.3 1645.4,1011.9 1627.7,1017.4 1619.0,1022.9 1627.7,1028.4 1624.9,1034.0 1625.4,1039.5 1623.8,1045.0 1619.4,1050.5 1610.3,1056.0 1613.3,1061.6 1634.1,1067.1 1633.7,1072.6 1628.5,1078.1 1621.4,1083.7 1627.0,1089.2 1630.2,1094.7 1628.0,1100.2 1622.3,1105.8 1634.4,1111.3 1627.8,1116.8 1641.3,1122.3 1637.1,1127.8 1641.7,1133.4 1637.3,1138.9 1640.8,1144.4 1629.6,1149.9 1632.6,1155.5 1633.9,1161.0 1632.8,1166.5 1634.4,1172.0 1640.7,1177.6 1638.5,1183.1 1632.8,1188.6 1640.5,1194.1 1638.3,1199.6 1633.0,1205.2 1641.9,1210.7 1637.3,1216.2 1623.8,1221.7 1625.1,1227.3 1630.7,1232.8 1634.2,1238.3 1638.3,1243.8 1627.2,1249.4 1638.1,1254.9 1633.9,1260.4 1627.8,1265.9 1646.6,1271.4 1645.3,1277.0 1634.4,1282.5 1633.9,1288.0 1636.9,1293.5 1636.9,1299.1 1638.1,1304.6 1652.5,1310.1 1640.7,1315.6 1645.4,1321.2 1641.9,1326.7 1640.8,1332.2 1642.1,1337.7 1637.8,1343.2 1651.1,1348.8 1641.2,1354.3 1645.9,1359.8 1641.3,1365.3 1641.8,1370.9 1651.3,1376.4 1646.3,1381.9 1651.7,1387.4 1641.7,1392.9 1633.8,1398.5 1633.4,1404.0 1630.2,1409.5 1634.0,1415.0 1638.7,1420.6 1648.8,1426.1 1638.0,1431.6 1630.0,1437.1 1632.7,1442.7 1646.7,1448.2 1638.2,1453.7 1646.4,1459.2 1651.6,1464.7 1652.1,1470.3 1642.3,1475.8 1638.5,1481.3 1638.0,1486.8 1641.1,1492.4 1641.3,1497.9 1638.6,1503.4 1627.6,1508.9 1641.8,1514.5 1641.6,1520.0 1631.0,1525.5 1628.4,1531.0 1641.0,1536.5 1644.9,1542.1 1647.9,1547.6 1645.6,1553.1 1645.9,1558.6 1642.0,1564.2 1634.2,1569.7 1632.7,1575.2 1646.4,1580.7 1646.4,1586.3 1649.0,1591.8 1641.6,1597.3 1651.5,1602.8 1656.2,1608.3 1646.4,1613.9 1641.8,1619.4 1638.6,1624.9 1645.5,1630.4 1640.7,1636.0 1641.6,1641.5 1646.3,1647.0 1632.9,1652.5 1638.3,1658.1 1642.3,1663.6 1641.0,1669.1 1641.7,1674.6 1648.6,1680.1 1651.9,1685.7 1640.9,1691.2 1637.4,1696.7 1641.9,1702.2 1642.0,1707.8 1641.4,1713.3 1632.7,1718.8 1642.0,1724.3 1638.4,1729.9 1645.3,1735.4 1645.9,1737.0"/>
<text x="1551.8" y="1783.6" font-size="26.9" text-anchor="middle" textLength="167.8" lengthAdjust="spacingAndGlyphs">NC_024466.2</text>
<g clip-path="url(#c8)"><rect x="1688.32" y="900.17" width="69.85" height="838.03" fill="#f0b085"/><rect x="1687.3" y="900.17" width="71.9" height="5.87" fill="#efac82"/><rect x="1687.3" y="905.69" width="71.9" height="5.87" fill="#efac82"/><rect x="1687.3" y="911.21" width="71.9" height="5.87" fill="#fbecb1"/><rect x="1687.3" y="916.74" width="71.9" height="5.87" fill="#f5c998"/><rect x="1687.3" y="922.26" width="71.9" height="5.87" fill="#e78263"/><rect x="1687.3" y="927.78" width="71.9" height="5.87" fill="#f5cd9a"/><rect x="1687.3" y="933.31" width="71.9" height="5.87" fill="#e88666"/><rect x="1687.3" y="938.83" width="71.9" height="5.87" fill="#e88666"/><rect x="1687.3" y="944.35" width="71.9" height="5.87" fill="#eb9974"/><rect x="1687.3" y="949.87" width="71.9" height="5.87" fill="#f0b286"/><rect x="1687.3" y="955.40" width="71.9" height="5.87" fill="#f4c897"/><rect x="1687.3" y="960.92" width="71.9" height="5.87" fill="#f0b186"/><rect x="1687.3" y="966.44" width="71.9" height="5.87" fill="#e47459"/><rect x="1687.3" y="971.97" width="71.9" height="5.87" fill="#f1b488"/><rect x="1687.3" y="977.49" width="71.9" height="5.87" fill="#e88867"/><rect x="1687.3" y="983.01" width="71.9" height="5.87" fill="#eb9672"/><rect x="1687.3" y="988.54" width="71.9" height="5.87" fill="#f0b286"/><rect x="1687.3" y="994.06" width="71.9" height="5.87" fill="#e88767"/><rect x="1687.3" y="999.58" width="71.9" height="5.87" fill="#e78163"/><rect x="1687.3" y="1005.10" width="71.9" height="5.87" fill="#e68062"/><rect x="1687.3" y="1010.63" width="71.9" height="5.87" fill="#ed9f79"/><rect x="1687.3" y="1016.15" width="71.9" height="5.87" fill="#e78263"/><rect x="1687.3" y="1021.67" width="71.9" height="5.87" fill="#e78465"/><rect x="1687.3" y="1027.20" width="71.9" height="5.87" fill="#f0b085"/><rect x="1687.3" y="1032.72" width="71.9" height="5.87" fill="#e1654e"/><rect x="1687.3" y="1038.24" width="71.9" height="5.87" fill="#eda17a"/><rect x="1687.3" y="1043.77" width="71.9" height="5.87" fill="#eb9672"/><rect x="1687.3" y="1049.29" width="71.9" height="5.87" fill="#f4c595"/><rect x="1687.3" y="1054.81" width="71.9" height="5.87" fill="#ec9c76"/><rect x="1687.3" y="1060.33" width="71.9" height="5.87" fill="#e78263"/><rect x="1687.3" y="1065.86" width="71.9" height="5.87" fill="#f9dea7"/><rect x="1687.3" y="1071.38" width="71.9" height="5.87" fill="#efad83"/><rect x="1687.3" y="1076.90" width="71.9" height="5.87" fill="#fcedb2"/><rect x="1687.3" y="1082.43" width="71.9" height="5.87" fill="#f4c494"/><rect x="1687.3" y="1087.95" width="71.9" height="5.87" fill="#fbe9af"/><rect x="1687.3" y="1093.47" width="71.9" height="5.87" fill="#efad83"/><rect x="1687.3" y="1099.00" width="71.9" height="5.87" fill="#f7d7a1"/><rect x="1687.3" y="1104.52" width="71.9" height="5.87" fill="#fcefb3"/><rect x="1687.3" y="1110.04" width="71.9" height="5.87" fill="#f9e1a9"/><rect x="1687.3" y="1115.56" width="71.9" height="5.87" fill="#eaefbe"/><rect x="1687.3" y="1121.09" width="71.9" height="5.87" fill="#f5cd9a"/><rect x="1687.3" y="1126.61" width="71.9" height="5.87" fill="#f5ce9b"/><rect x="1687.3" y="1132.13" width="71.9" height="5.87" fill="#f9e1a9"/><rect x="1687.3" y="1137.66" width="71.9" height="5.87" fill="#f4c997"/><rect x="1687.3" y="1143.18" width="71.9" height="5.87" fill="#f4c595"/><rect x="1687.3" y="1148.70" width="71.9" height="5.87" fill="#fbedb2"/><rect x="1687.3" y="1154.23" width="71.9" height="5.87" fill="#e67e60"/><rect x="1687.3" y="1159.75" width="71.9" height="5.87" fill="#f7d7a2"/><rect x="1687.3" y="1165.27" width="71.9" height="5.87" fill="#f9e1a9"/><rect x="1687.3" y="1170.79" width="71.9" height="5.87" fill="#fefebf"/><rect x="1687.3" y="1176.32" width="71.9" height="5.87" fill="#f0b186"/><rect x="1687.3" y="1181.84" width="71.9" height="5.87" fill="#d2debc"/><rect x="1687.3" y="1187.36" width="71.9" height="5.87" fill="#fae7ae"/><rect x="1687.3" y="1192.89" width="71.9" height="5.87" fill="#f9dea7"/><rect x="1687.3" y="1198.41" width="71.9" height="5.87" fill="#c6d5bc"/><rect x="1687.3" y="1203.93" width="71.9" height="5.87" fill="#eef2be"/><rect x="1687.3" y="1209.46" width="71.9" height="5.87" fill="#fefcbd"/><rect x="1687.3" y="1214.98" width="71.9" height="5.87" fill="#fbebb0"/><rect x="1687.3" y="1220.50" width="71.9" height="5.87" fill="#ebf0be"/><rect x="1687.3" y="1226.02" width="71.9" height="5.87" fill="#ecf1be"/><rect x="1687.3" y="1231.55" width="71.9" height="5.87" fill="#f5cd9a"/><rect x="1687.3" y="1237.07" width="71.9" height="5.87" fill="#f4c494"/><rect x="1687.3" y="1242.59" width="71.9" height="5.87" fill="#f4c494"/><rect x="1687.3" y="1248.12" width="71.9" height="5.87" fill="#eaefbe"/><rect x="1687.3" y="1253.64" width="71.9" height="5.87" fill="#f6ce9b"/><rect x="1687.3" y="1259.16" width="71.9" height="5.87" fill="#f9dea7"/><rect x="1687.3" y="1264.69" width="71.9" height="5.87" fill="#fceeb2"/><rect x="1687.3" y="1270.21" width="71.9" height="5.87" fill="#eb9773"/><rect x="1687.3" y="1275.73" width="71.9" height="5.87" fill="#efac82"/><rect x="1687.3" y="1281.25" width="71.9" height="5.87" fill="#fffdbe"/><rect x="1687.3" y="1286.78" width="71.9" height="5.87" fill="#f9e1a9"/><rect x="1687.3" y="1292.30" width="71.9" height="5.87" fill="#7195b7"/><rect x="1687.3" y="1297.82" width="71.9" height="5.87" fill="#f4c796"/><rect x="1687.3" y="1303.35" width="71.9" height="5.87" fill="#f8daa4"/><rect x="1687.3" y="1308.87" width="71.9" height="5.87" fill="#efab81"/><rect x="1687.3" y="1314.39" width="71.9" height="5.87" fill="#f9e1a9"/><rect x="1687.3" y="1319.92" width="71.9" height="5.87" fill="#f9e0a8"/><rect x="1687.3" y="1325.44" width="71.9" height="5.87" fill="#f8d9a3"/><rect x="1687.3" y="1330.96" width="71.9" height="5.87" fill="#f4c494"/><rect x="1687.3" y="1336.48" width="71.9" height="5.87" fill="#f4c796"/><rect x="1687.3" y="1342.01" width="71.9" height="5.87" fill="#eaf0be"/><rect x="1687.3" y="1347.53" width="71.9" height="5.87" fill="#f4c897"/><rect x="1687.3" y="1353.05" width="71.9" height="5.87" fill="#eff3be"/><rect x="1687.3" y="1358.58" width="71.9" height="5.87" fill="#fcf1b4"/><rect x="1687.3" y="1364.10" width="71.9" height="5.87" fill="#ec9e77"/><rect x="1687.3" y="1369.62" width="71.9" height="5.87" fill="#f0b387"/><rect x="1687.3" y="1375.15" width="71.9" height="5.87" fill="#eda079"/><rect x="1687.3" y="1380.67" width="71.9" height="5.87" fill="#f5c998"/><rect x="1687.3" y="1386.19" width="71.9" height="5.87" fill="#f5cd9a"/><rect x="1687.3" y="1391.71" width="71.9" height="5.87" fill="#ec9e78"/><rect x="1687.3" y="1397.24" width="71.9" height="5.87" fill="#f1b488"/><rect x="1687.3" y="1402.76" width="71.9" height="5.87" fill="#efae84"/><rect x="1687.3" y="1408.28" width="71.9" height="5.87" fill="#f9e1a9"/><rect x="1687.3" y="1413.81" width="71.9" height="5.87" fill="#f8d9a3"/><rect x="1687.3" y="1419.33" width="71.9" height="5.87" fill="#e88666"/><rect x="1687.3" y="1424.85" width="71.9" height="5.87" fill="#eda17a"/><rect x="1687.3" y="1430.38" width="71.9" height="5.87" fill="#eb9773"/><rect x="1687.3" y="1435.90" width="71.9" height="5.87" fill="#f0b387"/><rect x="1687.3" y="1441.42" width="71.9" height="5.87" fill="#db4637"/><rect x="1687.3" y="1446.94" width="71.9" height="5.87" fill="#f7d8a2"/><rect x="1687.3" y="1452.47" width="71.9" height="5.87" fill="#efac82"/><rect x="1687.3" y="1457.99" width="71.9" height="5.87" fill="#f1b488"/><rect x="1687.3" y="1463.51" width="71.9" height="5.87" fill="#f0b186"/><rect x="1687.3" y="1469.04" width="71.9" height="5.87" fill="#f1b588"/><rect x="1687.3" y="1474.56" width="71.9" height="5.87" fill="#d73027"/><rect x="1687.3" y="1480.08" width="71.9" height="5.87" fill="#e67f61"/><rect x="1687.3" y="1485.61" width="71.9" height="5.87" fill="#e78163"/><rect x="1687.3" y="1491.13" width="71.9" height="5.87" fill="#e78364"/><rect x="1687.3" y="1496.65" width="71.9" height="5.87" fill="#dd4d3c"/><rect x="1687.3" y="1502.17" width="71.9" height="5.87" fill="#f8d8a3"/><rect x="1687.3" y="1507.70" width="71.9" height="5.87" fill="#e0604a"/><rect x="1687.3" y="1513.22" width="71.9" height="5.87" fill="#f0af84"/><rect x="1687.3" y="1518.74" width="71.9" height="5.87" fill="#e1634d"/><rect x="1687.3" y="1524.27" width="71.9" height="5.87" fill="#fcefb4"/><rect x="1687.3" y="1529.79" width="71.9" height="5.87" fill="#f1b589"/><rect x="1687.3" y="1535.31" width="71.9" height="5.87" fill="#efae84"/><rect x="1687.3" y="1540.84" width="71.9" height="5.87" fill="#e05f4a"/><rect x="1687.3" y="1546.36" width="71.9" height="5.87" fill="#e1634d"/><rect x="1687.3" y="1551.88" width="71.9" height="5.87" fill="#eb9873"/><rect x="1687.3" y="1557.40" width="71.9" height="5.87" fill="#ec9e78"/><rect x="1687.3" y="1562.93" width="71.9" height="5.87" fill="#e0614b"/><rect x="1687.3" y="1568.45" width="71.9" height="5.87" fill="#ed9f79"/><rect x="1687.3" y="1573.97" width="71.9" height="5.87" fill="#ec9e78"/><rect x="1687.3" y="1579.50" width="71.9" height="5.87" fill="#eb9873"/><rect x="1687.3" y="1585.02" width="71.9" height="5.87" fill="#f0b287"/><rect x="1687.3" y="1590.54" width="71.9" height="5.87" fill="#e5785c"/><rect x="1687.3" y="1596.07" width="71.9" height="5.87" fill="#e78364"/><rect x="1687.3" y="1601.59" width="71.9" height="5.87" fill="#ec9e77"/><rect x="1687.3" y="1607.11" width="71.9" height="5.87" fill="#e67e61"/><rect x="1687.3" y="1612.63" width="71.9" height="5.87" fill="#e88767"/><rect x="1687.3" y="1618.16" width="71.9" height="5.87" fill="#efab81"/><rect x="1687.3" y="1623.68" width="71.9" height="5.87" fill="#e88867"/><rect x="1687.3" y="1629.20" width="71.9" height="5.87" fill="#e37056"/><rect x="1687.3" y="1634.73" width="71.9" height="5.87" fill="#eb9a75"/><rect x="1687.3" y="1640.25" width="71.9" height="5.87" fill="#ec9f78"/><rect x="1687.3" y="1645.77" width="71.9" height="5.87" fill="#e47559"/><rect x="1687.3" y="1651.30" width="71.9" height="5.87" fill="#f0b387"/><rect x="1687.3" y="1656.82" width="71.9" height="5.87" fill="#f5cc99"/><rect x="1687.3" y="1662.34" width="71.9" height="5.87" fill="#e88666"/><rect x="1687.3" y="1667.86" width="71.9" height="5.87" fill="#dc4c3c"/><rect x="1687.3" y="1673.39" width="71.9" height="5.87" fill="#e36f55"/><rect x="1687.3" y="1678.91" width="71.9" height="5.87" fill="#efab81"/><rect x="1687.3" y="1684.43" width="71.9" height="5.87" fill="#f4c594"/><rect x="1687.3" y="1689.96" width="71.9" height="5.87" fill="#e88767"/><rect x="1687.3" y="1695.48" width="71.9" height="5.87" fill="#f0b387"/><rect x="1687.3" y="1701.00" width="71.9" height="5.87" fill="#efac82"/><rect x="1687.3" y="1706.53" width="71.9" height="5.87" fill="#f1b589"/><rect x="1687.3" y="1712.05" width="71.9" height="5.87" fill="#efae83"/><rect x="1687.3" y="1717.57" width="71.9" height="5.87" fill="#e5775b"/><rect x="1687.3" y="1723.09" width="71.9" height="5.87" fill="#efab81"/><rect x="1687.3" y="1728.62" width="71.9" height="5.87" fill="#eda17a"/><rect x="1687.3" y="1734.14" width="71.9" height="5.87" fill="#fffebe"/></g>
<rect x="1688.32" y="900.17" width="69.85" height="838.03" rx="34.93" ry="34.93" fill="none" stroke="#808080" stroke-width="2.85"/>
<polyline fill="none" stroke="#879ecd" stroke-width="3.0" stroke-linejoin="miter" points="1821.2,902.9 1821.2,908.5 1810.5,914.0 1816.1,919.5 1828.6,925.0 1815.5,930.5 1827.8,936.1 1827.8,941.6 1824.4,947.1 1820.2,952.6 1816.2,958.2 1820.3,963.7 1830.9,969.2 1819.8,974.7 1827.5,980.3 1825.0,985.8 1820.2,991.3 1827.6,996.8 1828.6,1002.3 1828.9,1007.9 1823.4,1013.4 1828.6,1018.9 1828.1,1024.4 1820.5,1030.0 1833.6,1035.5 1823.2,1041.0 1825.0,1046.5 1816.8,1052.0 1824.0,1057.6 1828.5,1063.1 1812.6,1068.6 1821.0,1074.1 1810.3,1079.7 1816.9,1085.2 1810.9,1090.7 1821.0,1096.2 1813.8,1101.8 1810.0,1107.3 1812.2,1112.8 1803.5,1118.3 1815.5,1123.8 1815.3,1129.4 1812.2,1134.9 1816.2,1140.4 1816.8,1145.9 1810.4,1151.5 1829.2,1157.0 1813.7,1162.5 1812.3,1168.0 1807.4,1173.6 1820.3,1179.1 1799.1,1184.6 1811.2,1190.1 1812.6,1195.6 1796.7,1201.2 1804.3,1206.7 1808.0,1212.2 1810.7,1217.7 1803.9,1223.3 1804.0,1228.8 1815.5,1234.3 1817.0,1239.8 1817.0,1245.4 1803.5,1250.9 1815.2,1256.4 1812.6,1261.9 1810.2,1267.4 1824.8,1273.0 1821.2,1278.5 1807.8,1284.0 1812.2,1289.5 1781.8,1295.1 1816.5,1300.6 1813.2,1306.1 1821.4,1311.6 1812.3,1317.2 1812.4,1322.7 1813.4,1328.2 1816.9,1333.7 1816.4,1339.2 1803.7,1344.8 1816.3,1350.3 1804.5,1355.8 1809.8,1361.3 1823.7,1366.9 1820.0,1372.4 1823.3,1377.9 1816.1,1383.4 1815.5,1389.0 1823.6,1394.5 1819.8,1400.0 1820.8,1405.5 1812.2,1411.0 1813.4,1416.6 1827.8,1422.1 1823.2,1427.6 1824.9,1433.1 1819.9,1438.7 1838.9,1444.2 1813.6,1449.7 1821.2,1455.2 1819.8,1460.8 1820.3,1466.3 1819.7,1471.8 1842.8,1477.3 1829.0,1482.8 1828.6,1488.4 1828.3,1493.9 1837.8,1499.4 1813.5,1504.9 1834.5,1510.5 1820.7,1516.0 1833.9,1521.5 1810.0,1527.0 1819.6,1532.6 1820.8,1538.1 1834.6,1543.6 1833.9,1549.1 1824.7,1554.6 1823.6,1560.2 1834.4,1565.7 1823.4,1571.2 1823.6,1576.7 1824.7,1582.3 1820.1,1587.8 1830.3,1593.3 1828.4,1598.8 1823.7,1604.3 1829.1,1609.9 1827.7,1615.4 1821.3,1620.9 1827.6,1626.4 1831.7,1632.0 1824.4,1637.5 1823.5,1643.0 1830.9,1648.5 1820.0,1654.1 1815.7,1659.6 1827.8,1665.1 1837.9,1670.6 1831.8,1676.1 1821.4,1681.7 1816.9,1687.2 1827.6,1692.7 1820.0,1698.2 1821.2,1703.8 1819.6,1709.3 1820.9,1714.8 1830.5,1720.3 1821.3,1725.9 1823.1,1731.4 1804.9,1737.0"/>
<text x="1734.4" y="1783.6" font-size="26.9" text-anchor="middle" textLength="167.8" lengthAdjust="spacingAndGlyphs">NC_024467.2</text>
<g clip-path="url(#c9)"><rect x="1870.92" y="946.27" width="69.85" height="791.93" fill="#f0b085"/><rect x="1869.9" y="946.27" width="71.9" height="5.87" fill="#ec9d77"/><rect x="1869.9" y="951.80" width="71.9" height="5.87" fill="#eda079"/><rect x="1869.9" y="957.32" width="71.9" height="5.87" fill="#fcf2b5"/><rect x="1869.9" y="962.84" width="71.9" height="5.87" fill="#f8d8a3"/><rect x="1869.9" y="968.36" width="71.9" height="5.87" fill="#f0b085"/><rect x="1869.9" y="973.89" width="71.9" height="5.87" fill="#e5785c"/><rect x="1869.9" y="979.41" width="71.9" height="5.87" fill="#f5ca98"/><rect x="1869.9" y="984.93" width="71.9" height="5.87" fill="#eb9773"/><rect x="1869.9" y="990.46" width="71.9" height="5.87" fill="#e1634c"/><rect x="1869.9" y="995.98" width="71.9" height="5.87" fill="#ec9b75"/><rect x="1869.9" y="1001.50" width="71.9" height="5.87" fill="#fafbbf"/><rect x="1869.9" y="1007.03" width="71.9" height="5.87" fill="#e1634c"/><rect x="1869.9" y="1012.55" width="71.9" height="5.87" fill="#f4c695"/><rect x="1869.9" y="1018.07" width="71.9" height="5.87" fill="#e78162"/><rect x="1869.9" y="1023.59" width="71.9" height="5.87" fill="#ec9f78"/><rect x="1869.9" y="1029.12" width="71.9" height="5.87" fill="#eda079"/><rect x="1869.9" y="1034.64" width="71.9" height="5.87" fill="#e8eebe"/><rect x="1869.9" y="1040.16" width="71.9" height="5.87" fill="#fbebb0"/><rect x="1869.9" y="1045.69" width="71.9" height="5.87" fill="#f8dca5"/><rect x="1869.9" y="1051.21" width="71.9" height="5.87" fill="#f9dea7"/><rect x="1869.9" y="1056.73" width="71.9" height="5.87" fill="#fcf0b4"/><rect x="1869.9" y="1062.26" width="71.9" height="5.87" fill="#f4c897"/><rect x="1869.9" y="1067.78" width="71.9" height="5.87" fill="#e78162"/><rect x="1869.9" y="1073.30" width="71.9" height="5.87" fill="#f4c695"/><rect x="1869.9" y="1078.82" width="71.9" height="5.87" fill="#f4c897"/><rect x="1869.9" y="1084.35" width="71.9" height="5.87" fill="#f5cc9a"/><rect x="1869.9" y="1089.87" width="71.9" height="5.87" fill="#f6ce9b"/><rect x="1869.9" y="1095.39" width="71.9" height="5.87" fill="#f4c796"/><rect x="1869.9" y="1100.92" width="71.9" height="5.87" fill="#f8dda6"/><rect x="1869.9" y="1106.44" width="71.9" height="5.87" fill="#efae83"/><rect x="1869.9" y="1111.96" width="71.9" height="5.87" fill="#f6ce9b"/><rect x="1869.9" y="1117.49" width="71.9" height="5.87" fill="#f4c695"/><rect x="1869.9" y="1123.01" width="71.9" height="5.87" fill="#f0b287"/><rect x="1869.9" y="1128.53" width="71.9" height="5.87" fill="#fbe9af"/><rect x="1869.9" y="1134.05" width="71.9" height="5.87" fill="#f7d8a2"/><rect x="1869.9" y="1139.58" width="71.9" height="5.87" fill="#f8dca5"/><rect x="1869.9" y="1145.10" width="71.9" height="5.87" fill="#f1b689"/><rect x="1869.9" y="1150.62" width="71.9" height="5.87" fill="#f4c594"/><rect x="1869.9" y="1156.15" width="71.9" height="5.87" fill="#fdfdbf"/><rect x="1869.9" y="1161.67" width="71.9" height="5.87" fill="#fffdbe"/><rect x="1869.9" y="1167.19" width="71.9" height="5.87" fill="#fcefb3"/><rect x="1869.9" y="1172.72" width="71.9" height="5.87" fill="#fafbbf"/><rect x="1869.9" y="1178.24" width="71.9" height="5.87" fill="#fffebe"/><rect x="1869.9" y="1183.76" width="71.9" height="5.87" fill="#ebf0be"/><rect x="1869.9" y="1189.28" width="71.9" height="5.87" fill="#dee7bd"/><rect x="1869.9" y="1194.81" width="71.9" height="5.87" fill="#f5cb98"/><rect x="1869.9" y="1200.33" width="71.9" height="5.87" fill="#e2eabd"/><rect x="1869.9" y="1205.85" width="71.9" height="5.87" fill="#c1d1bb"/><rect x="1869.9" y="1211.38" width="71.9" height="5.87" fill="#f5c997"/><rect x="1869.9" y="1216.90" width="71.9" height="5.87" fill="#c5d4bc"/><rect x="1869.9" y="1222.42" width="71.9" height="5.87" fill="#f5c997"/><rect x="1869.9" y="1227.95" width="71.9" height="5.87" fill="#d2debc"/><rect x="1869.9" y="1233.47" width="71.9" height="5.87" fill="#fbeab0"/><rect x="1869.9" y="1238.99" width="71.9" height="5.87" fill="#f8d8a3"/><rect x="1869.9" y="1244.51" width="71.9" height="5.87" fill="#f4c595"/><rect x="1869.9" y="1250.04" width="71.9" height="5.87" fill="#e78565"/><rect x="1869.9" y="1255.56" width="71.9" height="5.87" fill="#eb9974"/><rect x="1869.9" y="1261.08" width="71.9" height="5.87" fill="#f8dda6"/><rect x="1869.9" y="1266.61" width="71.9" height="5.87" fill="#fbeaaf"/><rect x="1869.9" y="1272.13" width="71.9" height="5.87" fill="#f6ce9b"/><rect x="1869.9" y="1277.65" width="71.9" height="5.87" fill="#eb9873"/><rect x="1869.9" y="1283.18" width="71.9" height="5.87" fill="#efab82"/><rect x="1869.9" y="1288.70" width="71.9" height="5.87" fill="#fbecb1"/><rect x="1869.9" y="1294.22" width="71.9" height="5.87" fill="#e1e9bd"/><rect x="1869.9" y="1299.74" width="71.9" height="5.87" fill="#fbecb1"/><rect x="1869.9" y="1305.27" width="71.9" height="5.87" fill="#f0b085"/><rect x="1869.9" y="1310.79" width="71.9" height="5.87" fill="#e5795d"/><rect x="1869.9" y="1316.31" width="71.9" height="5.87" fill="#e67e60"/><rect x="1869.9" y="1321.84" width="71.9" height="5.87" fill="#f5cc9a"/><rect x="1869.9" y="1327.36" width="71.9" height="5.87" fill="#f9dfa8"/><rect x="1869.9" y="1332.88" width="71.9" height="5.87" fill="#f5cd9b"/><rect x="1869.9" y="1338.41" width="71.9" height="5.87" fill="#f5cc99"/><rect x="1869.9" y="1343.93" width="71.9" height="5.87" fill="#efad83"/><rect x="1869.9" y="1349.45" width="71.9" height="5.87" fill="#e5795d"/><rect x="1869.9" y="1354.97" width="71.9" height="5.87" fill="#eda079"/><rect x="1869.9" y="1360.50" width="71.9" height="5.87" fill="#eb9974"/><rect x="1869.9" y="1366.02" width="71.9" height="5.87" fill="#ec9f78"/><rect x="1869.9" y="1371.54" width="71.9" height="5.87" fill="#f6ce9b"/><rect x="1869.9" y="1377.07" width="71.9" height="5.87" fill="#f0af84"/><rect x="1869.9" y="1382.59" width="71.9" height="5.87" fill="#e05f49"/><rect x="1869.9" y="1388.11" width="71.9" height="5.87" fill="#e78364"/><rect x="1869.9" y="1393.64" width="71.9" height="5.87" fill="#eb9974"/><rect x="1869.9" y="1399.16" width="71.9" height="5.87" fill="#eda079"/><rect x="1869.9" y="1404.68" width="71.9" height="5.87" fill="#df5c47"/><rect x="1869.9" y="1410.20" width="71.9" height="5.87" fill="#f4c796"/><rect x="1869.9" y="1415.73" width="71.9" height="5.87" fill="#f1b589"/><rect x="1869.9" y="1421.25" width="71.9" height="5.87" fill="#f9e0a8"/><rect x="1869.9" y="1426.77" width="71.9" height="5.87" fill="#ec9c76"/><rect x="1869.9" y="1432.30" width="71.9" height="5.87" fill="#f0b085"/><rect x="1869.9" y="1437.82" width="71.9" height="5.87" fill="#f0b387"/><rect x="1869.9" y="1443.34" width="71.9" height="5.87" fill="#e88767"/><rect x="1869.9" y="1448.87" width="71.9" height="5.87" fill="#f5ca98"/><rect x="1869.9" y="1454.39" width="71.9" height="5.87" fill="#f5cd9a"/><rect x="1869.9" y="1459.91" width="71.9" height="5.87" fill="#f4c897"/><rect x="1869.9" y="1465.43" width="71.9" height="5.87" fill="#f7d8a2"/><rect x="1869.9" y="1470.96" width="71.9" height="5.87" fill="#f5cd9a"/><rect x="1869.9" y="1476.48" width="71.9" height="5.87" fill="#f0b085"/><rect x="1869.9" y="1482.00" width="71.9" height="5.87" fill="#efae83"/><rect x="1869.9" y="1487.53" width="71.9" height="5.87" fill="#fcf0b4"/><rect x="1869.9" y="1493.05" width="71.9" height="5.87" fill="#eb9873"/><rect x="1869.9" y="1498.57" width="71.9" height="5.87" fill="#f4c494"/><rect x="1869.9" y="1504.10" width="71.9" height="5.87" fill="#f5ca98"/><rect x="1869.9" y="1509.62" width="71.9" height="5.87" fill="#fcfdbf"/><rect x="1869.9" y="1515.14" width="71.9" height="5.87" fill="#f7d8a2"/><rect x="1869.9" y="1520.66" width="71.9" height="5.87" fill="#e78364"/><rect x="1869.9" y="1526.19" width="71.9" height="5.87" fill="#e78465"/><rect x="1869.9" y="1531.71" width="71.9" height="5.87" fill="#f4c494"/><rect x="1869.9" y="1537.23" width="71.9" height="5.87" fill="#e68062"/><rect x="1869.9" y="1542.76" width="71.9" height="5.87" fill="#e78565"/><rect x="1869.9" y="1548.28" width="71.9" height="5.87" fill="#f5cc9a"/><rect x="1869.9" y="1553.80" width="71.9" height="5.87" fill="#f0b287"/><rect x="1869.9" y="1559.33" width="71.9" height="5.87" fill="#ec9c77"/><rect x="1869.9" y="1564.85" width="71.9" height="5.87" fill="#db4637"/><rect x="1869.9" y="1570.37" width="71.9" height="5.87" fill="#efad83"/><rect x="1869.9" y="1575.89" width="71.9" height="5.87" fill="#eb9773"/><rect x="1869.9" y="1581.42" width="71.9" height="5.87" fill="#e47157"/><rect x="1869.9" y="1586.94" width="71.9" height="5.87" fill="#f4c595"/><rect x="1869.9" y="1592.46" width="71.9" height="5.87" fill="#e5795d"/><rect x="1869.9" y="1597.99" width="71.9" height="5.87" fill="#f0b085"/><rect x="1869.9" y="1603.51" width="71.9" height="5.87" fill="#e67e60"/><rect x="1869.9" y="1609.03" width="71.9" height="5.87" fill="#e67e60"/><rect x="1869.9" y="1614.56" width="71.9" height="5.87" fill="#f0b387"/><rect x="1869.9" y="1620.08" width="71.9" height="5.87" fill="#e4755a"/><rect x="1869.9" y="1625.60" width="71.9" height="5.87" fill="#ec9a75"/><rect x="1869.9" y="1631.12" width="71.9" height="5.87" fill="#e78465"/><rect x="1869.9" y="1636.65" width="71.9" height="5.87" fill="#ec9b76"/><rect x="1869.9" y="1642.17" width="71.9" height="5.87" fill="#e88767"/><rect x="1869.9" y="1647.69" width="71.9" height="5.87" fill="#ec9c77"/><rect x="1869.9" y="1653.22" width="71.9" height="5.87" fill="#e78364"/><rect x="1869.9" y="1658.74" width="71.9" height="5.87" fill="#e5795d"/><rect x="1869.9" y="1664.26" width="71.9" height="5.87" fill="#e88767"/><rect x="1869.9" y="1669.79" width="71.9" height="5.87" fill="#e67e60"/><rect x="1869.9" y="1675.31" width="71.9" height="5.87" fill="#eb9974"/><rect x="1869.9" y="1680.83" width="71.9" height="5.87" fill="#eb9773"/><rect x="1869.9" y="1686.35" width="71.9" height="5.87" fill="#e47358"/><rect x="1869.9" y="1691.88" width="71.9" height="5.87" fill="#eb9874"/><rect x="1869.9" y="1697.40" width="71.9" height="5.87" fill="#efac82"/><rect x="1869.9" y="1702.92" width="71.9" height="5.87" fill="#f4c594"/><rect x="1869.9" y="1708.45" width="71.9" height="5.87" fill="#eda17a"/><rect x="1869.9" y="1713.97" width="71.9" height="5.87" fill="#f0af84"/><rect x="1869.9" y="1719.49" width="71.9" height="5.87" fill="#f0b387"/><rect x="1869.9" y="1725.02" width="71.9" height="5.87" fill="#eb9a75"/><rect x="1869.9" y="1730.54" width="71.9" height="5.87" fill="#f0b387"/><rect x="1869.9" y="1736.06" width="71.9" height="4.49" fill="#f0b085"/></g>
<rect x="1870.92" y="946.27" width="69.85" height="791.93" rx="34.93" ry="34.93" fill="none" stroke="#808080" stroke-width="2.85"/>
<polyline fill="none" stroke="#879ecd" stroke-width="3.0" stroke-linejoin="miter" points="2006.4,949.0 2006.0,954.6 1992.2,960.1 1996.1,965.6 2003.1,971.1 2012.9,976.6 1998.6,982.2 2007.4,987.7 2016.6,993.2 2006.8,998.7 1989.2,1004.3 2016.5,1009.8 1999.2,1015.3 2011.4,1020.8 2006.1,1026.4 2005.9,1031.9 1985.9,1037.4 1993.2,1042.9 1995.6,1048.4 1995.2,1054.0 1992.6,1059.5 1998.9,1065.0 2011.4,1070.5 1999.3,1076.1 1998.9,1081.6 1998.2,1087.1 1997.9,1092.6 1999.1,1098.2 1995.4,1103.7 2003.5,1109.2 1997.9,1114.7 1999.3,1120.2 2002.7,1125.8 1993.6,1131.3 1996.2,1136.8 1995.6,1142.3 2002.1,1147.9 1999.5,1153.4 1989.8,1158.9 1990.5,1164.4 1992.7,1170.0 1989.3,1175.5 1990.4,1181.0 1986.4,1186.5 1983.9,1192.0 1998.5,1197.6 1984.7,1203.1 1978.3,1208.6 1998.7,1214.1 1979.1,1219.7 1998.7,1225.2 1981.7,1230.7 1993.4,1236.2 1996.1,1241.8 1999.4,1247.3 2010.6,1252.8 2007.0,1258.3 1995.4,1263.8 1993.5,1269.4 1997.9,1274.9 2007.4,1280.4 2003.9,1285.9 1993.0,1291.5 1984.5,1297.0 1993.1,1302.5 2003.1,1308.0 2012.6,1313.6 2011.9,1319.1 1998.2,1324.6 1995.1,1330.1 1998.0,1335.6 1998.2,1341.2 2003.6,1346.7 2012.6,1352.2 2005.9,1357.7 2007.0,1363.3 2006.1,1368.8 1997.8,1374.3 2003.2,1379.8 2017.3,1385.4 2011.0,1390.9 2007.0,1396.4 2005.9,1401.9 2017.8,1407.4 1999.1,1413.0 2002.2,1418.5 1995.0,1424.0 2006.6,1429.5 2003.0,1435.1 2002.6,1440.6 2010.3,1446.1 1998.5,1451.6 1998.0,1457.2 1998.9,1462.7 1996.2,1468.2 1998.0,1473.7 2003.2,1479.2 2003.5,1484.8 1992.5,1490.3 2007.3,1495.8 1999.5,1501.3 1998.5,1506.9 1989.7,1512.4 1996.2,1517.9 2011.0,1523.4 2010.8,1528.9 1999.5,1534.5 2011.5,1540.0 2010.7,1545.5 1998.2,1551.0 2002.7,1556.6 2006.5,1562.1 2021.6,1567.6 2003.6,1573.1 2007.4,1578.7 2014.1,1584.2 1999.4,1589.7 2012.7,1595.2 2003.1,1600.7 2011.8,1606.3 2011.8,1611.8 2002.6,1617.3 2013.4,1622.8 2006.9,1628.4 2010.7,1633.9 2006.7,1639.4 2010.2,1644.9 2006.5,1650.5 2011.0,1656.0 2012.6,1661.5 2010.3,1667.0 2011.9,1672.5 2007.2,1678.1 2007.5,1683.6 2013.8,1689.1 2007.2,1694.6 2003.8,1700.2 1999.4,1705.7 2005.8,1711.2 2003.3,1716.7 2002.6,1722.3 2007.0,1727.8 2002.6,1733.3 1970.0,1737.0"/>
<text x="1917.0" y="1783.6" font-size="26.9" text-anchor="middle" textLength="167.8" lengthAdjust="spacingAndGlyphs">NC_024468.2</text>
<rect x="1731" y="235" width="214" height="42.7" fill="url(#lg)"/>
<text transform="translate(1730.9,311.9) scale(0.96,1)" font-size="37.5">Low</text>
<text transform="translate(1885.2,311.9) scale(0.96,1)" font-size="37.5">High</text>
</svg></body></html>
